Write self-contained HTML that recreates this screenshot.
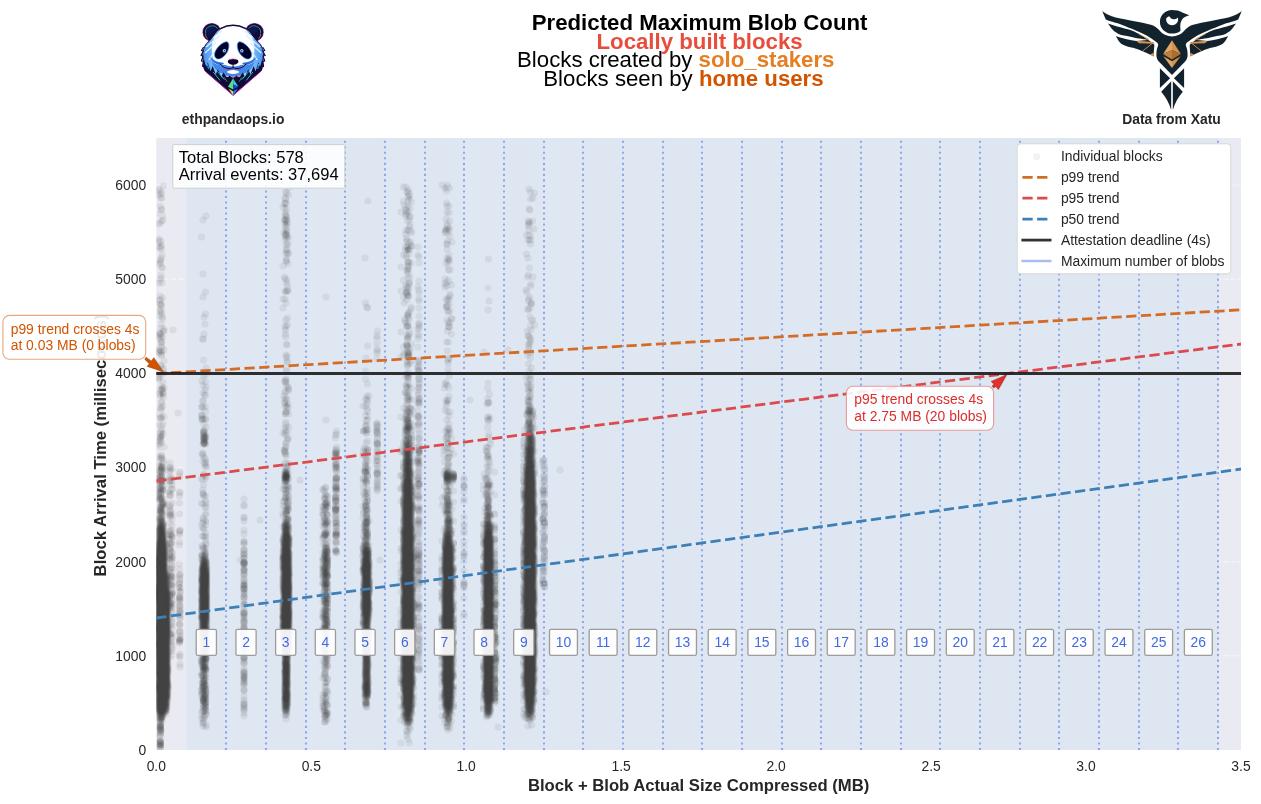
<!DOCTYPE html>
<html><head><meta charset="utf-8"><title>Predicted Maximum Blob Count</title>
<style>html,body{margin:0;padding:0;background:#fff}body{width:1261px;height:804px;overflow:hidden;font-family:"Liberation Sans",sans-serif}</style>
</head><body>
<svg width="1261" height="804" viewBox="0 0 1261 804" style="display:block;will-change:transform" font-family="'Liberation Sans', sans-serif">
<rect width="1261" height="804" fill="#fff"/>
<defs><clipPath id="pc"><rect x="156.3" y="138.0" width="1084.7" height="612.0"/></clipPath></defs>
<rect x="156.3" y="138.0" width="1084.7" height="612.0" fill="#eaeaf2"/>
<path d="M156.3 655.8H1241.0M156.3 561.7H1241.0M156.3 467.5H1241.0M156.3 373.4H1241.0M156.3 279.2H1241.0M156.3 185.1H1241.0M311.3 138.0V750.0M466.2 138.0V750.0M621.2 138.0V750.0M776.1 138.0V750.0M931.1 138.0V750.0M1086.0 138.0V750.0" stroke="#fff" stroke-width="1.39" stroke-dasharray="5.14 2.22" fill="none" opacity="0.45" clip-path="url(#pc)"/>
<rect x="186.50" y="138.0" width="39.73" height="612.0" fill="#dce5f0" opacity="0.88"/>
<rect x="226.18" y="138.0" width="39.73" height="612.0" fill="#dde6f1" opacity="0.88"/>
<rect x="265.86" y="138.0" width="39.73" height="612.0" fill="#dce5f0" opacity="0.88"/>
<rect x="305.54" y="138.0" width="39.73" height="612.0" fill="#dde6f1" opacity="0.88"/>
<rect x="345.22" y="138.0" width="39.73" height="612.0" fill="#dce5f0" opacity="0.88"/>
<rect x="384.90" y="138.0" width="39.73" height="612.0" fill="#dde6f1" opacity="0.88"/>
<rect x="424.58" y="138.0" width="39.73" height="612.0" fill="#dce5f0" opacity="0.88"/>
<rect x="464.26" y="138.0" width="39.73" height="612.0" fill="#dde6f1" opacity="0.88"/>
<rect x="503.94" y="138.0" width="39.73" height="612.0" fill="#dce5f0" opacity="0.88"/>
<rect x="543.62" y="138.0" width="39.73" height="612.0" fill="#dde6f1" opacity="0.88"/>
<rect x="583.30" y="138.0" width="39.73" height="612.0" fill="#dce5f0" opacity="0.88"/>
<rect x="622.98" y="138.0" width="39.73" height="612.0" fill="#dde6f1" opacity="0.88"/>
<rect x="662.66" y="138.0" width="39.73" height="612.0" fill="#dce5f0" opacity="0.88"/>
<rect x="702.34" y="138.0" width="39.73" height="612.0" fill="#dde6f1" opacity="0.88"/>
<rect x="742.02" y="138.0" width="39.73" height="612.0" fill="#dce5f0" opacity="0.88"/>
<rect x="781.70" y="138.0" width="39.73" height="612.0" fill="#dde6f1" opacity="0.88"/>
<rect x="821.38" y="138.0" width="39.73" height="612.0" fill="#dce5f0" opacity="0.88"/>
<rect x="861.06" y="138.0" width="39.73" height="612.0" fill="#dde6f1" opacity="0.88"/>
<rect x="900.74" y="138.0" width="39.73" height="612.0" fill="#dce5f0" opacity="0.88"/>
<rect x="940.42" y="138.0" width="39.73" height="612.0" fill="#dde6f1" opacity="0.88"/>
<rect x="980.10" y="138.0" width="39.73" height="612.0" fill="#dce5f0" opacity="0.88"/>
<rect x="1019.78" y="138.0" width="39.73" height="612.0" fill="#dde6f1" opacity="0.88"/>
<rect x="1059.46" y="138.0" width="39.73" height="612.0" fill="#dce5f0" opacity="0.88"/>
<rect x="1099.14" y="138.0" width="39.73" height="612.0" fill="#dde6f1" opacity="0.88"/>
<rect x="1138.82" y="138.0" width="39.73" height="612.0" fill="#dce5f0" opacity="0.88"/>
<rect x="1178.50" y="138.0" width="39.73" height="612.0" fill="#dde6f1" opacity="0.88"/>
<g clip-path="url(#pc)">
<g fill="#404040" fill-rule="evenodd" stroke="none">
<path d="M409.8 199.3l-1.6 0l-1-.6l-.6-.9l.2-1l3-.9l1.4 .4l.6 .9l0 .8l-1 .9zM285.2 207.4l-1.9-.6l-.4-1l.3-.6l2-1l1.2 1l-.2 1zM287.2 225.4l-2 0l-1.2-.6l-.4-2.6l.6-1.3l2-.2l2 1.5l.4 2zM286.2 234.3l-1-.2l-1.7-1.9l-.3-1.4l.6-1l2 0l1.9 1.4l.1 .6l-.6 1.5zM161.2 245.8l-2 .2l-1-.5l-.4-.7l2.4-1l1 0l.5 .4l.1 1zM406.8 253.4l-.3-.6l.4-1l-.5-.6l-1.6-.6l-.4-.8l.4-1.1l1.3-1.5l1.1-.5l1 .4l.7 .7l-.3 2l1.4 1l.2 1l-.4 .6l-1.6 .1zM409.2 355.9l-2 .2l-1.3-.9l-.1-.4l1.1-3.6l-1.2-1.4l1.1-.9l2.4-.5l.8 .4l.2 1.4l.8 1.6l.4 3l-.2 .4zM450.2 361.8l-1 .3l-1-.2l-.7-.7l0-.4l.7-.6l1.6 .1l.7 .9zM409.2 375.9l-1.4 0l-1.6-.6l.4-1.5l1.2-.4l2 .4l.6 1l-.2 .4zM408.2 389.3l-.4 .2l-.3-.3l0-2l-1.7-1l.1-1l1.3-1.3l2 .5l.8 1.4l-.2 1.6zM531.2 391.4l-1 0l-1.4-.6l-.6-.6l-.3-1.4l1.3-.5l2.6 .9l.6 1zM162.2 396.8l-1 .2l-1-.2l.1-1l-1-2l1.9-3l1.6 .9l.8 1.5l0 2.6zM529.8 400.3l-1.6 .1l-1-.6l0-.6l1.2-1.4l.3-1l.5-.3l1.6 1l.6 .7l0 .6l-.8 1zM409.8 400.3l-.6 .3l-.4-.4l-.3-1l.7-1l.6-.2l.6 .2l.1 .6zM448.8 404.3l-2 .4l-1.5-.9l-.9-2l.2-1l.6-1l2.1-.6l1.3 .6l1.1 1l.4 2zM285.8 405.8l-1.6-.2l-.4-.8l.2-.6l1.4-2l1.4-.6l.9 .2l.4 1l-.3 1.8l-.6 .6zM529.8 415.3l-3-.9l-1-2.2l.3-1l1.7-2.1l1.4-.7l1.6 0l.7 .4l.9 1.4l.3 3l-.9 1.3zM408.8 726.8l-1.6 0l-1.4-1.1l-2.9-5.9l-1.6-6l.5-4l-1.3-2l-.3-1.6l.4-3.4l-.5-5.6l1-4l-1.1-3l-.2-6.4l.3-9l-.3-7l0-9l.4-3.6l-.1-3.4l-.6-2l.4-4l-.5-6.6l.6-2.4l0-5l-.4-3l.3-6l-.1-3l.4-3l-.3-2.6l.3-3l-.5-9.4l.6-9l-.7-14l.6-3.5l.1-3.1l-.5-3l.3-4l-.3-3l.1-16l.3-2.4l-.4-3l0-7.6l.5-6l-.3-6.4l.6-5.6l-.2-6.4l-.5-3.6l.1-7l1-4.4l-.9-9l.3-2.6l1.4-2.6l.4-4.4l-.4-3l.2-4l-.5-2l.7-6.4l-.4-5l-.4-2l1.8-4.6l-.3-5.4l2.9-3l.5-1l-.1-.6l-1-.7l-.2-.7l.9-2.6l-1.4-1.4l-1-4.6l.6-3l1.4-3l-.5-2.4l2.1-6l2.1-1.6l1.2 2l-.3 2l1.2 3.6l-.2 2.4l1.5 5l-.6 2.6l-1.8 2l-.3 1l.3 2l1.5 1.4l.8 1.6l-.4 1.4l.3 1l-.7 1.6l.6 4l-.2 3.4l1.1 5l-.4 2.6l.8 9l-.1 2.4l1.2 4.6l-.2 1.4l-1.3 3.5l0 1.1l.6 4l1.2 2l.4 2l-.7 4l.5 2.4l-.2 2l.2 2.6l-.6 2l1 3l.1 2.4l.4 2l-1.2 8l.9 13.6l-.4 3.4l.7 2.6l-.5 2l.1 4l-.6 4l.7 3.6l1.1 1.8l-.1 2.1l-1.1 1.9l.5 .7l1-1.2l1.6 .2l.7 .3l1 1.6l-.3 .7l-2.5 .3l.5 .6l2 .3l.2 .5l-1.2 .3l-2.4-.7l-.6 .4l-.4 6l.3 2.6l-.2 4.4l-.5 2l.3 1.6l.1 9l.4 2l-.4 1.4l.4 5l-.5 1.6l0 4l.5 2.5l.6 .7l1.7 2.2l1.7 .6l.7 1l-.6 1l-2.5 1l-.6 2.4l-1 1.1l-.5 1.9l.1 1.1l1.9 5.5l-1.3 2.4l.7 5l-1.3 2l-.3 1.6l.3 1.5l1.3 2.9l-1 4.6l.3 2.4l-.6 3l.5 4.6l.8 2l-1.1 5l.4 3.4l-.9 4l1.2 3.6l-1.2 5.4l.4 4.6l-.3 2.4l.8 3.6l-.9 4l-.8 6l1 3l-.6 3l.5 4l-.8 9.4l-1.3 3.6l0 4l-1.5 2.4l-1.2 3.6zM367.8 414.9l-2-.7l-.1-1l1.1-.3l1.4 .4l.4 .9zM489.2 419.8l-1.4-.2l-.9-1.4l.1-1l.6-1l1.6-.8l1.6 .6l.3 1.2l-.4 1.6zM366.2 419.4l-1-.1l-.4-.4l.2-1.1l1.2-.7l1.6 .3l.3 .8l-.3 .5zM530.8 717.8l-3.6 .1l-1-.6l-.7-1.1l-1.1-3.4l.1-2.6l-1.2-7l.1-2l-.9-2l-.4-4l.9-5.4l-1.7-4l.5-4l-.4-8l1-3l-.8-4.6l1-5l-1.6-5l.9-5.4l-1.4-5.6l1.3-6.4l-.7-3l.6-4l-.7-3l.1-2.6l-.4-3.4l.7-3.6l-.7-3l1.5-4.4l-.7-2.6l-.5-10l-.7-3.4l1.4-4.6l-.7-3l1.1-4.4l-1.5-7l1.1-3.6l.8-4.4l-.2-1l-1.4-2l-.4-1.6l.8-3.4l-.5-3.6l.3-11.4l-.4-3l2-16.6l-.3-1.4l-1.3-2.6l.2-3.4l.8-2.6l-.4-4l-.7-3l1.3-5l.1-2.4l-1.4-3.6l0-6l.4-1.4l1.7-3.6l-.7-2.4l.3-1.6l-.2-3l.7-2.4l-.3-1.6l-.1-9l.1-1.4l1-3l-.2-4.6l.3-5.4l-.1-6l1.1-12l1.2-3.6l1-1l.6-2l0-1l-.7-1l0-.4l1-1l.2-1l1.8-1.6l.1-.4l-.8-1.6l.4-.6l1-.2l2 1.8l-.6 2.6l.5 2l-.6 1l.7 1.4l.4 3l1.6 3.6l1.6 5.4l-.3 12l-1 5l1 3l.2 3l-.6 5.6l1 5l-.2 3l.5 7l-.2 4l.6 5l-.3 3.4l0 6.6l1 5l-.3 2.4l.4 4l-1.4 4l1 4l-.2 4l.6 3l-.8 4l.6 3.6l0 5.4l0 6.6l-.5 5.4l.8 6l-.4 7l.2 5l-.7 4.6l-.1 3l.4 3l-.1 4.4l.5 6l.1 11.6l-.9 4l.8 4l-1.1 7.4l.7 4l.5 10.6l-.6 4l.4 2.4l.2 9l-.1 6l-.9 4.6l.3 4.4l.7 4l-.8 5l.7 6l-.2 2l-.7 2l-.3 3l.5 5.6l-.7 3l-.2 5l-.6 3l-.2 4l.3 3l-1.4 3.4l-2.4 3zM162.2 439.3l-1.4-.1l-1.6-.8l-.7-1.2l0-1l1.3-2l-.2-1.4l.6-1.5l1.6-.7l2-.3l.9 .5l.2 .4l-.6 2.6l-.9 1l.8 2l-.4 1.5zM449.2 433.8l-1 .3l-1.4-1.2l-.3-.7l.3-1.1l3-.6l1 .5l-.1 1.2l-.9 1.4zM204.2 447.3l-1.4-.5l-1-1.3l-.3-4.7l.9-1l.3-1.6l.9-.4l.2-.6l-1.5-1l.1-1l1.8-1.8l1.6-.3l.9 .7l-.7 1l-.2 2.4l1.9 2.6l-.5 2l.2 2l-1.1 2.4zM446.2 442.3l-.4-.5l.7-1l2.3-.7l1.3 .7l.1 .4l-.4 .5zM420.2 456.1l-1.4 .1l-1.6-.4l-.3-2l-.8-2l1-2.6l1.1-1l1-.4l1 .4l1 .9l1.2 2.7zM367.8 456.4l-1.6 .1l-1.2-.7l-.1-.6l1-1l-.2-1l.4-1l-.2-.4l-.8-.6l-.2-1l1.3-1.1l.6 0l.5 .7l-.6 2l1.1 .5l.8 1.5l0 1.4zM336.8 456.8l-1.2 0l-1.4-1.6l-.1-1l.4-.4l2.3-.3l1.5 .7l.3 .6l-.4 1l-.4 .6zM488.8 457.8l-1 0l-.6-.4l-.1-1.2l1.7-.2l1 .6l0 .6zM205.2 460.9l-1.4-.1l-.5-.6l.5-.5l2-.5l.1 1zM419.2 464.8l-2-.1l-.7-.9l.4-3.6l.9-1l1.4 .1l.9 .5l.2 2l.9 1l-.4 1.2zM364.8 495.3l-1-.4l-.4-.7l.6-2l-.5-2l2.1-3.4l-1.5-1.6l-.4-1.4l-1.2-1.6l-.1-1l.5-1l1.7-1.4l-.8-1l.3-3.6l1-2.4l-.7-3l.4-2l-.8-1l-.1-1l.9-2.1l.4-.4l1-.2l1.6 .5l.3 .6l0 2l.7 2.4l-.2 2.6l.9 1.6l.2 1l-.6 2l-2.2 2.4l.8 1.6l0 3l-1.7 3l.2 1.4l.7 1l-.3 2l1.4 2l.5 1.6l-1.8 2zM378.2 463.9l-2 0l-.8-.7l-.1-.4l.9-.7l2.6 .1l.5 .6l-.1 .4zM161.2 733.4l-1 .2l-1-.7l-1.3-2.1l-.7-2l-.1-1.6l.8-2.4l.8-1l.2-1.6l-2.5-4l-1.2-7.4l-.8-2.6l.4-5l-.3-4.4l.7-3l-1.1-7.6l.9-7.4l0-5l-.5-4.6l.3-2.4l-.3-2l.3-3.6l-.7-2l.8-6l-.3-4.4l-1-3l.6-3.6l-.7-4l.9-2l.1-5l-.5-4l-.8-2l-1-.5l-.3-.9l.4-1l1.9-2.2l.6-1.8l-.4-3l.4-2.6l-.5-7.4l0-10.6l-1.1-3.2l-.7-1.2l-.1-1l.2-1.6l1.9-4l.3-3.4l-.1-9l-.8-5l.9-6l-.8-5.6l.8-3.3l-.3-2.1l.7-6.6l-.3-3l.6-3.4l-.1-10l1.7-9l2.3-5.6l-.2-1l-1.3-1.4l-.1-1l2.1-3.6l-.3-3.4l.3-1.6l-.1-.5l-1.2-.9l-.4-1l.8-4l-1.6-1l0-.6l.1-3l1.8-8l-1.1-3.4l.8-4l-.4-1.6l.3-1.4l-.5-1.6l.6-2l-1.2-1.4l.1-.6l2.1-2l0-.4l-.8-.3l-.4-.7l.3-.6l1.1-.2l2.1 1.2l.5 2.9l1.4 1.1l.5 1.6l-1 5l1.4 3l-.2 4l-2 3l1.2 2l0 2.4l-.7 2.6l-1.5 3l2.3 5.2l-.3 2.8l.9 1l.4 1.4l-.9 2.6l-.7 4.4l.7 1l-.4 2.6l1.2 2.4l1.9 6.6l-.2 3l.8 7l-.3 2.4l.3 2.6l.6 2.7l1.5 1.3l.9 2.4l-.8 .3l-1.6-.2l-.4 .9l.7 4l-.3 3l.6 .5l.4-1l2-1l2 .5l.7 1l-1.8 3.6l.4 1.4l-1.3 .3l-2.4-1.1l-.5 .4l.3 1.4l-.4 3l0 6.6l.6 .9l1.7 1.5l1.7 .4l1 .6l1.4 2l-.7 2l.2 1.6l-.9 .7l-2 .3l-.5 1l.2 1.4l.6 1.6l-.7 4.4l.5 1l-.2 1.6l.2 .4l1.6 1l.1 .6l-.3 1.4l.3 2.6l-1.4 4.4l.2 .7l1.4 1l.9 1.9l-.3 1l-1.6 .9l-.6 1.5l-.4 3l.3 2.6l-.6 3l.4 2.4l-.3 5.6l.4 4.4l.4 1.4l1.9 3.2l.5 2.4l-.6 1l-2.4 1.9l.2 3.1l-.5 3l.4 4l.1 4l-.4 4l.6 12.6l-.6 8l.7 9l-.5 5.4l0 6.6l-.6 3l-.5 7.4l-.4 2.6l-.7 1.4l-2.5 2.6l-1.5 4l-2.5 3l0 1l.7 1.3l.6 2.1l0 2l-.6 1.5zM286.8 466.4l-3 0l-.6-.6l.1-1l1.5-1.1l1.4 .1l.6 .4l.5 1l-.1 .8zM338.2 467.3l-4 .2l-.4-.3l-.3-1l.5-1l.8-.5l1.4-.3l1.6 .1l1 .6l.3 .7l0 1zM286.2 484.3l-2-.2l-1-.6l-1.8-3.3l-.5-3l.5-4.4l.5-1.6l1.9-2.1l1-.6l1.4-.3l1.6 .5l1.8 2.1l1.1 5l-.5 4.4l-.6 1.6l-1.4 1.9zM337.2 470.4l-1.4-.3l-.4-.9l.8-.6l1.2 .2l.7 1zM448.8 724.4l-2-.9l-1.3-1.7l-.1-1l.6-1l-.6-1.6l-.1-1.4l-2.2-4l-1.6-7l0-4l-.8-5l.3-5l.6-2.6l-.1-5l-.7-3.4l.2-3.6l-.6-3.4l.2-2l.8-3l-1.1-4.6l.9-3l0-1.4l-.9-4l0-4l.9-9.6l-.5-5l.5-4l-.8-5l.7-15l-.5-10.4l.5-2.6l-.2-6.4l.2-2.6l-.4-4.4l.7-2l-.2-3l.6-6.6l-.9-6.4l.1-10l.5-7.6l-.5-3.4l1-8l.3-5.6l1.1-5.4l1.1-3.6l-.5-4l2-5l-1.1-2.4l-.5-3.6l.4-.9l.8-.5l-.7-1.6l.5-3l-.4-3l-.7-1.4l0-2l1.2-2.6l.3-1.7l2.7-3.3l-2.1-2l-.4-2.4l-.9-1l-1.7-4l-.9-3.6l-.1-3l.5-1.4l.9-1.2l1.4-1.1l2-.6l2 .6l2 1.9l2-.2l2 .6l1.4 1.4l.9 3l-.4 2l-.9 1.6l-2 1.1l-2.4 .1l-.6 .5l-.3 1.3l-1.1 .7l-.8 1.3l1 1.4l.1 3.6l1.2 2l-1.4 2.4l.3 2l-.3 1.6l1.6 4.4l.2 1.6l-.2 2l-1.1 3.4l.9 2.6l-.9 1.4l-.2 1.6l2.3 3.4l.6 2l0 2.6l-1.3 2l.1 .4l1.1 2l.4 1.6l.3 5l-.2 7l1.4 3.4l1.1 5l-.9 4.6l.6 3l.1 2.4l-.9 3l1.4 5.6l-.3 4.4l-.6 4l.4 3l.1 6.6l-1.2 7.4l.5 4l-.4 2.6l1.2 3.4l-1 11l1 4l-.6 3.6l.2 2.4l-.3 2l.5 3l0 7l-.7 3.6l.9 5.4l-.4 3.6l.3 2.4l-.2 4.6l-.6 4l.8 3.4l-.4 3.6l.3 3l0 6l-1 6.4l1 4l-.5 5l.1 2.6l-.5 2.4l.3 3.6l-1.1 3l-.6 10l-1 2l-1.6 1.4l0 .6l1 1.4l-.3 2.6l-.8 1.3zM204.8 480.4l-1-.1l-1-1.2l-.4-3.3l.4-.4l1.4 .2l1.2 1.2l-.1 3zM419.2 482.4l-1 .2l-1-.2l-.6-.6l0-.6l1.2-.9l2-.1l.6 .6l0 .4l-.2 .6zM489.8 486.9l-1 .1l-1.6-.4l-1.1-1.4l.3-1.4l1.4-1.2l2 0l1.2 1.2l.4 1.4l-.6 1zM337.2 490.9l-2 0l-.9-.7l-.3-.4l.2-1.2l1.6-2l1.9 .2l1.2 1.4l-.6 2zM545.2 492.1l-.4 .1l-1.2-.4l0-1l-.8-.6l-.5-1l.5-.9l2 .1l1.3 .8l.1 .6l-1.1 1.4zM285.2 492.4l-1 .3l-.4-.3l-.1-1.2l1.1-.8l1.4-.1l.5 .5l-.1 .4zM172.2 492.9l-1 .2l-1-.5l-.5-.8l.3-.6l.8-.2l1.4 .6l.4 .6zM286.8 500l-1 .2l-.4-1l1.2-1l.4-1l.8 .1l.6 .5l0 1zM337.2 504.3l-1.4 .1l-1-.3l-2-2.3l-.2-1l.4-1.6l1.8-1.5l1.4-.3l1 .3l1 .8l.8 1.3l0 2.4l-.9 1.6zM368.2 505l-2 0l-1.7-1.2l0-1l.3-.5l1.5-1.1l-1.4-1.4l.1-.6l.8-.4l1 0l1.4 1l-.1 1.4l1 2l-.2 1zM287.8 713.9l-2 0l-2.6-1.5l-1.3-2.2l-.6-2l-.3-9.4l.4-4l-.4-3.6l.5-10l-.5-10l.5-4l-.2-4l.3-4.4l-.5-3.6l.1-3.8l-.6-2.6l-.5-6l-.8-5l.3-3.6l-.4-9l.3-4l-.4-4.4l.4-4l-.2-8l.2-4l.8-3.6l-.9-9.4l.1-11l.4-3l-.6-6.6l-.1-10l.6-4l-.2-3l.6-3l-.8-7.4l1.8-7.8l-.2-6.2l.3-2l1.9-4l2.6-2l.2-.6l-.3-1l.3-1l-.9-1.4l.3-1.6l-.6-1.4l.3-3l1.4-1l-1.7-1.6l-.9-1.4l0-1l.9-.3l3.4 .3l1.8 3l-.8 2l0 1l-.7 1l0 .4l1.3 1.6l.1 1.4l-2.9 2l.4 2l1.4 1.1l1.6 3.5l1.6 6l.2 2l-.6 3.4l.9 3l.2 2.6l-.1 6.4l-.6 3.6l.6 4l.2 22.4l-.3 3l.3 7.6l-.1 10.4l.3 3l-.5 7.6l.4 4.4l-.2 26.6l-.3 10l-1.3 4.4l.1 3l-.4 7.6l.3 2.4l-.3 13.6l.3 5.4l-.3 4.6l.4 5.4l-.2 11l-.6 4.6l-1.5 3.4zM490.2 716.3l-2.4 .3l-2.6-1.1l-1.1-1.3l-.6-3l0-4.4l-.7-5.6l-1-2.4l-.8-6l.3-3l-.3-3.6l.9-4l-.5-4l.8-3l-.3-1.4l-1-2.6l-.2-2l.4-2.4l.9-2.6l-.6-4.4l.7-3l.1-3l-.1-2.6l-1-3l-.3-4.4l-.8-3.6l.8-3.4l-.5-4l1.1-3.6l.5-3l-1.5-4l-.2-5l.6-3.4l-.6-3.6l.5-2l1.5-2l.4-1l-.4-2.4l-1.5-5l.1-1l1.1-3l-.7-3.6l-.1-9l-.9-8.4l.8-3.6l-.2-3l1.5-3.4l-1.3-8.6l.2-2l1.3-3.4l-.8-2.6l.1-2.4l-.5-1.6l-.1-2.4l1.8-4l-.2-2.6l-.6-1.4l.6-1.6l-.3-1.4l.8-3.6l.5-5l.2-1l1.8-3l0-2.4l.8-2l-1.5-1.6l.3-5.4l.8-1.9l.6-.3l2-.1l1.4 .5l.8 1.2l-.2 3l.4 3.6l1.4 3l-.1 1l-1.5 3.4l0 1l2.9 4.6l.3 1l-.1 5.4l-.4 3l.9 7.6l-.2 10l.8 4l-.6 2.4l0 2.6l.6 1.4l-.6 4l.3 5l-.7 2l.6 5.6l-.1 2.4l.4 2.6l-.4 2l.5 2l.7 1l.4 1.4l1.2 1l.3 1l-1 2l-1.6 .7l-.5 .9l.7 3l-.7 1.4l.1 1.3l.4 .5l2 .6l.7 1.2l-.3 3l-.8 2.2l-1.7 .8l.1 .8l.8 .6l-.8 .7l-.6 1.3l.3 8.6l.3 .5l1.8 .5l.3 .4l-.3 1.6l-1.8 1.9l-.3 1.5l.4 1.6l1.3 1l0 2l.9 1.4l.8 3.6l-.3 1.4l-1.4 2l-.1 .6l.9 1l0 .4l-.6 .8l-1.7 .8l.2 1.4l-.6 3l.7 3l-.7 2.6l.5 .8l1 .5l1.6 1.7l1.5 3.4l-.5 2l-.5 .6l-3 .4l-.6 1l.3 1.6l-.1 3l1.7 1l.1 1.4l1.3 1.6l-.1 1l-1 1l-.1 .4l1.1 2l.4 4l-.3 2l.4 2l-1.9 4.6l1 1.4l.2 1l-1.3 2l1.7 4l-.9 2.4l-2 1l-1.6 2.2l-.1 2l.8 3.4l-.3 1.6l-1.1 2.4l-1.7 2.4zM328.2 505.4l-1 .3l-1-.2l-.5-1.3l.3-1l.8-.1l1.9 1.1l.1 .6zM544.8 506.4l-1.6 .2l-1-.4l-.2-1l.2-1.5l2-.6l1.6 0l.5 1.1l.1 1zM419.2 509.8l-1.4-.5l-.8-1.5l.8-1.8l1-.4l2 .5l1 1.1l0 .9l-1 1.1zM326.8 509.4l-1 .1l-1.4-.7l-.7-1.6l.3-.4l1.8-.5l2 .6l.3 .9l-.2 .4zM336.8 513.8l-1.6 0l-1-.3l-1.3-1.7l-.1-1.6l.5-1.4l.5-1l1-.8l1.4-.2l1.6 .3l1.1 1.7l.3 2l-.2 1.4l-.8 1zM366.2 509.3l-1.4 .4l-.7-.5l.1-1l1.6-1.2l1 .2l.9 1l-.2 .6zM325.8 516.5l-2-.3l-.2-1l.6-1.2l1.6-.1l.9 .9l-.1 1zM367.2 705.3l-2 .2l-1-.8l-.5-1.5l0-1l1.8-1l-3.2-3.4l-.9-3l.2-3l-.5-4.6l.8-7l-.6-3.4l.5-7l-.3-7l.4-3.6l-.6-4.4l.2-4.6l-.3-6.4l.6-4l-1.3-5l-.1-3.6l.7-3.4l-1.6-5l.9-3.6l-.6-2.4l.6-5l-.7-3l-.1-5l.7-6.6l-.6-3.4l.6-4l-.2-5.6l.5-7l-.9-4l-.3-4.4l.9-3.6l-.7-4l1.9-4.4l-.1-1l-1.1-3l-.1-3l1.6-5l2-3.6l.7-3l-.5-2.4l-1-1.6l.4-1l1.4-1.4l-.3-1l-1.3-1.6l.8-2.4l-.6-4l.5-2l-.3-2l.4-1l1.2-1l2.6-.9l1 .3l.5 .6l.3 2l.8 1.4l-.5 1.6l-1 1l.2 2.4l-1.2 2.6l1 2l.3 2l-.3 2l1 1.4l-.5 2l-.8 1l-.3 1l3.9 12l-.2 7l.8 3.6l-.2 3l.1 3l-.4 3l.4 3l-.5 3.4l.8 3l.2 10.6l-.4 3.4l-1 4l1 4.6l-.3 3.4l.5 3l-1.9 17l1.4 4.6l.3 2l-1.1 4.4l.3 3l-.5 6l.2 3.6l-.5 3.4l.2 8l.5 3.6l-.8 7.4l.4 3l-.2 3.6l.5 4l-.5 4.4l.4 4.6l-.8 6l-1.7 2.4l-1.3 4.6zM327.8 525.4l-2 .3l-3.6-.5l-.2-.4l.6-2l1.1-2l0-1.6l1.1-1.2l1.4 .1l1.7 1.1l-.4 1.6l1.5 2l-.6 2zM205.2 524.3l-1.4-.5l-.5-1l.5-1l2-.7l1 .6l.4 1.1l-.6 1zM336.8 525.3l-1.6 .1l-1-.4l-.3-.8l.2-.4l1.7-1.3l1.4-.1l1 .4l.6 .8l-.1 .6zM337.2 536.4l-2 .1l-1-.4l-.7-.9l-.5-1.4l0-1l.4-1l.8-.9l2.6-.6l1.4 .4l1 .9l.3 1.2l-.3 2l-.7 1zM326.2 538.3l-2-.1l-1.8-4l.7-1.4l1.7-1.5l1-.3l1.4 .3l1 .6l1.5 3.3l-.5 1.2l-1.6 1.4zM172.2 539.8l-2.4-.6l-1-2.4l0-.6l.4-.4l2-.3l1 .4l.2 .9l-.9 1l1.3 1l0 .5zM205.8 714.9l-2.3-.1l-1.9-2l.4-2l0-2l.6-2l-.9-3l-1.5-2.6l-.4-2l1-6l-.4-5.4l.4-2.6l.7-2l-.2-2.4l.6-1.6l-.3-1.4l1.6-3l-1.4-2l-1.8-1.6l-.5-2l-.3-5.4l.7-9l-.5-3l.6-3.6l-.6-5.4l-.9-2l-.3-1.6l.5-3.4l-.4-3.6l.2-11l-.7-4l.5-3.4l-.4-5l.4-4l-.4-5l.4-3.6l-.3-3.4l.2-8l-.3-4.6l.6-13l.9-3.4l-.3-3l.4-1.6l2.6-4l.6-4.4l1.8-1.6l-.5-1l.5-1.4l-1.1-2l.2-1l.6-.3l1.4 1.3l.2 1l-.6 1.4l.3 1l1 1l.8 2l-1.5 2l-.1 .6l1.4 2.4l1.8 2l.7 1.6l.6 8l0 61.4l-.6 8.6l.5 4l-.6 3.4l.6 4l-.8 6.6l.3 4l-1.2 3.4l1 5.6l-.4 1.4l-2.3 3l1.1 1.3l.5 1.7l-1.4 2.6l-.4 2l.3 1.4l-.4 2l1.1 3.6l-.1 2l-.7 1.4l2.2 5.6l.1 1l-1.5 4.4l.3 1.6l.9 1l-.3 2.4l-1.7 3l1 1l.1 .6zM326.2 636.8l-1-.1l-2.3-2.5l-1.2-3l-.4-3l.2-2l2.3-3l0-.7l-1.7-3.3l-.1-3l1-6l1.3-1.4l.2-1l-2.1-3.6l-.2-1.4l.3-1.6l-.4-2l.7-1.4l.1-2.6l1.6-2.4l.7-2l-2.4-3l-1.4-3l-.1-2l.9-2.6l0-1.4l-1.1-3.6l.1-3l-.7-4l1.1-3.4l-.3-7l-.4-2l1.1-6l1.9-3l1.9-1.8l1-.3l2 .4l.5 .7l.5 2l.4 8.1l.7 4.3l-.2 5l-.8 3.6l1.3 6.4l-.3 1.6l-1.9 3.4l1 2.6l.2 3l-2.8 3l.2 1l.7 1l-.3 1.4l1.3 2.6l-.4 2l.8 2.4l-.4 3l.2 1.6l-.7 1.4l.5 2l-.7 1l.3 1.6l-.4 2l.4 1.4l0 2l1.2 4.6l-.3 4l.2 1.4l-.3 2l-1.1 2l.6 3.6l-.3 2l-.7 .8zM337.2 552.9l-1.4 .3l-1-.3l-1-.7l-.7-1l-.1-1.4l.5-1l2.3-1.6l1-.1l1 .5l1.4 1.6l-.1 1.6zM544.8 555.8l-.6 0l.2-.6l-1.1-1l.1-.4l1.4-.3l1.4 .3l.3 .4l-.2 .6zM244.8 565.8l-.6 .1l-2-.9l-1.1-1.8l.2-2.4l.9-1.2l1-.5l2.6 .1l1.1 1l.4 1l.1 2l-.4 1zM245.2 573.3l-1 .1l-1.4-.3l-1.6-1.3l0-2l.8-2l1.8-.9l1 0l1.4 .6l1.1 2.3l-.1 2.1zM420.8 573.9l-1.6 .3l-2.4-.4l-.5-1.6l.5-.6l1.4-.8l2.6 .2l.9 1.2l-.2 1zM543.2 584.3l-1-.1l-.4-.5l-.2-1.5l1.6-1.1l1.9 .1l.6 1l0 1l-.5 .6zM245.2 586.3l-1 .4l-2.4-1.3l-.2-.6l.3-1.6l.9-1.2l2-.4l1.4 .8l.7 2.8zM180.8 591.3l-2 0l-1.1-1.1l.1-1l1.4-1l-1.4-.7l-.7-1.7l.7-1.1l1.4-.8l2 .2l1 .9l.4 .8l-.4 1.3l-1.4 1.1l1.4 .9l.1 1.1zM245.2 597.8l-1.4 .1l-1.6-.4l-.4-.7l-.7-2.6l.7-3.6l1-1.4l1-.4l2 .4l1 1.4l.3 1.2l.3 2.4l-.6 2.6l-.6 .7zM244.2 605.3l-1.4-.4l-1.2-1.1l.1-1.6l.7-1l2.8-.2l1 .3l.6 .8l.2 1.1l-.4 1l-.8 .7zM244.8 618.3l-2-.2l-.5-.3l-.1-.8l1-.3l2.6 0l.4 .3l0 .8zM246.2 631.3l-1.4 .3l-2-.1l-.9-.7l.1-.6l4.2-.1l.4 .7zM181.2 642.8l-1.4 .3l-1-.3l-1-.7l-.6-1l.7-3.9l.9-.7l1-.4l2 .5l.8 1.2l.2 3.3zM325.2 653.9l-.3-.1l-.4-1.6l-2-1.4l-.9-1.6l-.2-1l.9-5.4l.9-1.2l2-.8l2 .4l1 1l.2 1l-.6 1l.9 3l-1 4zM326.8 665.8l-1.6-.2l-.4-.5l-.2-1.3l.7-1.6l-1.2-1l-.8-2.4l.1-.6l3.8 .1l.8 .5l.6 1l.1 2.4l.6 1.6l-1.5 1.5zM245.2 682.5l-1.4 .1l-.9-.4l-1.2-3l-.5-3l.2-1.4l2.4-1.4l2 .3l1 .6l.5 .9l-.6 4.6l-.5 1.4zM327.8 682.3l-3.4-.5l-.4-1l.2-.6l1-.9l2 .1l.6 .4l.6 1.4l-.2 .9zM327.8 686l-1.6 .2l-1.8-.4l-.5-.6l0-1l.3-.5l1.6-.6l2 .3l.9 1.4l-.5 .9zM326.2 696.9l-1 .3l-1.7-1.4l0-1.6l-.6-1.4l.6-.6l1.3-.2l1 .4l1.4 1.4l.9 1.4zM325.2 706.5l-.9-1.7l-.4-2l-1.1-1l-.2-.6l.6-.7l1.6-.5l1 .4l1.1 1.4l-.7 1.3l-1.2 .7l1 1l-.2 1.2zM328.2 717.4l-1 .3l-1.4-.4l-1-.8l-1.2-1.7l0-1.6l.5-2l-1.4-2l.5-.8l1.6-.8l.4-.7l1.2 .9l.5 2l1.9 1.3l1 1.7l-.6 3.4zM161.8 746.8l-1.6 .2l-1.4-.5l-1.4-2.3l-.2-1l.6-.8l2.4-1.1l1.6 .2l1.4 .9l.5 1.4l-.2 1l-.7 1.3z" fill-opacity="0.200"/>
<path d="M529.8 414.3l-1.4-.5l-.4-1.6l.2-.7l1.2-.7l.4-.8l.4-.1l1.4 3.3l-.8 .9zM407.2 432.3l-.5-.1l-1.7-2.4l-.7-2.6l.8-2.4l3-4l-.3-.6l.2-.4l.8-.1l.4 .2l.2 1.9l2 3.4l.5 2.6l-1.1 2.4l-2 1.5zM530.8 716.9l-2 .3l-1.7-.4l-.9-.9l-1.1-2.7l-.1-3.4l-.6-3l-.1-5.6l-1.2-5.4l.4-6.6l-1.3-4l.4-3l-.2-6.4l.7-5.6l-.5-3.4l.6-6l-1.2-5.6l.7-4.4l-1.3-3.6l-.3-2l1.5-6l-.6-4l.3-4.4l-.7-9l.6-4l-.3-2.6l1-4l-1-11l-1-4l.3-1.4l1.2-3l-.3-2.6l1-6l-1.8-5.4l.4-2.6l1.3-2.4l0-5l-1.5-2.6l-.3-1.4l1.2-5.6l-.6-2l0-6l.5-3l-.9-5l.8-4l1.1-12l-.9-4l-.2-3.4l.7-3.6l-1-6l1.2-5l0-2.4l-1.1-3l-.4-3.6l.8-4.4l1.3-3.6l-.5-2.4l.2-4.6l.4-2l-.4-7.4l.4-5l.7-3.6l-.2-4l.5-3.4l-.3-6.6l.8-6.4l.3-6.6l1.2-3.1l1.6-1.9l.4-1l1-.5l1 .2l1 1l2.3 4.9l1.5 5.4l0 5.6l-.3 2l.2 2.4l-1 6.6l1.1 6.4l-.5 6l.8 4.6l.3 5l0 8.4l.5 5l-.4 7l.3 5l.7 3l-.2 3l.3 3l-1.1 5l1.1 10.6l-.6 4.4l.5 10.6l-.2 5.4l-.4 2.6l.7 8l-.2 8.4l.2 3.6l-.7 7.4l.8 20l-.8 10l.5 3l0 2.6l-.7 5.4l.7 4.6l.3 10l-.6 5l.6 12l-.8 9l.1 4.9l.6 3.5l-.8 5l.5 5l-.9 8l.4 6l-.8 3.6l-.8 14.4l-.9 2.6l-2.3 2.5zM205.2 442.9l-1.4 .2l-1.3-1.3l.3-1l2-1.2l1.4 .6l.3 .6l-.6 1.4zM407.8 724.8l-1.6-.8l-2.6-4.2l-1.6-5.6l.6-4.4l-1.3-2.6l-.3-1.4l.3-3l-.5-5.6l1-3l-1.1-4l-.4-6.4l.1-3.6l.4-3.4l-.5-9l.1-9.6l.4-6l-.5-3l-.1-5.4l.4-7l-.4-16.6l.6-3.4l-.3-2.6l.1-8.4l-.4-3.6l.3-6l.6-3l-1-14l.9-6l-.6-4.4l.2-3l-.3-4l.5-18l-.5-3l.2-3.6l-.2-4.4l.8-7.6l-.4-4.4l.7-6.6l-.3-2l.1-3l-.8-4l.3-7l1-4l-.8-10.4l1.7-4.6l.2-4l-.4-4l.4-3.4l-.3-2l.4-8.6l-.4-4l1.3-4.5l-.2-4.5l.8-2l1.4-1.2l1.4-.9l2-.2l.8 .3l1.5 5l0 4l.8 5l-.2 2.6l.7 11.4l1.1 5l-1.2 4l.1 2.3l.4 3.6l1.4 3.7l-.7 4l.6 3l-.7 3l0 2l1 4l.4 5l-1 8l.5 6l-.1 3.4l.5 3.6l-.4 3.4l.5 2.6l0 5.4l-.7 5l.8 4.6l-.3 4.4l.4 2.6l-.1 13l-.7 3.4l.7 8.6l-.4 4.4l.6 4.6l-.4 6.4l1.8 8l-.7 2l-1 5.6l.5 4l.1 9l-.8 4l1 5l-.8 9.4l.5 8l-.4 4l.2 2.6l-.6 4.4l.7 3l-.7 7.6l.4 3l-.2 3l.6 3l-.9 4l-.6 6l.6 3.4l-.3 3l.3 6.6l-.8 5.4l-1.2 4.6l0 3.4l-2.6 4.8zM286.8 483.3l-2-.1l-1.6-1l-1.3-2.4l-.4-2.6l.8-5.4l1.5-1.9l2-.9l1.4 .3l1.6 1.5l1.4 4.4l-.2 3l-.6 2.6l-1.2 1.7zM447.2 484.3l-1-.6l-2-2.6l-1.1-3.9l.1-3l.4-1.4l1.6-1.6l2-.7l1.6 .4l2.4 2.2l2-.1l2 .8l1.3 1.4l.4 2l-.5 2l-1.2 1.5l-1.4 .5l-2.6-.1l-1.4 1.8l-1.6 1.1zM162.2 480.8l-2 .3l-1-.7l-.1-.6l.5-1.6l.6-.8l1-.4l1.6-.1l1 .5l.1 1.4l-.3 1zM160.8 491.8l-1-1l.5-1.6l-.1-1.5l.6-1.1l1-.1l.5 .3l.1 .4l-.4 1l.1 2l-.9 1.5zM448.8 509.1l-1-.3l-1.4-1.6l0-.4l.7-.6l-.6-1.4l.1-2l.6-.9l2 .3l.2 .6l-.2 .4l.5 4zM489.2 511l-2.4-1l-.5-.8l.4-4.4l1.1-1l1.4 .1l.8 .9l-1.5 2.4l.2 1l1.1 1.6zM160.2 511.8l-.7-.6l.4-1.4l1.9-1.7l1 0l.4 .7l-.7 2l-.7 .6zM448.2 513.3l-1-.5l-.9-1.6l1.9-1l.6 0l.5 1l-.4 1.6zM336.8 512.8l-2-.2l-.7-.8l.1-.8l1.6-.4l2 .4l.3 .8l-.3 .4zM489.2 715.8l-2-.1l-1.7-.9l-.8-1l-.7-2.6l0-5l-.7-6l-.9-3.4l.1-3l-.6-3l.1-4.6l.5-4l-.2-3l.6-5.4l-1.3-3.6l1.2-6l-.4-2.4l.4-9.8l-.8-3.2l-.6-5.6l-.7-2.4l1.2-4.6l-.8-2.4l1.5-7.6l-1.5-4.4l-.2-4l.5-3.6l-.5-4l.3-1.4l1.6-2.1l.3-1.5l-.2-2.4l-1.2-4.6l.9-5l-.7-13.4l-1-6.6l1-4l0-2.4l1-4l-.9-9l1.1-5l-.9-7l.3-2.6l1.1-4l-.1-7l.8-7.4l.7-1.6l1.9-2.4l.3-2.7l.6-.6l1-.3l.4 0l.7 .6l0 1.4l.6 1.6l-.3 2.4l1.6 2.6l1.8 4l-.4 8l.9 7.4l-.2 9.6l.5 4.4l-.5 3l.5 4l-.4 3.6l.2 4l-.5 3l.7 10l-.4 3.4l1.2 5.6l-1 2.4l.3 3l-.5 3l.9 4l-.2 2.6l-.6 2l0 12.4l.6 2l-.4 3.6l.1 4.4l.4 1.7l1.6 1.3l-.2 .7l-1.4 1.2l-.8 2.1l.4 7.6l-.2 2.4l.3 3.6l-.3 2.4l.6 3.1l2 .5l.9 1l.2 1l-1.1 1.4l-2 .9l-.9 2.7l.7 5.4l.1 6.6l2.1 2.4l.2 1l-1.1 3.6l-.2 1.4l-.6 1l-1 3l.6 3l-.2 3l.9 2l-.4 3l-2.1 4l.3 4.6l-.5 3.4l-1.5 2.1zM161.8 721.8l-1 .3l-1-.5l-1.6-1.4l-.9-1.4l-2-10l-.1-9.6l.5-3l-.8-8l.6-6l0-7l-.3-4l.1-19l-.8-5.4l.3-2l-.1-4l.5-3l-.2-5l-.7-5l1-7l-.4-23.6l-.8-6.4l1-5l.2-3l-.4-15l.4-5l-.6-5.6l.6-3.4l.2-11l.7-3.6l-.3-10l1.9-9.4l2.9-5.6l.5-.2l1 .2l.4 .6l.1 1.4l1.5 1.8l2 6.8l.5 14l1 5l-.5 3l.6 4.4l-.3 18l.7 2l3 3l-.6 4.6l-.5 1.4l0 8l.4 3l.8 2l0 5.6l-.4 2.4l.4 3l-.9 13l.3 2l-.2 5.6l1.1 10l-1 4.4l.1 3l-.4 3.6l.4 4.4l-.2 12.6l.6 7l-.7 7.4l.8 9.6l-1.7 23l-.7 2.5l-3 3.5l-1.4 4zM449.2 717.4l-1.5-.2l-3-3.4l-1.1-2.6l-1.2-4.4l-.4-3l.2-2.2l-.8-4.4l.1-4.4l.6-3l.2-3l-1-6l.3-4l-.6-3l1-5l-.7-4.6l.6-3l-.6-4l.1-3l-.4-3l.8-9l-.6-4.4l.6-4.6l-.6-6l.1-10.4l.3-3.6l-.3-10l.4-5l-.3-11l.6-2l-.2-4l.5-5.4l-.8-6.6l.6-18l-.5-4l1.3-13l1.3-5.4l1.2-3l-.8-4l.2-1l.8-2l1.6-2.3l1-.5l3.1 2.8l1.2 2.4l-.2 2l-1.3 2.6l1.2 2.4l.4 1.6l.3 12l2.4 8l-.1 1.4l-.7 3l.4 6l-.8 3l1.2 4l.2 4.6l-.8 5l.4 9.4l-.9 7.6l.1 7.4l.9 3.6l-.3 2.4l.2 3.6l-.7 4.4l.4 6.6l-.3 5.4l.6 3l.2 6.6l-1.1 5l1 5l-.5 2.4l.4 5l-.6 6.6l.7 3.4l-.5 3.6l.4 3l.1 6l-1 7l.9 3.4l-.6 4l-.4 9.6l-1.1 8.4l0 3.6l-1.2 2.4zM366.8 522l-.6 .2l-.6-.4l-.4-1.9l.5-1.1l1.5-.4l1 .7l.3 1.7zM286.2 712.8l-2-.6l-1-.9l-.9-2.1l-.5-3l-.3-8l.4-3l-.3-4l.3-15l-.4-4.4l.5-4.6l-.3-4l.4-4.4l-1.2-16l-1-4.6l.3-4l-.5-9l.3-4l-.5-4.4l.6-4l-.3-3l.2-8l.9-5l-.9-9l.1-10.6l.4-4l-.6-6l.2-4l-.4-6l.7-4l-.1-3.4l.5-2.6l-.7-7.4l1.7-7l-.2-7l.3-2l2.3-3.7l1-.8l1-.2l1.6 .4l.9 .7l1.7 4l1 4.6l-.4 4.4l1.1 5l0 7l-.6 3.6l.6 4l0 19l.3 3.4l-.4 3l.4 7l-.2 11l.4 3l-.6 7.6l.4 4.4l-.3 17l.1 10.6l-.3 8l-1.3 5l.2 3.4l-.5 7l.3 3l-.2 13.6l.2 5.4l-.3 5l.4 5l-.3 12l-1.2 4.5l-1.4 1.8zM327.2 524.4l-1.4 .3l-1.3-.5l-.8-1l.5-1.2l1-.7l2 .8l.6 1.1zM367.8 525.8l-1 .4l-1.6-.3l-.7-1.1l.3-1.1l1.4-.6l1 .4l1 1.3zM325.8 537l-.8-.2l-.8-1.6l-.1-1l.7-.8l1.4-.3l1.2 .7l.2 1.4zM367.2 537.3l-1-.2l-1-.8l-.7-2.1l.3-.4l1.4-.1l.7 1.1l1.4 1l0 1zM367.2 700.3l-2-.5l-1.7-1.6l-.9-1.4l-.5-2l.2-2.6l-.6-5l.7-7l-.4-5.4l.4-16l-.5-4l.2-4.6l-.3-3.4l.5-7.6l-1.1-6.4l.7-3l-.1-2.6l-1.3-3l-.3-1.4l1-4l-.7-3l.5-4l-.7-3l-.1-5l.7-7l-.6-3l.7-4l-.3-5l.7-7.6l-1.1-4.4l-.3-4.6l.9-3.4l-.5-3.6l1.7-4.4l-1.1-6l2.2-7.1l2-2.3l1-.4l1.6 .9l.7 .9l2.9 8l.3 4l-.3 3l.6 5l-.3 8l.3 3l-.4 3.4l.8 3.6l-.1 4l.3 5.4l-1.2 7.6l.7 5l-.2 3l.3 3.4l-1.6 17l1.4 6.6l-.9 4.4l.1 4.6l-.3 4.4l.3 3l-.5 4.6l.5 11.4l-.6 7l.6 10l-.3 5l.2 5.6l-.9 5l-2 2.1zM326.2 587.9l-1.4 .1l-1-.4l-1.9-2.8l.1-2l1.3-2.6l.1-1l-1.6-4l-.4-7l.9-4l-.4-6.4l-.4-2l.3-2.6l1.2-3.4l1.6-2l.6-.3l2 .3l1.8 1.4l.3 6l.8 5.6l-.1 3.4l-.7 4.6l.1 2l.7 2.4l.1 2.6l-2 4.4l1 2.6l.2 2.4l-1.1 1.6zM204.2 673.3l-3.4-2.4l-.7-1.1l-.2-1.6l.1-9.4l.6-3l-.6-4l.7-3.6l-.6-5l-1.2-4l.5-3.4l-.3-3l0-11.6l-.8-4l.5-3.4l-.3-5.6l.3-3.4l-.4-4.6l.4-4l-.4-4.4l.4-7l-.4-4.6l.5-5.4l-.1-4.6l.4-4l.6-2.4l.1-3.6l.6-1.4l1.3-1.5l3-1.8l3.3 2.7l1.2 3l.5 14l-.2 18l.3 4.6l-.4 27.4l.2 4.6l-.8 7.4l.6 4.6l-.6 4l.7 3.4l-.9 7l.2 3.6l-1 2.4l-.3 1.6l.9 2.4l.2 2l-.3 1.6l-.7 1l-2.5 2.1zM326.8 606.8l-1.4-.6l-1.6-2.4l.2-2.6l-.9-2l1-2l.3-2.4l.8-1l.6-.2l1 .5l1.1 1.1l-.1 2l.6 3l-.1 1l-1 3l.1 2zM326.2 635.3l-1 0l-1.1-1.1l-.9-1.2l-.5-1.8l.2-5l.6-1l1.4-1l.2-.4l-1.1-2.6l-1.2-4.4l.8-2l.2-2l.7-1.6l.7-.3l1 .3l1.8 2.6l-.2 1.4l1.1 2.6l-.9 3.4l.5 2l-.5 1.6l.2 1l-.9 2.4l.7 3l-.6 3zM325.2 651.3l-1.6-.5l-1-2l.2-3.3l1-1.6l.4-.2l2 .7l1.3 1.8l.3 1l-1.2 3.6zM204.2 679.3l-.4-.1l-.3-.4l-.1-1.6l.8-.6l1.5 .2l.3 .4l-.1 .6zM206.2 707.3l-1-.1l-1-.5l-1.3-2.9l-1.8-2.6l-.5-1.4l.4-3.6l1.8-4l-1-1.6l-.4-1.4l.5-2l-.3-1.4l1.6-3.4l.6-.2l1 .5l1.7 4.1l0 2.4l-1.2 2.6l.8 2l1.5 2l.5 1.4l-1.9 6l-1.4 1.6l.2 .4l2.3 1l-.1 .6zM327.2 715.4l-1.4 .2l-1.2-.8l0-1.6l.6-1l2-.3l.9 .3l.2 2zM449.2 722.4l-.4 .3l-1-.2l-.9-.7l.1-.6l1.8-.3l.7 .9zM161.2 729.9l-1.4-.1l-1.5-1.6l0-1l1.5-1.6l1.6 .2l1.4 1.7l-.3 1.3zM161.8 745.3l-1 .3l-1.6-.3l-.6-.5l-.2-1l1.4-.8l2.4 .2l.4 1z" fill-opacity="0.206"/>
<path d="M408.8 430.8l-1.5 0l-1.1-.7l-1-1.3l-.3-1.6l.9-2.2l2.4-1.8l1 .2l.6 .4l1.2 2l.3 1.4l-.5 1.8zM530.2 716.3l-1.4 .2l-1.6-.6l-1-1.3l-.6-1.8l0-2.6l-.7-4l-.1-5l-.9-5.4l.1-7l-1-3.6l.1-9l.5-6.4l-.3-5.6l.4-4l-1-5.4l.5-4.6l-1.4-4.4l1.4-7l-.5-4.6l.3-5l-.6-8l.5-3.4l-.2-3l.8-3.6l-.6-4.4l-.1-6.1l-1.1-4.5l1.2-4l.1-5.4l.6-3.6l-1.5-5.4l1.5-5l-.2-5l-1.2-4.6l1-5l-.4-2l-.3-5l.5-4.4l-.9-5l.7-3.6l0-3l.6-2.4l.3-5l-.6-5.6l-.1-3.4l.5-3.6l-.2-5.4l-.4-2l.8-4l-.1-2.6l-.8-2.4l-.3-4l1.7-7.6l-.4-2.4l.1-3.6l.4-3l-.3-7.4l1-8.6l-.3-4l.7-3.4l-.3-6.6l.7-3.4l.4-9.6l1.3-3l1.7-1.4l1-.3l2 2.1l1.5 2.6l.8 3l.5 6.6l-.3 3l.2 2.4l-.8 6.6l.9 6l-.4 7l.7 4.4l.5 8.6l0 4.4l.4 4.6l-.4 7l.9 14l-.8 5.4l1 10l-.5 5l.4 11l-.7 7.6l.6 5.4l-.1 11l.2 3l-.5 7l0 9l.6 12l-.6 7.6l.5 8l-.7 5.4l.6 5l-.2 5.6l.3 5l-.4 6l.4 10.4l-.5 5.6l-.1 7.4l.4 4.6l-.5 4.4l.3 4.6l-.7 9l.3 5.4l-1 5l-.7 13.6l-1.4 2.4l-1.7 1.6zM409.2 723.3l-1 .1l-1-.3l-2.4-2.3l-2.2-6l.7-4.6l-1.6-5l-.1-7l.8-4l-1.1-4.4l0-3.6l-.5-2.4l.1-4l.6-3l-.8-8.6l.2-10l.6-6l-.7-3.4l-.1-4.6l.4-7.4l-.4-16.6l.5-3l0-6l-.1-5.4l-.5-3.6l.4-6l.7-3l-1-8l-.2-6l1.1-6l-.8-5l.3-2.4l-.3-4l.4-7l-.2-4.6l.2-6.4l-.4-3l.3-4l-.3-4l1-7.6l-.4-5.4l.6-5.6l-.3-2l.1-3l-.8-4.4l.4-6.6l.8-4l-.6-10l1.7-5.4l-.3-7.6l.4-4l-.3-6l.5-4l-.3-4l1-4.4l0-4l.6-1.6l.9-1l2.4-1.1l1 .9l1.7 3.8l.1 3.4l.7 5.6l-.2 2.4l.6 3.6l-.1 4l.3 4l1 4.4l-1 4l-.1 1.6l.5 4.4l1.2 3.6l-.6 4l.5 3.4l-.8 2.6l1.3 8.4l.2 3l-.8 8l.3 8.6l.5 4l-.4 4l.4 2.4l.1 5l-.6 5.6l.6 5l.3 18.4l-.8 4l.6 4l.1 5l-.5 4l.7 4l-.4 7l.7 4l.1 5.6l-.6 6.4l.4 12.6l-.7 4l.9 4l-.6 10.4l.4 10l-.2 5l-.7 3.6l.8 4l-.7 6.4l.5 3.6l-.2 3l.4 3l-.8 4l-.5 6l.4 4l-.4 4.4l.5 4.6l-2.1 10l-.1 3.4l-1.3 2.6zM286.8 482.3l-2-.1l-1.4-1l-.9-1.4l-.5-2.6l.8-5.2l1.4-1.6l1.6-.5l1.4 .3l1.6 1.4l1 4.2l-.2 2.4l-.6 2l-.8 1.2zM447.8 482.3l-1.6-.2l-1.4-1.2l-.9-1.7l-.4-2l.1-3l.6-1.4l1.6-1.3l1.4-.4l1.9 .7l2.1 2l2.6 .2l1.4 .6l1.1 2.2l-.4 2l-1.1 1.2l-1 .3l-2.6 0l-2 1.4zM162.2 720.8l-1.4 .2l-1-.4l-1.9-1.8l-2-9.6l-.2-10l.4-3l-.6-8l.4-5.4l-.3-12l.1-19l-.5-5l0-5.6l.4-3.4l-.7-10l.7-6.6l-.2-21.4l-.6-9l.9-8l-.3-16l.3-4l-.4-5l.5-4l-.2-2.6l.4-8l.7-4l-.3-10l1.9-9l.9-1.7l2-1.3l1.6 .5l1 1.1l.8 2l.9 4.4l.7 13.6l.8 5l-.2 3l.5 4l-.2 18.4l.7 2.2l2.2 3.4l-.6 10.4l.2 4l.9 4.6l.2 5l-.4 2.4l.2 3.6l-.5 12.4l.1 7l.6 10l-.5 4.6l-.3 7.4l.4 5l-.2 11.6l.5 7l-.6 7.4l.7 9.6l-.5 4.4l0 5l-.7 4.6l-.7 10l-3.3 4.4l-1.4 4zM449.2 716l-1-.1l-1.4-.7l-1.7-2l-2.4-8l.1-4.4l-.8-3.6l0-4.4l.7-6l-1-6l.4-4l-.6-3l1-5l-.6-4l.6-3.6l-.7-4l.2-3l-.6-3.4l.7-8.6l-.5-4l.6-5l-.6-6.4l.1-9l.4-4l-.3-10.6l.3-4.4l-.1-11l.4-2.6l0-5l.3-4.4l-.8-6.6l.6-18l-.4-4l1.3-13l1.7-6l1.5-2.4l-1.3-4.6l.9-2.1l2-1.2l2.6 1.3l1 2l-.2 1.6l-1.3 2l-.2 1l2 4.4l.4 11.6l2.1 7.4l0 1.6l-.7 3.4l.3 6l-.6 3l.2 2l.7 2l.4 4l-.7 5l.2 9.6l-.7 8l.1 7.4l.6 3l-.2 2.6l.4 3.4l-.6 4.6l.2 7l-.2 5l.8 9.4l-1 5.6l.8 5l-.5 2.4l.5 5.6l-.6 6l.6 4l-.4 3.4l.5 9l-1 6.6l.7 3l-.6 3.4l-.1 7.6l-1.3 15l-1.1 2zM489.2 715l-1.4 .1l-1.9-.9l-.7-1l-.8-2.4l0-5.6l-1.3-8.4l.1-3.6l-.8-3.4l1.1-16l-.9-3l.6-6.6l-.3-2.4l.3-8.2l-.5-7.4l-1.1-5.4l1-4.6l-.2-6l.7-4l-1.3-6.4l-.2-2.6l.4-3l-.2-4l.2-1l1.3-2.4l.2-1.6l-.9-7l.5-5l-.5-11.4l.3-2.6l-1.2-5.4l1.1-5l.6-6l-.5-9l.6-5.6l-.6-7l1.1-6l-.1-3.4l.8-10l1.1-1.7l2.4-1.3l2.7 2.4l2 4.6l.1 3.4l-.3 5l.9 7l-.2 10l.4 4l-.4 3l.5 4l-.6 11l.6 9.6l-.4 4l.8 5l-.5 2l.2 3.4l-.5 3l.6 4l-.5 4.6l.3 8l-.3 4.4l.3 2l-.1 8.6l.4 2.4l-.9 4l.6 7.6l-.1 11.6l.8 3.4l-1.2 4l.6 5.4l-.1 10l.4 3.6l-.8 6l.8 10l-1.9 4.4l.1 3l-.5 5l-1.2 1.7zM286.8 711.9l-1.6-.1l-1-.6l-1.2-2l-.7-3l-.3-8l.3-3l-.2-4l.2-15l-.3-4.4l.4-4.6l-.3-4l.3-4.4l-.9-16l-1.1-4.6l.3-4l-.6-8.4l.4-4.6l-.6-4.4l.6-3.6l-.2-4l.2-7l.9-5.4l-.9-9l.3-4l-.1-6l.4-4.6l-.7-5.4l.2-5l-.5-5.6l.8-4l0-4l.4-2.4l-.5-6l1.4-8l0-8.3l2-3.1l2-1l1.6 .5l2 3.3l.7 4l-.1 5l1.4 5.6l-.2 6.4l-.5 3.6l.6 4l-.1 12l.3 3.4l-.2 3.6l.3 3l-.4 3.4l.4 8.6l-.1 9l.3 3.4l-.6 7.6l.5 5l-.5 16.4l.2 10l-.4 8l-1.1 5.6l.1 3.4l-.5 6.6l.3 4l-.2 13l.2 5.4l-.3 5l.4 4.6l-.3 12l-1 4l-1.2 1.5zM366.8 699.3l-1-.1l-1.5-1l-1.3-2l-.9-9l.8-7l-.4-6l.4-15.4l-.5-4.6l-.1-7l.5-8.4l-1-5.6l.7-4l-.2-2.4l-1-3l.7-5.6l-.9-3l.4-3.4l-.7-4l-.1-3.6l.6-5l.1-3l-.5-3l.6-4l-.3-4.4l.6-3l.1-4.6l-1.5-8.4l1-4l-.1-4l1.2-4l-.8-5l.2-1.6l2.1-6l.8-.8l1.4-.7l1 .4l.6 .6l2.5 5.1l.6 2l.3 4l-.2 3l.5 6l-.3 13.4l.6 3.6l-.1 3.4l.3 5.6l-1 8l.6 5l0 6l-1.5 18l1.2 6l-.7 5l.2 4l-.3 4.4l.3 3l-.6 4.6l.5 11.4l-.4 7.6l.4 10l0 10l-.4 3l-.5 1.4l-1.6 1.5zM326.8 586.9l-1.6 .3l-1-.4l-1.6-2l0-2l1.7-2.6l.2-1l-2.1-4l-.3-6.4l.9-5l-.3-4.6l-.7-3.4l.3-2l.5-1.5l1-1.5l2.4-2.1l1.3 .5l.7 1.5l1.2 11.1l-.1 2.4l-.6 2l0 3l.8 3.6l-.1 2.4l-.6 2.5l-1.8 2.1l1.5 3l.3 2l-.6 1zM205.2 672l-1 .1l-2.4-1.3l-1.1-1l-.3-1.6l.2-9.4l.8-3l-.8-4.6l.7-3.4l-.4-3.6l-1.4-5l.4-3.4l-.4-14.6l-.8-4l.5-3.4l-.3-5.6l.3-4l-.4-4l.4-4.4l-.4-4l.5-7l-.6-5l.7-5l-.2-4.8l1.4-10.2l1.6-2l2-.8l1.6 .3l1.4 .9l1.5 2.6l.6 7l.2 13l-.1 38l-.4 6.4l.3 4l-1 8.6l.6 3.4l-.5 4.6l.6 3l-.9 8l.1 2l-1 2.8l-.3 2.2l1 2.4l0 2l-1 2.6zM326.8 601.4l-1 0l-1.2-1.6l.3-1.6l.9-.6l.7 .6l.7 2zM326.2 619.8l-.4 .2l-1-.8l-.9-2l.3-1l1.6-1.3l1.8 1.9l.3 1l-.4 1zM325.8 632.4l-1.6-.3l-.5-.9l.5-1.4l1-.4l1 .4l.2 1l-.1 1zM325.2 649.5l-.4 .2l-.6-.5l-.5-3l1.1-.9l1 .4l1 1.5zM204.2 690.5l-.4 .2l-.6-.3l-.3-1.2l.9-1.8l.4 0l1 .6l.2 .8zM204.2 702.8l-1.2-.6l-.2-1.2l-1.1-1.2l-.3-1.6l.8-2.4l1-1l1-.4l2.1 1.4l.8 2.4l-.9 2.9l-1 1.1z" fill-opacity="0.268"/>
<path d="M408.2 429.3l-1.8-.5l-.5-1.6l.3-1.1l2-.9l1.1 .6l.7 2l-.2 .5zM530.2 715.4l-1.4 .1l-1-.4l-1.6-2.3l-.1-3l-.7-3l-.1-5l-1-8.6l.2-4.4l-.7-3.6l-.2-8l.4-3.4l-.2-9l.3-4.6l-.7-5l.3-5l-.8-3.4l.9-9l-.3-3.6l0-9.4l-.4-4l.9-9.6l-.6-4l0-6.4l-.8-3.6l.8-5l.2-6l.4-3l-1-5.4l1.1-5l-.2-5l-.7-5.6l.5-3.4l-.5-7.6l.5-5l-.9-4.4l.5-3.6l.1-3l.6-3l.2-4l-.5-9.4l.4-2.6l-.3-3.4l.3-2.6l-.5-3l.6-3.4l-.1-2.6l-.7-3l-.1-4l1.4-7l-.4-5l.5-4l-.3-7.4l1-8.6l-.3-4l.7-4l-.3-6l1-3.4l-.1-5.6l.3-3.4l1-2.1l1-.7l1-.1l2 .3l1 1.2l1.1 3.4l.4 5l0 8l-.7 6l.8 5.4l.1 4l-.3 3.6l1.2 12l-.1 5l.4 5l-.4 6.4l.8 14.6l-.7 6l.9 10l-.4 4.4l.4 11l-.7 7l.7 6l-.3 3.6l.3 10.4l-.5 16l.7 12l-.7 7.6l.6 7.4l-.7 6l.6 5l-.3 5.6l.2 6.4l-.3 4.6l.4 5.4l0 7l-.4 3.6l.1 5l-.2 3l.3 4l-.5 4.4l.2 9l-.6 4l.1 7l-.9 4l.1 4.6l-.5 3.4l0 4l-1.2 3.3l-1 1.1zM408.8 722.3l-2-.5l-1.6-1.5l-1.9-5.5l.8-4l-1.8-6l.5-10.6l-1-5l0-3l-.6-4.4l.9-5l-.9-8.6l.3-11l.6-5l-.9-5.4l.4-10l-.5-16.6l.5-3l.1-6.4l-.2-5l-.5-3.6l.5-6l.7-3l-1-7.4l-.3-6.6l1.2-6l-.7-5l.2-2.4l-.3-3.6l.4-6.4l-.2-6.6l.2-12.4l-.4-4.6l1.1-7l-.3-5.4l.4-5.6l-.6-10.4l.9-9l-.3-10.6l1.5-6l-.5-7l.4-4l-.2-6.4l.5-3.6l-.2-5l.9-3.4l.3-4.1l1-1.5l1-.1l1.9 .7l1 2l1 9l-.1 3l.7 3l-.2 3.4l.3 4l.7 4.6l-.7 6l.5 5l.9 3.4l-.4 3.6l.3 3l-.7 3.4l1.3 8.6l-.5 11l.6 11l-.2 5l.5 7l-.5 3l-.1 5l.6 3.4l.3 18l-.7 4l.5 5.6l0 4.4l-.5 3l.8 4l-.4 7l.6 4l.1 7.6l-.5 5l.3 12l-.6 3.4l.9 4.6l-.6 10.4l.4 10l-.2 5l-.7 3l.8 5l-.7 6l.7 9.6l-1 4.4l-.3 5.6l.3 4.4l-.4 4l.4 4.6l-.6 4l-1.6 6l-.1 3.4l-1.1 2.1zM286.8 481.4l-1.6 0l-1.4-.7l-1-1.7l-.4-1.8l.7-4.4l1.1-1.4l1.6-.5l1.4 .2l1 .8l.7 1.3l.6 2.6l-.3 2.4l-.4 1.4l-1 1.3zM448.2 481.3l-1.4 .1l-1.6-.7l-.9-1.5l-.4-1.4l.3-4.1l1-1.2l1.6-.6l2 .4l3 3.1l2.3 .4l.2 1l.7 1l-.8 .8l-2.4 .4zM162.2 719.8l-2 .1l-1.7-1.7l-2.1-8.4l-.2-10.6l.3-3.4l-.6-8.6l.5-4.4l-.4-12l.1-19.6l-.5-9.4l.4-4l-.6-10.6l.6-6l-.1-21.4l-.6-7l.8-10.6l-.4-15.4l.4-3.6l-.4-4l.8-16l.7-5.4l-.3-8.6l2-8.4l.9-1.1l2-.5l1 .1l.9 .9l1.2 5.6l1.9 25l-.2 18l1.3 5l1.3 2.6l-.4 8.8l1.4 13.6l-.4 4l.1 11.4l-.3 3l.5 17l-.6 12.6l.3 4.4l-.1 12.6l.5 6l-.6 7l.6 10l-.5 3.4l.1 6.6l-.8 3.4l-.1 5l-.6 5l-3.5 5l-1 3.4zM448.8 524.4l-1.6-.3l-1-1.9l.6-1.8l1.4-.8l1.6 .3l1.1 1.3l-.5 2zM489.8 713.8l-1.6 .3l-1.4-.3l-1-1l-.7-1.6l-.2-6l-1.3-8.4l.2-3l-.9-4l1-16.6l-.6-2.4l.3-6.6l-.2-2.4l.2-10l-.3-6l-.7-4.6l.6-5.4l-.2-6l.6-3.6l-1.1-6.4l0-7.6l.4-3l1-3.4l-.7-7.6l.4-11l-.5-6l.4-2.4l-.8-4l1-10.6l-.2-11l.4-5l-.6-7l1.1-5.4l0-4l.8-9.6l1-1.3l1.6-.4l1.4 .2l1 .6l1 1.7l.9 2.8l.2 9l.8 7l-.1 9.4l.3 3.6l-.3 3.4l.4 4.6l-.5 8.4l.5 11.6l-.4 4.4l.7 4l-.4 2.6l.3 3.4l-.5 3l.6 4l-.5 4.6l.3 8l-.3 4.4l.3 12.6l-.7 4.4l.7 8l-.2 11.6l.6 3l-.9 4l.5 5.4l-.2 10l.4 3l-.7 6.6l.7 10l-1.7 4.4l0 3l-.6 4.6l-.6 1.2zM286.8 710.3l-1 .1l-1.6-.7l-1-1.4l-.5-2.1l.1-3.4l-.5-5l.4-10l-.3-16l.4-4.6l-.4-3.4l.4-5l-.8-16l-1.1-4.6l.2-6l-.5-6.4l.4-4.6l-.7-4.4l.6-3.6l-.2-4.4l.5-4l-.1-2.6l.7-5.4l-.7-9l.2-3.6l-.1-6l.4-5.4l-.6-4.6l.1-6.4l-.5-4.6l.9-5l.2-5.4l-.3-5l1.3-9l.1-8l1.6-2.6l.8-.5l1-.2l1.6 .7l1.4 2.6l.5 2.4l.2 6l1.4 5.6l-.6 10l.6 4l-.1 12l.4 10l-.3 3.4l.4 9l-.2 8l.4 4l-.6 6.6l.4 6.4l-.5 16l.1 14l-1.4 9.6l-.4 9.4l.3 4.6l0 19l-.3 4.4l.4 4.6l-.3 11.4l-.8 3.6l-1 1.1zM449.2 714.9l-2-.2l-1.4-1.5l-1-2.4l-1.7-6.6l.3-3.4l-.8-3.6l0-4l.5-6.4l-.9-6l.3-4l-.4-3.6l.8-4l-.5-4l.6-3.4l-.7-4.6l.2-3.4l-.6-3l.6-8.6l-.5-4l.6-5l-.5-6.4l0-9l.4-4l-.2-11l.3-3.6l-.1-10.4l.4-3.6l-.1-5.4l.3-4l-.7-7l.5-17l-.3-5l1.2-8.6l.1-3.4l2.3-6.6l.8-1l1.2-.6l.6 .2l1.4 1.4l1.2 2.6l-.1 2.4l.8 5.6l-.1 3l1.8 7l-.4 5.4l.2 6l-.4 4l1.1 6.6l-.8 8.4l.3 6l-.5 8.6l.3 13l.5 3.4l-.5 4.6l.1 7.4l-.2 4l.7 10l-.8 5.6l.6 5l-.4 2.4l.4 5.6l-.5 6l.4 3l.2 14l-.8 5.4l.4 4l-.5 3l0 7l-.6 9l-1.1 6.6l-1 1.4zM366.8 698.3l-2-.5l-1.1-1.6l-1.1-9l.7-7l-.4-6l.4-15.4l-.5-11l.5-9.6l-.9-5l.6-4l-.6-5l.2-6l-1-3.4l.3-3l-.6-5.6l.1-3.4l.5-3.6l-.4-6.4l.5-3.6l-.2-4l.4-3.4l.1-4.6l-1.4-8.4l1-4l.2-5l.9-3l-.7-5l.2-1.6l1.3-3.2l1-.9l1.4-.7l2.6 1.7l1.3 2.7l.3 1.4l.4 3.6l-.1 6l.4 3l-.3 13.4l.5 3.6l.1 8.4l-.7 8.6l.5 5.4l-.1 8l-1.4 15.6l1.1 6l-.8 5l.4 4.4l-.4 3.6l.4 3l-.7 5l.4 8l-.2 11l.4 20l-.3 2.4l-.7 1.6l-1.1 .9zM326.8 577.8l-1.6 0l-1.6-1.6l-.6-1.4l-.1-2.6l.9-9l-1-7.7l.8-2.7l1.2-1.3l1-.3l1 .3l1 1.5l.8 9.2l-.8 4.6l.2 3.4l.8 2.6l0 1.4l-.6 2.1zM205.8 670.8l-1 .4l-1.8-.4l-1.4-1l-.6-1.6l.2-3l.6-2l-.3-2.4l.6-4.6l-.6-3.4l.5-7l-1.9-6.6l.2-9.4l-.4-3l0-5.6l-.7-4l.4-3.4l-.3-13l.3-5l-.4-4l.5-7l-.6-5l.7-5l0-5.6l1.4-9.3l1.6-1.6l1.4-.5l2.6 1l.9 1.4l.5 1.6l.8 10l.2 9l-.2 38l-.6 6.4l.5 4.6l-1.3 8.4l.5 2.6l-.3 5l.5 2.4l-.2 3.6l-1.9 12l1 2.4l.1 1.6l-.5 1.9zM326.2 585.9l-1.4 0l-1.1-1.1l-.3-1l1.1-2l1.3-.7l1.4 1.1l.7 2l-.1 .6zM205.2 700.4l-1-.1l-1.5-1.5l.1-1.2l1-1l1.4 .4l.8 .8l-.2 2z" fill-opacity="0.355"/>
<path d="M531.2 713.9l-1 .3l-1.4-.4l-1-.8l-.8-1.2l-.9-5l-.8-10.6l-.5-3l.3-5l-.6-3l-.4-8l.4-4l-.2-8.4l.3-5l-.5-4l.1-5.6l-.4-3.4l.6-9.6l0-5.4l-.7-11l.8-9.6l-.5-4l.1-6l-.7-3.4l.7-5.6l.4-9l-.6-5l.7-5.4l-.6-11l.3-5l-.4-5.6l.5-5l-.7-4l1-13.4l-.3-9.6l.3-2.4l-.3-3.6l.3-3.4l-.4-2.6l.5-3.4l-.2-3l-.5-3l0-4l.9-4l.2-2.6l-.3-5l.4-3.4l-.2-6l1-10.6l-.3-4.4l.7-3.6l-.2-5.4l1.1-3.6l.2-2.4l-.3-3.6l.4-3.4l1.1-1.4l1.4-.4l1.1 .2l.9 1.2l1 2.8l-.1 2.6l.5 2.4l-.3 2l.3 1.6l0 5l-.6 5.4l1 8.6l-.2 4.4l1.1 11.6l-.2 5.4l.4 4.6l-.4 6l.8 13.4l-.6 7.6l.8 9l-.3 5.4l.5 11l-.9 6l.8 7l-.3 3.6l.2 10l-.5 16.4l.6 4l.2 8.6l-.7 7l.6 7.4l-.7 5.6l.7 5.4l-.4 4l.2 8l-.3 4.6l.4 5.4l0 7l-.5 3.6l.2 5l-.2 3.4l.3 4l-.5 4l.2 9l-.5 4l-.1 7l-.9 4l.1 4.6l-.6 3.4l.1 3.6l-1 3zM408.2 721.3l-1.2-.5l-1.2-1.6l-1.6-4.1l.5-4.9l-1.9-6.4l.5-7.6l-1.6-14.4l.9-5l-.5-7.6l-.1-8l.6-9.4l-.9-7l.4-2.6l.1-8.4l-.4-14l.5-9l-.2-4.6l-.6-4l1.2-9.4l-.9-6.6l-.3-6.4l1.1-7l-.7-10.6l.4-5.4l-.3-8l.4-6.6l-.4-9l.1-2.4l.9-4.6l-.3-7l.3-5.4l-.2-11.6l.7-7.4l-.3-3.6l0-7l1.6-7l-.6-6.4l.4-6.6l-.2-4l.5-2.4l-.2-3l.3-3l1.1-3l.1-2.1l.6-.9l.4-.1l1.4 .5l1.6 7.6l.1 3.4l.8 4l.1 7l.6 3.6l-.6 6.4l1.1 9l-.4 10l1 8l-.4 11.6l.2 7l.5 3.4l-.2 5.6l.5 5.4l-.5 10l.5 3l.3 17.6l-.6 4l.5 6.4l-.5 7l.7 3.6l-.3 7.4l.5 4l-.2 4.6l.4 3.4l-.6 5l.3 12.6l-.5 2.4l.8 4.6l0 4l-.5 4.4l.2 15l-.8 5l.9 5.6l-.8 5.4l.7 10l-1 4.6l.1 9.4l-.6 3.6l.2 5.4l-.4 3.6l-1.7 6l-.4 3.8l-.8 1.2zM287.2 480.3l-1.4 .4l-1-.2l-1-.8l-.8-1.5l-.2-2l.4-2.4l.8-1l1.2-.7l1.6-.1l1 .5l1 1.7l.3 2l-.3 2l-.6 1.2zM448.2 480.4l-2 0l-1-.6l-.6-1l-.2-3.6l.4-1.1l1-.8l1.4-.2l1.6 .5l1.3 1.2l.5 1l.1 2.4l-.8 1zM162.8 717.4l-2 .2l-1.6-.6l-1.4-3.5l-.8-3.3l-.3-11l.3-4.4l-.6-8l.4-4l-.3-12l0-20.6l-.5-7.4l.3-5l-.5-11l.6-4.6l0-5.4l-.1-17l-.6-7l.8-11l-.4-15.6l.4-3l-.4-3.4l.5-5.6l0-6l1.2-10.4l-.2-9l1.6-6.1l1-1l1.6-.3l1 .4l.6 1l1.2 5.4l1.7 22l-.1 18.6l.9 5l1.1 3.4l0 8.6l.5 2l1 11l-.4 4l0 15l.3 16.4l-.5 12.6l.2 17.4l.4 5.6l-.4 5.4l.4 11l-.5 4l.1 6.6l-.8 3.4l-.1 5l-.8 4l-.9 2zM488.2 712.8l-1.4-.5l-1.2-1.5l-.2-6l-1.2-8l0-3.6l-.7-3.4l.8-16.6l-.4-2.4l0-23.6l-.6-5.4l.5-7.6l-.3-4l.5-4l-.7-6.4l-.1-7.6l1.2-6.4l-.6-7l.3-11.6l-.4-6l.3-2.4l-.6-4l.8-10l-.2-11.6l.3-5l-.5-7l1.1-5.4l-.1-3.6l.7-4.4l.3-4.8l1-1.1l1.4-.3l1 .1l1 .8l1 2.4l1.4 17.9l-.1 15.4l.5 5l-.6 8l.5 11.6l-.4 4l.7 4l-.4 2.4l.4 3.6l-.6 4l.5 3.4l-.4 5l.4 7.6l-.4 4.4l.3 6l-.2 6.6l-.5 4l.7 8.4l-.2 11l.5 3.6l-.7 4l.3 5.4l-.1 10l.3 3l-.6 6.6l.5 10l-1.6 4.4l0 3l-.6 4l-1 1.3zM287.2 709l-2 .1l-1.5-1.3l-.9-9.5l.4-10.5l-.3-4l.3-6l-.3-7l.3-3.6l-.4-3.4l.5-5l-.8-15.6l-.9-5l.1-6l-.5-6l.3-5.4l-.7-3.6l.6-4l-.1-5l.6-3.4l-.2-3l.5-5l-.6-6.6l.1-12l.4-5l-.5-5l0-6.4l-.5-4.6l1-4.4l.1-11l1-9l.1-6.6l.9-2.2l1-.9l1-.2l1.6 .9l.9 2l.7 8l1.4 5l-.6 9.4l.7 11l-.2 5l.5 10l-.3 4l.4 9l-.3 8l.4 3.6l-.6 6.4l.5 7.6l0 8l-.5 7l0 14.4l-1.3 9.6l-.5 8.4l.4 5.6l-.1 19l-.3 4l.5 4.4l-.2 6l-.5 7.6l-.6 1.4zM448.8 713.8l-1-.1l-1.6-1.5l-2-5.3l-.5-2.7l.3-4l-.9-5.4l.5-8l-.9-6.6l.3-3.4l-.3-4l.7-4l-.4-3.6l.5-3.4l-.6-4l.1-4l-.5-3l.5-9l-.5-3.6l.6-5l-.5-6.4l.3-5.6l-.3-4l.4-3.4l-.2-11.6l.7-26.4l-.6-7l.4-9.6l-.1-11.4l1.3-9.6l0-3l1.7-4.4l.6-.6l1-.2l1.7 .2l.8 1l0 2l.6 1.6l.6 4l-.1 3l1.5 6.4l.2 12l-.4 4.6l.9 6l-.7 8.4l.3 6l-.4 8l.3 13.6l.5 3.4l-.6 9l.2 3l-.2 4.6l.5 9l-.6 6l.6 4.4l-.4 3l.4 5.6l-.4 10.4l.4 12.6l-.7 5.4l.3 4l-.4 10l-.7 9l-1.2 5.8zM368.2 696.8l-1 .3l-1.4 0l-1.6-1.3l-.4-2l-.6-6.6l.6-6l-.3-7l.4-7.4l-.6-21.6l.7-7.4l-1-4.6l.7-6l-.6-2.4l.1-7l-.8-3l0-5.6l-.4-3l.5-7l-.4-6.4l.5-3.6l-.2-4l.3-4.4l-.2-6l-.9-5.6l.8-4.4l.3-5l.8-3l-.4-6l1.1-2.9l.8-.7l1.2-.3l1 .2l1 .7l1.6 3l.4 3.4l-.1 6.6l.6 5.4l-.3 4l0 7l.4 11l-.5 9.6l.5 5l-.1 5.4l-1.6 19l1.1 5.6l-.8 4.4l.5 4.6l-.3 3.4l.3 3.6l-.7 5.4l.4 7.6l-.2 12l.4 18.4l-.4 3zM326.2 562.3l-1.4-1.3l-.4-3.2l.1-2.6l.7-.9l.6-.1l.2 .6l-.4 .4l1.2 1l.4 1l-.1 3.6l-.3 1.3zM204.8 662.4l-1-.2l-.9-2l.4-3l-.8-4l.2-5.4l.5-2l-2.4-6.6l.1-9.4l-.5-3.6l0-4.4l-.7-4.6l.3-3.4l-.3-5l.3-13l-.4-3.6l.5-7l-.5-5.4l.7-5l-.1-6.2l1-5.7l.9-2.7l.8-1l1.3-.5l1 .2l1 .7l1.3 2.6l1.2 10l.1 8.6l-.3 8.4l.3 7.6l-.2 22l-.8 6.4l.5 5l-1.1 6l-.4 6l0 6.6l.5 3l-1.2 2.4l.2 2.6l-.8 2l-.1 3zM326.2 576.4l-1 0l-1-1.1l0-2.5l-.4-1l.3-1.6l1.3-2.4l-.3-2l.7-.8l0 2.2l.8 1.6l1.3 5l-.4 1.4zM204.8 669.9l-1.6-.2l-.9-.9l-.3-1l.2-2.7l1.6-1.1l1.4 .6l1 1.8l0 2.2l-.4 .7z" fill-opacity="0.467"/>
<path d="M530.8 712.9l-2-.5l-1-1.6l-1.2-5.6l-.7-9l-.6-3l.3-4.4l-.9-11.6l.4-8l-.3-4.4l.3-5l-.6-12.6l.5-15.4l-.6-11.6l.6-9l-.4-4.4l.1-5.6l-.5-3.4l.8-7.6l0-7l-.5-5l.6-5.4l-.4-9l.3-7.6l-.4-4.4l.4-6l-.5-6.6l.6-7l-.1-13l.4-2.4l-.4-9.6l.3-6l-.6-4.4l.2-3.6l.8-4.4l0-16l1.2-10.6l-.3-4.4l.7-3.6l-.2-5l1.9-7l-.8-2.4l.4-2.6l.6-.9l1-.2l1 .5l1 2.2l-.2 2l.5 2l-.8 2.4l1.1 2l.1 4.6l-.5 2.4l-.2 4l1.2 7l-.2 5l.5 3.6l0 4.4l.7 3l-.3 7.6l.3 4.4l-.3 4.6l.8 13l-.6 8l.7 8.4l-.1 13.6l.5 4l-1 5l.9 8l-.4 3l.2 10l-.5 16.4l.7 4l.1 9l-.6 7l.6 7l-.7 5.6l.6 5.4l-.4 4l.3 9l-.4 3.6l.5 5l-.3 3.4l.2 3.6l-.4 4l.2 13l-.4 3.4l.1 9l-.7 11l-.8 3.6l.1 5.4l-.8 3l-.2 3l-.8 3zM408.2 718.3l-1.4-.1l-1-1.7l-.6-3.3l.1-3.4l-1.8-6l.4-7.6l-.7-4l-.2-6.4l-.6-4.6l.7-4.4l-.3-6.6l.1-6.4l-.3-3l.6-7.6l-.8-8l.4-11.4l-.3-14.6l.4-9l-.7-8l1-10l-1.1-11l.1-3.5l.9-4.9l-.6-10.6l.4-5l-.2-8.4l.4-8l-.4-7.6l.1-2.4l.9-4.6l-.2-18l.3-3l-.2-4l.6-6l-.4-3.4l.1-7.6l.3-2.2l1.5-4.8l-.6-6.4l.4-6.6l-.3-3.7l.6-2.7l.1-4l.4-1.6l.9-.9l1 .4l.8 1.5l.1 3.6l1.1 4.4l.1 5.6l.8 5l-.7 6l.7 3.4l.5 6l-.3 10l.7 4.6l.2 8l-.3 7l.2 7l.5 3.4l-.1 5.6l.3 5.4l-.4 10l.5 3l.3 9l-.1 8l-.4 5.6l.3 6.4l-.4 6l.7 3.6l-.3 7l.5 12.4l-.5 7l.3 10l-.3 3l.8 6l-.7 7l.3 14.6l-.8 5l.8 6l-.6 5.4l.4 10.6l-.8 4l.1 9.4l-.6 3l0 6.6l-.7 4.2l-1 3.5l-1 2.8zM286.2 479.8l-1-.1l-1-.5l-.6-1l-.3-1.4l.5-2.6l1-.9l1-.3l2 .7l.7 2.1l-.3 2.4l-.8 1zM448.2 478.9l-2 .1l-1-1l-.3-2.2l.9-1.3l2-.2l2 1.4l0 2.2zM162.2 716l-1.4 .2l-1.1-.4l-1.5-2.9l-.6-2.7l-.4-11l.3-4.4l-.6-8l.4-4l-.3-11.6l.1-12.4l-.3-4l.3-4.6l-.6-7.4l.3-5l-.6-11l.6-4.6l.1-5.4l-.2-17.6l-.5-6.4l.8-13.6l-.4-12.4l.3-3.6l-.4-3.4l.6-5l0-6l1.3-11l0-9.6l.4-1.5l1.4-2.9l1-.6l1 .4l.6 .9l1.1 4.3l1.9 21l0 19.4l1.5 8.6l.2 8l.6 2.4l1 10.6l-.3 20l.3 8.4l-.5 20l.6 38.6l-.5 4.4l.1 6.6l-.8 3l-.3 5.4l-.9 3.4l-1.2 2.6zM489.2 711.3l-1.4-.1l-1.2-1.4l-.6-5l-.9-4.6l-.4-7l-.7-4l.7-16l-.4-11.4l.2-14.6l-.5-5.4l.1-11.6l.4-4l-.5-6l-.1-8l.9-6l-.4-7l.1-14.4l-.3-3.6l.3-2.4l-.5-4l.7-10l0-16.6l-.4-7l1.1-5.4l0-3.6l1-4l.1-3.4l.7-1l1-.4l1 .2l1 1.3l1.1 7.9l.8 10.4l-.2 13.6l.5 6.4l-.5 7.6l.5 12l-.4 4l.5 3.4l-.2 3l.3 3l-.5 4.6l.3 3l-.3 5.4l.4 6.6l-.3 5.4l.3 6l-.7 10l.8 15l-.3 4.6l.2 4.4l-.4 4l.3 18.6l-.5 8.4l.4 6.6l-1.8 6l.2 3l-.5 1.9zM287.2 707.4l-1.4 .3l-1.4-.9l-1.1-8l.5-11l-.4-3.6l.3-6.4l-.3-5.6l.2-5l-.3-3.4l.7-5l-.8-8.6l0-6l-1-8l.1-3.4l-.5-6.6l.2-5.4l-.5-3.6l.6-6.4l-.1-3l.5-3l-.2-3l.4-4.6l-.6-7l.5-17l-.5-4.4l.1-7l-.4-4.6l.8-3.4l.1-9l.5-8l1-6l0-3.6l.6-1.2l1.4-.8l1 .3l.7 1.3l.7 6.4l1.3 5l-.4 7l.9 14l-.2 5l.5 10l-.3 3.6l.4 9.4l-.3 8l.3 4.6l-.5 5.4l.6 8l-.1 7.6l-.5 6.4l.1 9.6l-.2 5.4l-1.9 17.6l.6 6l-.3 11l.2 7.4l-.5 4l.6 5l-.1 5.6l-.8 7l-.2 1.1zM448.8 711.5l-1 .1l-1-.8l-1.9-4l-.5-2.6l.1-6l-.7-3.4l.3-2.6l0-5.4l-.8-7l.3-3l-.2-4.6l.5-3.4l-.3-3.6l.4-3.4l-.9-12.6l.4-4.4l-.4-6l.5-5l-.5-7l.4-5.6l-.3-4.4l.3-3l.1-24.6l.4-6.4l-.5-18.6l.4-5l-.2-10l1.2-7l.4-6l1.7-4l.8-.6l1.2 .6l.9 2.6l.7 3.4l0 3.6l1.5 6l.5 11l-.4 6.4l.7 5l-.5 9.6l.2 5.4l-.3 8l.2 13.6l.5 3.4l-.5 9.6l.4 15.4l-.4 6.6l.4 4l-.3 3.4l.4 5.6l-.6 10.4l.5 13l-.6 5.6l-.2 13.4l-.9 9.3l-1 3.5zM367.2 695.8l-1.4-.1l-1.1-.9l-.9-8l.7-5.6l-.3-10l.4-4.4l-.7-18l.3-8.1l.8-3.5l-1.2-4l1.1-6l-1-3l0-6.4l-.8-3.6l-.5-8l.5-7l-.4-7l.4-2.4l.2-8.6l-.3-7l-.7-4l1-10.4l.8-3l-.3-5.6l1-2.2l1.4-1l.9 .2l.7 .7l1.4 2.9l.2 8.4l.9 6l-.4 4.6l.1 12.4l.3 4.6l-.5 4l.5 16.4l-2.1 20l1.2 4l-.8 5l.7 5l-.4 2.6l.4 4l-.8 6l.5 7.4l-.5 3.6l.4 2l-.2 8.4l.5 9l0 6.6l-.5 3zM204.8 643.7l-1-.5l-1-1.3l-1.2-5.1l.2-4.6l-.7-6l0-4l-.9-5.4l.3-21l-.3-3.6l.4-7l-.4-6.4l.6-4l0-6.6l1.4-5.6l1-1.6l1.6-.7l1.4 .9l.5 1.6l.4 4.4l.7 2.1l.4 3.5l.2 8l-.5 10.4l.4 5l-.2 3.6l.2 11.4l-.4 8.6l-.9 4.4l.6 6l-1.3 6l-.1 3.6zM205.8 652l-.6 .2l-1-.5l0-1.7l.6-.4l1 1.2z" fill-opacity="0.594"/>
<path d="M529.8 710l-.6-.2l-1.8-5.6l-.9-8.4l-.6-2.6l.3-4.4l-.8-12l.3-18.6l-.5-10.4l.4-15l-.5-12.6l.5-6l0-4.4l-.6-12l.7-7l-.5-12l.4-6.6l0-16l-.4-4l.5-6.4l-.5-7l.5-6l0-13.6l.4-2.4l-.4-9.6l.3-7l-.4-5l.8-7.4l-.2-4.6l.4-3.4l-.3-6.6l.4-4.4l1.3-6.6l0-5.4l.5-3l-.3-1.6l0-2.2l1-2.8l1-.5l1.1 .5l.2 1l-.1 1.6l.4 2l-.8 2.4l.1 4l.3 3l1.4 4.5l-.4 4.1l.5 8.4l.9 3.6l-.4 6.4l.4 5.6l-.4 4l.8 13l-.5 7.4l.6 7l-.3 13.6l.8 6l-1 5l.7 8l-.2 10.4l.2 9l-.5 10l.7 5.6l-.1 8l-.5 7l.6 6.4l-.7 5.6l.6 5.4l-.3 3.6l.2 9.4l-.2 3l.4 5l-.3 3.6l.1 4l-.4 4l.3 13l-.4 4l.1 9l-.9 10.2l-.8 3.2l-.2 6.9l-.9 3.7zM408.2 715.3l-.4 .4l-.5-.5l.1-1l-1-2l-.3-3l-1.7-5.4l.2-7.6l-.8-4.9l-.1-6.1l-.5-4l.5-7.4l-.1-10.6l-.4-2.4l.6-7l-.6-8.6l.2-11.4l-.3-16l.5-7.6l-.6-7.4l.7-11l-.9-10l.8-9l-.4-11.6l.4-4l-.3-8.4l.6-8l-.3-7.6l.8-7l-.2-18l.4-3l-.3-4l.8-6l-.4-3l0-5.4l.5-5.8l.6-1.8l1.5-2.4l-.9-2.6l-.3-3l.2-3l.9-2.4l-.6-3.6l.6-2.3l.6 .1l.8 1.8l.2 2.4l-.6 1.6l1.5 4.4l-.2 4.6l-.7 2l1.4 3.6l.7 7.8l-.2 8.6l.6 4.4l.2 9l-.4 3.6l.2 8.4l.6 5l.2 10.6l-.3 10l.7 11.4l-.5 14.6l.4 7.4l-.5 4.6l.9 6.4l-.4 4l.2 12l-.2 21.6l.6 6l-.6 6.4l.2 13.6l-.6 6l.6 6l-.5 5l.2 10.4l-.5 4l0 10l-1.3 12.6l-.3 1.1l-1.2 1.9zM286.2 477.8l-1 0l-.8-1l-.2-1.2l.7-.8l1.3-.2l1.1 .6l-.3 2zM161.8 714.4l-1 .1l-.6-.4l-1.4-2.2l-.6-2.1l-.3-9.6l.2-6l-.6-7.4l.4-4.6l-.3-4l.1-19.4l-.3-4.6l.3-4l-.7-8l.3-5l-.6-10.4l.7-4.6l.1-3.4l-.2-19l-.6-7l.5-4.6l.3-8.4l-.3-12.6l.2-4l-.4-3.4l.7-4.6l-.1-5.4l.7-8l.7-3.6l.4-4.4l-.1-2.6l.5-3.4l.4-.8l1-.4l1 .7l.6 1.5l2.4 21l.1 20l1 6.4l.2 3l-.2 3l.4 3.6l1.1 5.8l.6 6.6l-.2 7.6l.3 21l-.4 21l.5 37.4l-.6 5l.1 5.6l-.3 2l-.8 1.4l-.8 7.5l-2.1 5.1zM488.2 705.3l-.4 0l-.6-.6l-1.4-4.4l-1.1-10.5l.5-16.6l-.3-12l.2-14l-.5-6l.1-10l.4-5l-.6-14.4l.8-5.6l-.3-6.4l.1-21.6l-.4-4l.5-9.4l-.3-23.6l1.1-5.4l.2-3.6l1-2.5l1-1.3l.6-.1l1 1.6l.9 3.3l-.1 3l.8 7.6l-.1 12.4l.6 7.6l-.6 6l.4 13.4l-.3 3l.5 10l-.4 4l.2 3.6l-.3 6l.5 6l-.3 5.4l.2 9l-.6 7l.7 15.6l-.4 12.4l0 33.6l-1.3 4.4zM286.2 659l-.4-.2l-.6-1l-1-3.5l-.4-4.1l.1-6l-1.2-8.4l-.1-15.6l-.3-4l.3-9l.5-2.4l.1-7.6l-.5-7l.4-17l-.4-4.4l-.1-11.6l.6-3.4l0-6.6l.9-6l.1-5.1l1-2.4l1-1.1l.6 0l1.4 2.7l.7 2.5l-.4 3.4l1.3 18l-.3 5.6l.6 9l-.3 3.4l.4 10l-.4 7.6l.3 5.4l-.4 6.6l.6 7l-.7 16.4l.2 5.6l-.9 13l-1.4 8.4zM448.8 709.4l-1.1-.2l-1.5-1.6l-.5-1.4l-.5-3l.1-5l-.7-3l0-8.4l-.6-6.6l.5-18.4l-.8-12.6l.4-4.4l-.2-6l.3-5l-.4-7l.3-5.6l-.2-4.4l.3-27l.3-7l-.4-18.6l.5-5l-.4-2.4l.3-2.6l-.2-3.4l.9-6l.9-2.6l.4-5l.5-1l.8-.6l.4 0l.6 .6l.4 4l2.1 6.6l.7 12l-.4 6.4l.7 4.6l-.5 10.4l0 12l.2 14.6l.4 4l-.5 9l.3 16l-.3 6.4l.3 3.2l.2 9.8l-.6 10l.5 12.6l-.7 6.4l.1 8l-1 11.6l-.9 4.5zM366.2 624l-.4 .2l-.6-1l0-3.4l-1.4-7.4l-.5-6.2l.4-7.4l-.3-2.6l.3-10.4l.4-4l-1-11l.7-8.1l1.3-6.5l-.3-4l.4-1l1-.6l1.5 .6l.6 1l-.1 3l.4 5l1.1 5.6l-.4 3.4l-.2 12.6l.6 5.4l-.7 5l.7 10.6l-.3 8.4l-1.5 7.6l-.1 2.4zM204.2 637.7l-1-.8l-.1-.7l-.9-13.4l-1.2-6.6l.2-18l-.5-6l.5-4.4l-.3-8.6l.7-10l1.6-5.4l1-.9l1 .6l.6 1.3l1.7 9l.3 7.9l-.7 9.5l.6 5l-.3 3.6l.4 11l-.9 9.4l-.8 4l.3 3l-.2 5zM367.2 635.3l-.4 .3l-1-.2l-.7-1.2l.1-2.1l.6-1.9l.4-.4l1.5 1l.5 1.4l0 1zM367.2 652.9l-.4 .3l-1-.6l-1.1-2.8l.3-7.6l.8-1.6l1-.5l1 .8l.5 1.3l-.4 2.6l.5 2l-.2 3.8zM286.2 703l-.4 0l-.6-.8l-1-2.1l-.2-1.3l.4-6l.8-3.6l-1.1-5l.6-6.4l-.6-5.6l-.1-8l.8-3.1l1-.9l1 .3l1 1.2l.5 3.1l-.2 6.4l-.5 5.6l.6 6.5l-.2 1.9l-1.1 3.6l1 3.4l.3 6l-.4 2.3zM366.8 674.2l-.6 0l-.4-2.4l.4-1.4l.6 .1l.5 .7l-.1 2zM367.2 693.3l-1 .1l-.6-.6l-.9-5l.1-3.1l.4-1.9l.6-.7l1-.5l1 .6l.1 .6l.5 3.4l-.5 5z" fill-opacity="0.769"/>
</g>
<g fill="none" stroke="#404040" stroke-width="7.2" stroke-linecap="round" stroke-opacity="0.085">
<path d="M159.5 300h0m1 0h0m-1.5 36h0m-4.5 15h0m6 67h0m-1.5 47h0m0 1h0m0 4h0m-.5 10h0m-4 107h0m6 142h0m3.5-379h0m0 11h0m-1 21h0m-1.5 73h0m8.5 41h0m-7.5 2h0m-1 12h0m8.5 40h0m-3.5 7h0m0 6h0m5.5 5h0m0 0h0m-2 11h0m0 47h0m10-154h0m-.5 20h0m22.5-72h0m1 33h0m0 270h0m1.5-286h0m1 84h0m-2 1h0m2 3h0m-.5 23h0m-1.5 129h0m2 4h0m.5 13h0m-.5 9h0m38.5-140h0m0 55h0m0 10h0m0 10h0m0 8h0m0 50h0m0 11h0m41-504h0m-.5 2h0m2.5 17h0m-2 1h0m0 1h0m.5 68h0m-.5 7h0m2 46h0m-2 47h0m1.5 7h0m-3.5 34h0m2 30h0m1 3h0m-1 1h0m-.5 15h0m3.5-78h0m0 75h0m.5 17h0m-1 23h0m38.5-99h0m-1.5 77h0m1 8h0m2 27h0m-.5 0h0m.5 33h0m-3 13h0m1.5 10h0m0 6h0m-1 6h0m0 5h0m-2 12h0m4.5 13h0m-1.5 5h0m-3 8h0m4.5 49h0m-1.5 2h0m1 6h0m.5 5h0m-4.5 2h0m13.5-258h0m-1 39h0m1 2h0m0 16h0m-1 10h0m30-67h0m1.5 21h0m.5 40h0m-3 14h0m3 9h0m-2 7h0m1.5 163h0m10-350h0m.5 105h0m0 16h0m0 14h0m26-301h0m2 29h0m6 15h0m-3.5 0h0m2 18h0m-9 42h0m10.5 53h0m-4.5 8h0m2.5 3h0m-1 1h0m-1.5 6h0m.5 31h0m2 20h0m-2 6h0m4 19h0m-.5 12h0m-10 25h0m11 16h0m-11 129h0m10.5 93h0m-3 9h0m10.5-432h0m0 89h0m0 67h0m0 25h0m0 2h0m0 49h0m-5.5 10h0m0 4h0m4.5 20h0m1 15h0m0 59h0m0 26h0m0 8h0m0 1h0m0 5h0m30-464h0m-2.5 93h0m1 134h0m-3.5 22h0m.5 7h0m4.5 2h0m.5 7h0m4 4h0m-.5 5h0m-6 11h0m-5 7h0m6 3h0m-4 2h0m3 5h0m-.5 4h0m2.5 7h0m-7 131h0m0 4h0m0 2h0m0 26h0m45-177h0m2 3h0m1 5h0m0 2h0m-2 2h0m6.5 23h0m0 14h0m0 28h0m0 2h0m0 4h0m-11 1h0m11 3h0m1.5 18h0m-1.5 17h0m0 11h0m1.5 17h0m-1.5 24h0m0 0h0m0 2h0m0 1h0m0 6h0m30-203h0m-1 10h0m.5 6h0m-.5 31h0m0 15h0m0 8h0m0 20h0m0 29h0m6-382h0m.5 95h0m2.5 3h0m-1.5 10h0m-1 67h0m.5 11h0m-3.5 7h0m7 2h0m-5 12h0m5.5 22h0m-9 4h0m9 18h0m8.5-12h0m1.5 17h0m0 9h0m0 3h0m-1.5 1h0m1.5 22h0m-1.5 18h0m1.5 20h0"/>
<path d="M160.5 214h0m-.5 102h0m0 77h0m.5 51h0m-3 32h0m1.5 16h0m1.5 16h0m-6 145h0m6 79h0m2-516h0m-1 51h0m-.5 61h0m0 9h0m.5 38h0m.5 14h0m-.5 77h0m-.5 27h0m9 17h0m-8.5 2h0m8.5 2h0m0 9h0m0 20h0m0 42h0m2 8h0m8 2h0m0 18h0m0 2h0m-.5 9h0m.5 43h0m23-282h0m0 109h0m-1 61h0m1 121h0m-1 36h0m0 3h0m3.5-401h0m-1.5 20h0m2 34h0m-.5 39h0m-1.5 35h0m1.5 2h0m-1.5 13h0m1.5 3h0m.5 43h0m-.5 19h0m-1.5 7h0m1.5 133h0m-.5 23h0m.5 6h0m0 19h0m0 1h0m-1.5 9h0m2 5h0m38-170h0m0 9h0m0 28h0m0 1h0m0 2h0m0 1h0m0 2h0m0 19h0m0 1h0m0 11h0m0 2h0m0 20h0m0 6h0m0 7h0m40.5-445h0m1 14h0m1 4h0m0 22h0m.5 32h0m0 65h0m-1 26h0m-.5 111h0m0 21h0m1 198h0m2-204h0m34.5 27h0m2.5 4h0m.5 10h0m1 2h0m.5 9h0m-4.5 12h0m4 16h0m0 9h0m-1 7h0m0 19h0m-1.5 4h0m0 1h0m.5 10h0m.5 30h0m-2.5 30h0m2.5 4h0m-2.5 1h0m4 10h0m-2 2h0m10.5-261h0m1 39h0m0 38h0m0 2h0m0 19h0m29-60h0m0 2h0m1.5 19h0m.5 27h0m0 2h0m-4.5 6h0m14-86h0m.5 2h0m31-274h0m0 5h0m1 2h0m-.5 2h0m.5 17h0m1.5 17h0m-4.5 24h0m1.5 39h0m-2 117h0m4.5 2h0m-4.5 10h0m2.5 9h0m-.5 6h0m3.5 1h0m0 9h0m-10.5 195h0m6.5 77h0m-.5 3h0m11-391h0m1 28h0m0 15h0m-1 40h0m0 56h0m0 5h0m0 4h0m1 2h0m-5.5 14h0m5.5 1h0m0 57h0m-1 1h0m1 7h0m0 19h0m0 46h0m-1 25h0m29-442h0m2.5 16h0m-3.5 35h0m.5 79h0m7 112h0m0 20h0m-4.5 17h0m-7 70h0m11.5 67h0m-11.5 6h0m0 51h0m4.5 30h0m2.5 4h0m-.5 1h0m3 1h0m-6.5 2h0m19-231h0m0 94h0m20-234h0m4 31h0m-.5 5h0m-1.5 63h0m8.5 21h0m-6 20h0m-1.5 12h0m7.5 63h0m0 6h0m-11 8h0m12.5 16h0m-12.5 9h0m0 39h0m11 21h0m0 26h0m0 1h0m30-263h0m-1 64h0m0 92h0m0 7h0m0 33h0m0 50h0m5-401h0m-1 34h0m2.5 35h0m-1.5 33h0m1.5 25h0m0 8h0m2.5 2h0m-3.5 11h0m-3.5 28h0m9 45h0m-5 223h0m13.5-224h0m1.5 18h0m-1.5 49h0m0 19h0"/>
<path d="M160.5 441h0m0 57h0m-6 78h0m0 68h0m7-398h0m.5 37h0m2 46h0m-2.5 13h0m0 114h0m8.5 22h0m-8 3h0m1 9h0m-2 3h0m.5 6h0m-.5 1h0m1.5 12h0m-1.5 1h0m9 22h0m-3.5 33h0m3.5 35h0m0 16h0m0 38h0m33-318h0m-1 78h0m0 139h0m1 134h0m0 3h0m-1.5 2h0m1.5 25h0m2.5-282h0m-.5 21h0m-1 15h0m0 0h0m1.5 59h0m-1.5 138h0m2 6h0m-.5 1h0m0 29h0m38.5-165h0m0 11h0m0 48h0m0 1h0m0 2h0m0 9h0m0 44h0m0 18h0m0 0h0m42.5-472h0m-1.5 17h0m1.5 15h0m-1 99h0m-1.5 62h0m3 11h0m-2 82h0m.5 10h0m0 20h0m-.5 3h0m1 197h0m1.5-251h0m1 29h0m0 23h0m37-13h0m1.5 14h0m-4 0h0m2.5 3h0m-1 12h0m-1.5 24h0m2.5 20h0m1.5 23h0m-2 7h0m0 14h0m.5 21h0m0 7h0m.5 4h0m1 49h0m-2 6h0m11.5-264h0m0 4h0m-1 16h0m1 12h0m0 63h0m-1 8h0m1 1h0m29-152h0m0 74h0m2 2h0m-.5 7h0m.5 19h0m-1 6h0m0 10h0m-1 1h0m0 4h0m1.5 2h0m-1.5 3h0m0 4h0m-2.5 90h0m3 82h0m11-242h0m0 4h0m33-240h0m-3.5 46h0m1 25h0m-2.5 23h0m2.5 7h0m-6.5 6h0m2.5 15h0m.5 6h0m7.5 8h0m-1.5 38h0m1.5 1h0m-5 9h0m1.5 21h0m-1.5 11h0m-3 39h0m15.5-120h0m0 38h0m-1 13h0m1 22h0m0 17h0m-1 49h0m1 36h0m0 43h0m-5.5 3h0m4.5 28h0m30.5-329h0m.5 1h0m0 77h0m-1.5 3h0m1.5 55h0m0 41h0m4 17h0m-3 6h0m-3 24h0m2 6h0m.5 4h0m-7.5 123h0m0 20h0m0 7h0m0 2h0m11.5 10h0m-4.5 41h0m39-407h0m-1.5 137h0m2 23h0m-3.5 8h0m3.5 5h0m-.5 4h0m-1 6h0m7.5 2h0m-4 22h0m-4.5 3h0m8.5 56h0m0 43h0m0 8h0m0 1h0m0 4h0m0 3h0m0 30h0m0 11h0m1.5 7h0m0 0h0m-1.5 11h0m0 3h0m0 1h0m-8 19h0m37-93h0m.5 7h0m5-442h0m0 46h0m-.5 64h0m2 4h0m-.5 34h0m1 38h0m-.5 15h0m-2.5 15h0m4.5 10h0m.5 44h0m1 241h0m-7 15h0m17.5-239h0m0 5h0m-1.5 19h0m0 25h0m1.5 25h0m0 33h0"/>
<path d="M160.5 334h0m-1.5 43h0m1.5 82h0m-.5 40h0m-5.5 66h0m0 37h0m0 21h0m0 1h0m0 15h0m0 0h0m0 32h0m5.5 55h0m0 4h0m0 0h0m0 12h0m0 3h0m1-551h0m.5 118h0m1.5 76h0m0 36h0m-1.5 18h0m0 34h0m0 0h0m8.5 5h0m2 35h0m-2 16h0m0 37h0m2 35h0m0 2h0m8 1h0m21.5-370h0m1.5 218h0m-1.5 207h0m0 13h0m0 15h0m1.5 10h0m0 23h0m2.5-304h0m-1.5 23h0m0 33h0m-.5 10h0m2.5 22h0m-1 45h0m0 2h0m.5 135h0m-2 16h0m40.5-175h0m0 34h0m0 22h0m0 60h0m0 23h0m0 10h0m0 5h0m41-470h0m2 29h0m-2 163h0m1.5 6h0m-1 59h0m-.5 11h0m0 19h0m-2 0h0m4.5-30h0m1 34h0m36-6h0m-1.5 7h0m3 5h0m-.5 9h0m1.5 6h0m-4 18h0m0 21h0m4.5 11h0m-1.5 32h0m-1 11h0m0 0h0m1 13h0m-.5 1h0m-.5 13h0m-.5 3h0m1.5 1h0m1.5 5h0m-1.5 60h0m10.5-228h0m-1 13h0m0 9h0m1 2h0m0 4h0m0 21h0m31-228h0m0 93h0m0 10h0m0 1h0m-1.5 14h0m-2.5 56h0m3 1h0m-3.5 4h0m4.5 2h0m-4 4h0m3 1h0m.5 24h0m-1.5 3h0m-1.5 7h0m2.5 5h0m0 12h0m0 0h0m.5 1h0m-2.5 151h0m12.5-266h0m.5 5h0m-.5 5h0m.5 40h0m26-280h0m2 46h0m1.5 2h0m.5 1h0m.5 28h0m.5 9h0m-2 5h0m0 8h0m1 14h0m-.5 25h0m0 5h0m0 31h0m4.5 62h0m0 1h0m0 6h0m-6.5 4h0m-4 187h0m18-184h0m0 1h0m0 32h0m-1 12h0m1 14h0m0 49h0m-1 19h0m-4.5 8h0m0 43h0m0 31h0m5.5 1h0m26-473h0m3.5 212h0m-1 71h0m.5 40h0m-6 64h0m11.5 35h0m-11.5 8h0m11.5 10h0m0 13h0m-11.5 8h0m11.5 58h0m-8.5 9h0m5 8h0m-3 3h0m17-239h0m0 94h0m24-110h0m-1.5 17h0m1.5 10h0m-1 17h0m7.5 13h0m1.5 36h0m-1.5 16h0m0 23h0m-11 22h0m11 4h0m0 15h0m0 8h0m1.5 5h0m-1.5 9h0m0 2h0m-11 6h0m11 15h0m29-62h0m11-435h0m-6.5 28h0m3.5 99h0m1.5 91h0m-5 8h0m-.5 9h0m1.5 4h0m15.5 63h0m0 28h0m-1.5 60h0m0 1h0"/>
<path d="M159 353h0m1 165h0m-5.5 71h0m0 1h0m6 137h0m-.5 19h0m.5 2h0m1-556h0m0 29h0m0 37h0m1 40h0m.5 94h0m-1.5 24h0m-.5 55h0m0 5h0m2.5 5h0m-2.5 11h0m3.5 13h0m5.5 6h0m0 47h0m2 20h0m0 7h0m0 53h0m6-225h0m1.5 64h0m.5 122h0m-.5 33h0m0 24h0m22.5-237h0m1 129h0m-1 7h0m-.5 106h0m.5 57h0m3.5-323h0m-2 37h0m.5 6h0m0 6h0m0 0h0m1 63h0m.5 46h0m-1 127h0m1 14h0m38.5-110h0m0 1h0m0 12h0m0 42h0m0 21h0m41.5-462h0m1 18h0m.5 22h0m-2 53h0m-2 8h0m3 81h0m0 32h0m-1 21h0m0 19h0m1 18h0m0 28h0m-1 212h0m3-466h0m0 275h0m38-24h0m1.5 7h0m-1.5 4h0m-1 3h0m-2 29h0m4.5 20h0m-4.5 3h0m0 9h0m4 12h0m.5 10h0m-1.5 5h0m-1.5 0h0m-1.5 20h0m4 9h0m-1 13h0m-3 8h0m2 1h0m0 5h0m-.5 21h0m.5 3h0m1 5h0m-.5 1h0m1.5 22h0m-2 11h0m11.5-264h0m-1 12h0m1 2h0m0 87h0m29.5-123h0m-.5 49h0m1 45h0m1 11h0m-1.5 3h0m-3 19h0m2.5 144h0m.5 2h0m11-229h0m32.5-247h0m-1 62h0m-3.5 32h0m2.5 26h0m2 4h0m-2.5 1h0m1 5h0m-2 29h0m2 11h0m-1.5 18h0m2 5h0m-1 1h0m-1 1h0m1 9h0m-.5 4h0m4.5 27h0m-7.5 5h0m-.5 1h0m.5 10h0m-3 95h0m0 56h0m0 19h0m0 4h0m2.5 57h0m6.5 18h0m-2 6h0m11-434h0m0 94h0m0 8h0m0 59h0m-1 2h0m0 27h0m0 34h0m1 43h0m0 71h0m31-343h0m-5 90h0m2.5 81h0m1 7h0m-1 11h0m0 14h0m1.5 5h0m-2.5 4h0m3.5 22h0m1.5 6h0m-9.5 25h0m11.5 29h0m0 15h0m0 59h0m0 3h0m-11.5 32h0m22-112h0m23.5-186h0m-.5 5h0m0 44h0m0 3h0m-3.5 34h0m4 11h0m7 31h0m1.5 77h0m-1.5 17h0m0 5h0m0 23h0m-11 18h0m11 26h0m0 7h0m0 1h0m-4.5 14h0m34-268h0m-.5 106h0m.5 29h0m-.5 37h0m1 74h0m-.5 3h0m2.5-461h0m4 1h0m0 143h0m0 27h0m1.5 12h0m-2.5 3h0m1 7h0m1 4h0m-2.5 0h0m4 282h0m-4.5 5h0m14.5-229h0m0 32h0m0 53h0"/>
<path d="M160.5 263h0m-1.5 70h0m0 46h0m0 62h0m-.5 16h0m2 20h0m-1.5 5h0m1.5 30h0m-1.5 7h0m-4.5 42h0m0 69h0m6 94h0m1-372h0m1 115h0m-.5 10h0m.5 2h0m-1 9h0m10.5 1h0m-9.5 1h0m7.5 1h0m-9 7h0m0 8h0m9 9h0m-3.5 29h0m3.5 0h0m2 9h0m-2 2h0m0 4h0m0 25h0m0 22h0m10-30h0m0 15h0m0 1h0m-.5 39h0m.5 3h0m0 6h0m-.5 0h0m22-225h0m1.5 89h0m-1 19h0m0 23h0m-.5 113h0m.5 14h0m1 10h0m0 5h0m0 5h0m0 33h0m3-181h0m-2.5 138h0m2 14h0m0 2h0m-2 9h0m40.5-139h0m0 5h0m0 7h0m0 23h0m0 8h0m0 15h0m0 53h0m0 30h0m43-461h0m-1 12h0m-.5 76h0m0 77h0m0 84h0m-2.5 15h0m5.5-318h0m-1 91h0m0 5h0m0 216h0m38-19h0m-1 22h0m2.5 37h0m0 1h0m.5 4h0m0 11h0m-4.5 9h0m0 5h0m2.5 10h0m-1 3h0m1 13h0m.5 6h0m-1 2h0m1 4h0m0 4h0m-3 23h0m4.5 14h0m-3 53h0m12-255h0m0 24h0m-1 45h0m0 12h0m0 6h0m27.5-135h0m3.5 27h0m1 17h0m-1.5 10h0m0 3h0m-.5 3h0m2 3h0m-1 2h0m0 9h0m-2 19h0m2 29h0m-1 9h0m0 7h0m-2.5 12h0m2.5 148h0m11.5-273h0m0 20h0m.5 22h0m29.5-281h0m-6 20h0m9 5h0m1 46h0m-2.5 54h0m1 12h0m-.5 4h0m-.5 24h0m-2 47h0m2.5 8h0m-1 4h0m-.5 3h0m-1 17h0m1.5 1h0m1.5 1h0m-3 4h0m4.5 36h0m-10 92h0m0 39h0m0 70h0m8.5 64h0m9.5-407h0m0 35h0m0 12h0m0 22h0m-1 11h0m-4.5 32h0m0 60h0m4.5 43h0m1 3h0m0 17h0m0 1h0m0 34h0m-1 45h0m29-445h0m2.5 55h0m-1 6h0m1.5 3h0m-3.5 12h0m5.5 37h0m-7 91h0m2.5 18h0m-2.5 20h0m3.5 18h0m-1 5h0m0 20h0m-2.5 6h0m2.5 2h0m6 3h0m-6 1h0m-3 7h0m4.5 5h0m0 4h0m1 7h0m3.5 18h0m-11.5 74h0m11.5 14h0m0 22h0m-11.5 39h0m6 37h0m16-250h0m0 44h0m24-107h0m2 2h0m-2 35h0m0 2h0m0 31h0m0 31h0m6.5 17h0m-11 2h0m0 8h0m11 2h0m1.5 29h0m-12.5 6h0m11 7h0m0 3h0m-11 10h0m11 25h0m29 67h0m6.5-484h0m-1.5 16h0m5.5 3h0m-6 11h0m0 18h0m3.5 45h0m-3.5 33h0m2.5 5h0m-2 69h0m4 12h0m0 6h0m2 274h0m-5.5 17h0m15.5-178h0m0 20h0"/>
<path d="M160 280h0m.5 30h0m-2 68h0m-4 37h0m4.5 74h0m1 0h0m-5.5 136h0m0 2h0m0 71h0m5.5 43h0m2.5-473h0m-1 83h0m2 46h0m6.5 66h0m-8.5 5h0m8.5 0h0m0 9h0m-7 27h0m-1.5 1h0m8.5 30h0m0 60h0m2 4h0m-2 8h0m2 18h0m7.5-83h0m.5 89h0m0 23h0m23-247h0m-1 47h0m-.5 199h0m0 8h0m1.5 44h0m1-265h0m-.5 88h0m1.5 28h0m0 125h0m-1.5 1h0m40.5-148h0m0 79h0m0 32h0m0 1h0m0 11h0m42-441h0m-.5 10h0m.5 19h0m1 125h0m0 70h0m-1 2h0m0 44h0m2.5-298h0m39 319h0m-.5 1h0m-4 7h0m4 8h0m-1 12h0m-.5 45h0m-2.5 13h0m2.5 3h0m.5 15h0m0 1h0m-3 6h0m4 2h0m0 0h0m0 0h0m0 4h0m.5 21h0m-2.5 9h0m-.5 20h0m11-221h0m1 16h0m0 9h0m0 24h0m-1 8h0m0 1h0m1 16h0m29-224h0m0 68h0m1 144h0m1 4h0m1.5 2h0m-5 10h0m3 5h0m-4 89h0m14.5-274h0m-.5 77h0m.5 27h0m-.5 0h0m.5 24h0m-.5 10h0m31.5-277h0m-3 22h0m3 35h0m-5 28h0m6 15h0m-6 43h0m5 20h0m-1.5 8h0m-.5 4h0m1.5 0h0m0 8h0m1.5 14h0m-.5 4h0m-2 3h0m2.5 29h0m-8.5 56h0m0 134h0m0 38h0m5.5 58h0m11.5-384h0m0 20h0m1 3h0m0 53h0m0 7h0m0 51h0m-1 5h0m1 38h0m0 7h0m0 11h0m0 34h0m-1 37h0m-4.5 4h0m5.5 27h0m0 26h0m26.5-439h0m2 2h0m0 236h0m1 37h0m0 1h0m-1.5 5h0m0 2h0m3 1h0m3.5 6h0m-11.5 20h0m11.5 9h0m-11.5 26h0m0 7h0m11.5 40h0m0 9h0m-11.5 7h0m6.5 81h0m-1 3h0m16.5-177h0m0 52h0m0 15h0m24.5-211h0m-.5 25h0m-.5 1h0m1.5 6h0m-1 60h0m6.5 20h0m-10.5 10h0m-.5 8h0m11 46h0m0 8h0m0 16h0m0 12h0m0 10h0m-11 23h0m11 32h0m-6.5 35h0m10 13h0m25.5-201h0m0 37h0m0 2h0m0 35h0m0 56h0m0 9h0m7-466h0m-1 69h0m-3.5 22h0m4 18h0m-1.5 56h0m2 31h0m-1 19h0m1.5 4h0m-2 4h0m4 33h0m-5 271h0m15-223h0m1.5 1h0m0 35h0m0 17h0m1.5 136h0"/>
<path d="M159 241h0m0 259h0m1.5 10h0m-6 109h0m0 33h0m4.5 66h0m1 11h0m.5 3h0m1.5-477h0m-.5 23h0m2.5 53h0m-2 59h0m1 3h0m-2 3h0m1.5 10h0m-1.5 12h0m2 42h0m9 9h0m-10 1h0m.5 1h0m-1 11h0m-.5 12h0m11 43h0m-5.5 19h0m5.5 1h0m0 27h0m0 10h0m-2 3h0m2 4h0m7.5-70h0m0 70h0m0 8h0m.5 9h0m0 7h0m21.5-65h0m0 134h0m4-402h0m-1.5 146h0m0 4h0m2 25h0m-2.5 52h0m.5 160h0m1.5 9h0m0 14h0m38.5-181h0m0 20h0m0 13h0m0 55h0m0 25h0m0 5h0m0 0h0m0 23h0m0 13h0m0 1h0m0 10h0m0 3h0m41-491h0m.5 2h0m.5 20h0m-1 10h0m1.5 1h0m-2.5 2h0m1 6h0m1 64h0m-1 99h0m1 4h0m-1 22h0m1 28h0m-1.5 30h0m1 10h0m1.5 14h0m1.5-9h0m39 5h0m-4.5 4h0m3 34h0m1.5 27h0m-4.5 5h0m1.5 10h0m3 6h0m-1.5 0h0m1.5 7h0m-2 12h0m-2.5 2h0m2.5 8h0m0 34h0m-2.5 23h0m1.5 30h0m2.5 3h0m-2 0h0m2.5 4h0m-2 4h0m10-265h0m1 13h0m-1 24h0m0 18h0m30.5-151h0m1 38h0m0 34h0m-3.5 21h0m4 25h0m-4.5 3h0m1 0h0m2.5 3h0m-1 1h0m1.5 14h0m0 4h0m-1.5 1h0m-2 11h0m3 10h0m-1 18h0m1 2h0m-2.5 1h0m2 158h0m11-277h0m0 7h0m0 11h0m.5 0h0m0 9h0m2.5 108h0m28-354h0m.5 38h0m-3 6h0m5.5 59h0m-2 10h0m0 73h0m-1.5 9h0m-1.5 28h0m-.5 1h0m4.5 22h0m-9 228h0m9.5 40h0m-3 2h0m2.5 7h0m-3.5 7h0m11.5-489h0m1 10h0m0 51h0m0 20h0m-1 33h0m1 83h0m0 6h0m-1 9h0m0 21h0m1 27h0m0 2h0m-5.5 30h0m5.5 25h0m0 7h0m0 14h0m-5.5 1h0m5.5 55h0m30-411h0m-1.5 101h0m1 30h0m0 2h0m-.5 74h0m5 42h0m0 1h0m.5 11h0m-6.5 8h0m.5 13h0m1 13h0m-6.5 74h0m11.5 44h0m-6 80h0m16.5-224h0m0 57h0m0 27h0m0 5h0m24-130h0m1 1h0m-.5 25h0m-2 10h0m1.5 8h0m0 4h0m0 9h0m6.5 24h0m0 31h0m0 32h0m1.5 3h0m0 13h0m-1.5 53h0m0 1h0m0 3h0m1.5 5h0m-1.5 9h0m0 8h0m0 2h0m-4 13h0m33.5-268h0m0 23h0m0 5h0m-.5 9h0m0 9h0m0 9h0m0 18h0m0 3h0m0 1h0m.5 3h0m8.5-303h0m-2 19h0m0 99h0m0 48h0m-1.5 2h0m-.5 12h0m2.5 9h0m-2 15h0m3.5 12h0m2 27h0m0 10h0m-3.5 242h0m13.5-195h0m0 2h0m0 14h0m-1.5 32h0"/>
<path d="M159 189h0m1.5 17h0m-.5 17h0m.5 258h0m-1.5 40h0m-4.5 57h0m0 18h0m0 79h0m0 17h0m6 34h0m0 22h0m1-393h0m2 61h0m.5 1h0m-2 13h0m-.5 1h0m1.5 3h0m-1.5 1h0m2 27h0m6.5 31h0m0 2h0m-8.5 19h0m8.5 17h0m2 11h0m-2 8h0m2 22h0m-2 3h0m0 10h0m2 19h0m0 15h0m0 9h0m-2 14h0m-4 72h0m13.5-150h0m.5 16h0m-.5 33h0m.5 44h0m23-318h0m0 54h0m0 26h0m0 136h0m0 133h0m0 23h0m1-275h0m-.5 59h0m2.5 164h0m-2.5 14h0m2.5 13h0m-2 5h0m2 36h0m38-163h0m0 7h0m0 18h0m0 2h0m0 31h0m0 20h0m41-406h0m1.5 231h0m0 34h0m2-112h0m0 38h0m-1 93h0m37-22h0m-1.5 17h0m1.5 3h0m0 9h0m0 5h0m.5 2h0m2 2h0m.5 2h0m-2.5 5h0m-2 41h0m2.5 5h0m1.5 6h0m-2 3h0m0 3h0m2.5 10h0m0 32h0m-3 19h0m0 44h0m12-228h0m0 10h0m0 1h0m-1 29h0m0 9h0m0 16h0m31.5-139h0m.5 15h0m-1 2h0m-1 51h0m1 45h0m-1 17h0m-2.5 98h0m2.5 71h0m.5 4h0m11.5-264h0m-.5 43h0m30.5-294h0m-.5 22h0m1.5 36h0m-1 12h0m-2 23h0m.5 7h0m1.5 2h0m-1 33h0m.5 19h0m1 5h0m-1 34h0m4 3h0m-2.5 12h0m-.5 11h0m-1 9h0m2 3h0m-3 18h0m5 4h0m-10 5h0m2.5 2h0m7.5 0h0m0 5h0m-7.5 5h0m8.5 252h0m-2 7h0m-2 3h0m0 2h0m10-471h0m1 71h0m-1 41h0m1 20h0m0 29h0m0 7h0m0 14h0m-1 41h0m1 51h0m-1 13h0m1 27h0m-5.5 18h0m4.5 16h0m1 1h0m-1 13h0m1 1h0m0 8h0m0 19h0m-5.5 59h0m33.5-460h0m1.5 16h0m1.5 36h0m-2 147h0m0 10h0m5 22h0m.5 2h0m-6.5 4h0m-2.5 5h0m1.5 1h0m2 26h0m-2.5 15h0m-1.5 3h0m7 3h0m-9 36h0m0 29h0m0 20h0m11.5 9h0m-11.5 24h0m0 6h0m11.5 48h0m-5 13h0m-.5 4h0m16-222h0m0 115h0m24.5-108h0m-.5 3h0m-4 24h0m10.5 27h0m1.5 40h0m-1.5 1h0m0 17h0m0 1h0m0 4h0m0 17h0m1.5 2h0m-1.5 25h0m0 18h0m1.5 14h0m-8 14h0m35.5-274h0m1 62h0m-1 85h0m0 14h0m.5 34h0m-.5 21h0m0 5h0m5-265h0m1.5 2h0m-3.5 15h0m1.5 10h0m1 1h0m3 5h0m12.5 30h0m-1.5 22h0m0 37h0m0 63h0"/>
<path d="M160.5 245h0m-1.5 2h0m1.5 103h0m-.5 44h0m.5 1h0m-.5 76h0m.5 38h0m-.5 1h0m0 3h0m.5 4h0m-6 47h0m0 35h0m0 46h0m5.5 77h0m0 5h0m1.5-421h0m.5 41h0m-.5 55h0m8.5 83h0m-6 17h0m-2 1h0m-.5 14h0m10.5 42h0m-2 2h0m2 7h0m0 40h0m8-78h0m-.5 15h0m0 33h0m0 6h0m0 2h0m0 29h0m0 9h0m.5 40h0m23-263h0m-1 6h0m1 139h0m0 155h0m1-267h0m2 79h0m-.5 23h0m-1 148h0m1 13h0m38.5-135h0m0 2h0m0 11h0m0 134h0m0 7h0m42.5-507h0m0 52h0m.5 19h0m-1.5 40h0m.5 51h0m-1 32h0m1.5 1h0m-1 31h0m1.5 59h0m-1 219h0m1.5-351h0m12.5 118h0m-12 5h0m35 4h0m2.5 5h0m-1 26h0m3 1h0m-3 4h0m-1.5 1h0m4 25h0m0 47h0m0 2h0m-1 20h0m-1.5 8h0m1.5 36h0m-1 37h0m1 11h0m1 1h0m-1.5 4h0m10-265h0m1 5h0m0 8h0m0 2h0m0 5h0m0 8h0m-1 6h0m0 11h0m0 5h0m1 31h0m0 3h0m-1 14h0m0 0h0m32-141h0m-.5 43h0m-1.5 12h0m-1.5 7h0m1.5 59h0m-2.5 19h0m3 156h0m40.5-467h0m2 24h0m1 21h0m-1.5 43h0m-1 9h0m0 39h0m1 3h0m-1.5 16h0m5 15h0m-3 16h0m-3 4h0m2 11h0m-3.5 7h0m6.5 13h0m-9.5 164h0m6.5 108h0m11.5-450h0m0 35h0m0 8h0m0 41h0m0 38h0m0 81h0m0 36h0m-1 51h0m0 33h0m-4.5 17h0m0 78h0m35.5-486h0m.5 8h0m-2 20h0m1.5 18h0m-2 27h0m0 20h0m1 63h0m2 43h0m-1.5 60h0m-1.5 26h0m2.5 8h0m-2.5 4h0m2.5 8h0m0 9h0m4 30h0m0 10h0m0 2h0m-11.5 22h0m11.5 28h0m-11.5 1h0m11.5 67h0m-1.5 20h0m-7 12h0m19-241h0m0 48h0m25-123h0m-1 18h0m1.5 41h0m-3.5 16h0m1 5h0m3.5 3h0m-3.5 11h0m.5 17h0m8.5 59h0m-1.5 12h0m0 6h0m0 1h0m-11 1h0m11 15h0m1.5 5h0m-1.5 25h0m-11 11h0m11 10h0m0 18h0m0 2h0m29.5-168h0m-.5 4h0m0 35h0m0 41h0m0 28h0m0 4h0m0 31h0m.5 60h0m2.5-460h0m3.5 43h0m1.5 7h0m-1 22h0m-3 5h0m1.5 40h0m2 56h0m-2 5h0m4 26h0m1.5 234h0m0 0h0m-4 25h0m12.5-224h0m0 26h0m0 24h0m1.5 8h0m0 6h0m0 6h0m-1.5 17h0m1.5 3h0m15.5-113h0"/>
<path d="M160 339h0m-1 11h0m1.5 87h0m0 1h0m-.5 9h0m0 64h0m-5.5 73h0m0 31h0m0 39h0m0 31h0m0 8h0m6 29h0m0 19h0m-.5 6h0m1.5-549h0m-.5 107h0m2 89h0m-1.5 42h0m2.5 11h0m-2.5 21h0m1 5h0m-1.5 25h0m9 10h0m2 5h0m-2 17h0m-3.5 5h0m0 10h0m3.5 9h0m0 4h0m2 7h0m-2 69h0m10-43h0m-.5 50h0m23.5-148h0m0 193h0m3-470h0m-.5 159h0m.5 12h0m-1.5 8h0m0 37h0m1 2h0m-1.5 5h0m1.5 3h0m-1 114h0m1 107h0m-.5 11h0m.5 1h0m-1 14h0m39.5-139h0m0 4h0m0 15h0m0 1h0m0 1h0m0 43h0m0 10h0m0 5h0m0 10h0m0 11h0m0 52h0m0 2h0m0 6h0m0 3h0m39-506h0m1.5 1h0m2.5 12h0m-.5 179h0m-1 23h0m.5 4h0m0 20h0m.5 44h0m-1.5 17h0m1 4h0m-.5 204h0m2-216h0m38.5 20h0m1.5 39h0m-4.5 25h0m4 0h0m-1 20h0m1 12h0m.5 7h0m-1.5 7h0m-1 0h0m1 17h0m-3 1h0m1.5 2h0m2.5 1h0m-2 16h0m.5 6h0m-.5 15h0m11.5-256h0m-1 25h0m0 54h0m0 3h0m0 39h0m30-146h0m2 24h0m-2 21h0m-1 20h0m1 10h0m1 45h0m-1 172h0m11.5-362h0m0 87h0m.5 11h0m0 51h0m34-283h0m-1.5 6h0m-1.5 58h0m-7.5 1h0m9 10h0m-.5 5h0m-1.5 75h0m0 21h0m-.5 9h0m2.5 21h0m-2 23h0m.5 7h0m-5 13h0m8 32h0m.5 8h0m0 5h0m-11 81h0m0 76h0m0 67h0m0 23h0m18-480h0m-1 127h0m1 9h0m0 40h0m-5.5 67h0m5.5 19h0m0 2h0m0 28h0m0 6h0m-5.5 10h0m5.5 13h0m-1 50h0m-4.5 27h0m31.5-382h0m2 21h0m2 131h0m0 3h0m-3.5 4h0m3 25h0m-2.5 7h0m4 33h0m-1.5 1h0m-1.5 3h0m.5 12h0m6 106h0m-11.5 8h0m11.5 44h0m-11.5 22h0m7.5 19h0m14.5-134h0m24.5-325h0m-.5 218h0m1.5 8h0m-2.5 0h0m3.5 7h0m-2.5 7h0m0 9h0m6.5 6h0m0 43h0m1.5 33h0m-1.5 5h0m0 10h0m0 17h0m1.5 20h0m-1.5 8h0m1.5 3h0m-12.5 12h0m12.5 0h0m0 32h0m-12.5 12h0m40.5-231h0m-.5 4h0m.5 88h0m-.5 2h0m0 43h0m0 1h0m9.5-418h0m-4.5 186h0m1 27h0m-.5 2h0m.5 1h0m-1 6h0m14.5 69h0m1.5 26h0m0 1h0m0 20h0m-1.5 4h0m0 6h0m1.5 41h0"/>
<path d="M159 224h0m1.5 184h0m-1 78h0m-.5 33h0m-4.5 126h0m0 4h0m5.5 86h0m0 8h0m.5 2h0m3-559h0m-2.5 89h0m1.5 42h0m-1 7h0m1 13h0m.5 32h0m-1.5 57h0m3 43h0m5.5 2h0m-8.5 13h0m1.5 5h0m0 18h0m9 12h0m-2 25h0m0 58h0m2 11h0m-2 12h0m0 26h0m-7.5 69h0m17-217h0m0 99h0m22-99h0m1.5 53h0m-1.5 92h0m4-266h0m-1.5 53h0m.5 30h0m.5 72h0m0 18h0m.5 134h0m.5 3h0m-2.5 10h0m.5 14h0m40-217h0m0 45h0m-4 16h0m4 79h0m0 19h0m0 20h0m41.5-486h0m-.5 11h0m.5 9h0m1 6h0m.5 9h0m-1 7h0m1 128h0m-2 90h0m2 55h0m-.5 7h0m1.5-260h0m.5 137h0m0 88h0m-.5 24h0m-.5 3h0m38.5-7h0m-1.5 5h0m3 18h0m-3 3h0m2.5 20h0m-1 3h0m1.5 28h0m-2 2h0m0 10h0m0 7h0m-.5 3h0m-.5 3h0m3 0h0m-1.5 2h0m1 0h0m-4 7h0m3 4h0m1.5 8h0m-2.5 2h0m1 1h0m1.5 19h0m-3 4h0m0 1h0m.5 7h0m-2 5h0m4.5 17h0m-1.5 4h0m-1.5 11h0m-1.5 8h0m3 20h0m9.5-271h0m1 1h0m0 35h0m-1 47h0m0 0h0m1 1h0m31.5-333h0m-.5 145h0m-4.5 172h0m3 186h0m11.5-256h0m30-227h0m0 26h0m-4 33h0m5 4h0m-1.5 4h0m-3 15h0m7 4h0m-3 8h0m-1 30h0m.5 78h0m3.5 8h0m-5.5 5h0m-2 27h0m0 5h0m0 6h0m-2.5 56h0m0 139h0m3 48h0m15-292h0m0 25h0m-1 41h0m0 6h0m1 18h0m-1 10h0m0 9h0m1 11h0m-5.5 12h0m4.5 61h0m1 32h0m27.5-447h0m.5 41h0m2 56h0m-2 20h0m.5 31h0m0 61h0m1.5 18h0m-1.5 0h0m-.5 7h0m4 12h0m-7 1h0m0 24h0m5 31h0m-2 18h0m6.5 20h0m-11.5 50h0m11.5 16h0m0 33h0m0 7h0m-11.5 58h0m8 6h0m2 1h0m-6.5 1h0m2.5 11h0m16-173h0m25-68h0m0 15h0m-2 19h0m0 1h0m-2 5h0m9.5 0h0m-11 18h0m11 10h0m0 6h0m0 2h0m-11 4h0m11 19h0m0 42h0m0 32h0m0 0h0m1.5 1h0m-1.5 21h0m0 5h0m0 12h0m-7.5 17h0m36.5-260h0m0 17h0m1 15h0m-1 77h0m.5 22h0m0 86h0m5-328h0m-1.5 57h0m2.5 8h0m-2.5 3h0m1.5 2h0m15.5 129h0m-1.5 28h0m0 6h0"/>
<path d="M160.5 261h0m-.5 35h0m-1.5 175h0m1.5 2h0m.5 18h0m0 5h0m-.5 10h0m-5.5 109h0m0 41h0m0 28h0m6 61h0m1-535h0m1 109h0m-.5 70h0m-1 21h0m9 61h0m2 14h0m-2 7h0m-7.5 11h0m7.5 10h0m2 46h0m0 31h0m0 2h0m-2 42h0m9.5-138h0m0 101h0m.5 21h0m23-321h0m0 193h0m-1 156h0m-.5 19h0m.5 18h0m3-359h0m-1 172h0m1.5 44h0m-.5 9h0m0 2h0m1 8h0m-2 116h0m0 4h0m1 6h0m0 19h0m0 4h0m1 6h0m-1.5 3h0m39.5-200h0m0 72h0m0 8h0m0 24h0m0 12h0m0 25h0m42.5-406h0m0 31h0m-1 99h0m0 129h0m1 3h0m2-277h0m0 237h0m-.5 14h0m0 28h0m37.5-29h0m0 21h0m-.5 25h0m0 2h0m2.5 22h0m-4.5 2h0m4.5 3h0m0 4h0m-4.5 2h0m0 0h0m4.5 9h0m-2.5 3h0m2.5 3h0m0 4h0m0 17h0m-3 8h0m0 11h0m3 17h0m-2 5h0m2 14h0m0 7h0m-2 10h0m.5 9h0m0 2h0m-.5 5h0m-.5 6h0m.5 6h0m-1 6h0m3 9h0m9-248h0m0 17h0m-1 18h0m1 1h0m-1 15h0m1 4h0m29-100h0m0 3h0m-1.5 19h0m3.5 2h0m-1 3h0m0 5h0m-3 20h0m2 28h0m.5 5h0m1 11h0m-3 3h0m3 2h0m-1.5 4h0m0 0h0m-1 14h0m4.5 0h0m-5.5 2h0m14-109h0m-.5 19h0m0 17h0m28.5-264h0m3 20h0m-2.5 25h0m2 37h0m0 47h0m0 38h0m1 31h0m2 6h0m7-127h0m1 6h0m0 8h0m-1 101h0m0 57h0m1 36h0m0 51h0m0 7h0m-1 5h0m0 67h0m1 4h0m0 24h0m28.5-468h0m-.5 45h0m1 31h0m.5 37h0m-1.5 7h0m1.5 7h0m.5 11h0m2.5 11h0m-3.5 52h0m1 2h0m-2.5 18h0m6.5 75h0m-4 5h0m-1 5h0m.5 1h0m0 2h0m-1 10h0m2 6h0m0 17h0m2.5 4h0m-10 25h0m0 27h0m11.5 35h0m0 2h0m-11.5 6h0m0 4h0m4 86h0m1 1h0m17-231h0m24.5-49h0m-.5 19h0m1 49h0m-.5 10h0m-2.5 1h0m2 3h0m6.5 21h0m1.5 53h0m-12.5 1h0m0 41h0m11 17h0m1.5 10h0m-12.5 6h0m.5 5h0m-.5 25h0m0 3h0m0 5h0m40-228h0m0 53h0m0 103h0m.5 75h0m6-329h0m-1 25h0m.5 16h0m3 3h0m-2 8h0m2 285h0m12-214h0m-1.5 30h0m0 34h0m1.5 20h0"/>
<path d="M159 283h0m1 150h0m.5 46h0m-6 204h0m6 60h0m-.5 2h0m1-547h0m.5 11h0m0 177h0m8.5 81h0m2 14h0m-9.5 10h0m.5 13h0m9 21h0m-2 14h0m0 9h0m0 32h0m2 6h0m-2 15h0m0 0h0m2 44h0m7.5-62h0m0 14h0m.5 14h0m22-230h0m0 177h0m0 88h0m1 34h0m0 6h0m-1.5 4h0m2-330h0m1.5 30h0m.5 29h0m-1.5 14h0m0 5h0m1.5 58h0m-.5 198h0m39-144h0m0 8h0m0 30h0m0 18h0m0 15h0m0 6h0m0 23h0m0 21h0m0 35h0m16-186h0m25-241h0m.5 135h0m0 67h0m3-228h0m0 161h0m0 50h0m0 27h0m38.5 13h0m-1 10h0m-1 9h0m0 26h0m-2 17h0m4.5 30h0m-2.5 14h0m.5 19h0m2 7h0m-2.5 4h0m0 38h0m10.5-220h0m1 1h0m-1 22h0m0 6h0m0 21h0m1 13h0m0 10h0m31-70h0m-.5 6h0m-1.5 1h0m2 25h0m-2 15h0m1 6h0m1 7h0m-3 11h0m-1.5 4h0m0 100h0m4 62h0m10-360h0m0 5h0m0 90h0m0 11h0m0 28h0m.5 4h0m-.5 15h0m29-277h0m1.5 27h0m2 2h0m-3 51h0m1.5 60h0m-1 45h0m1 0h0m2 29h0m-6.5 39h0m-2.5 125h0m0 49h0m0 1h0m0 16h0m18-255h0m0 44h0m0 3h0m0 3h0m-1 8h0m0 3h0m0 27h0m-4.5 58h0m5.5 2h0m-5.5 1h0m4.5 21h0m1 1h0m-1 5h0m1 60h0m-5.5 39h0m0 16h0m0 3h0m36-509h0m-2.5 0h0m.5 38h0m-.5 32h0m3 69h0m-4 55h0m0 18h0m-.5 31h0m3.5 65h0m-4 0h0m2 2h0m1.5 21h0m0 6h0m-1.5 0h0m-2 3h0m8.5 15h0m0 28h0m-11.5 12h0m11.5 19h0m0 4h0m0 9h0m-11.5 7h0m11.5 73h0m-5.5 23h0m16-232h0m0 75h0m26-95h0m-2 50h0m6.5 14h0m0 23h0m0 2h0m-11 11h0m11 71h0m1.5 1h0m0 4h0m-1.5 11h0m0 6h0m1.5 34h0m-12.5 16h0m4.5 7h0m36-257h0m0 113h0m-.5 76h0m5-424h0m4.5 53h0m-4.5 69h0m1 65h0m2 5h0m-3.5 10h0m16.5 43h0m0 11h0m-1.5 39h0m0 29h0"/>
<path d="M159 191h0m1 143h0m0 166h0m-5.5 55h0m0 11h0m0 33h0m0 92h0m6 29h0m0 6h0m0 7h0m0 11h0m1-430h0m8.5 167h0m-7 23h0m-2 8h0m2.5 4h0m6.5 1h0m-9 2h0m11 15h0m0 121h0m7.5-122h0m0 36h0m0 37h0m23.5-205h0m0 43h0m0 239h0m3-256h0m-1 17h0m.5 57h0m.5 42h0m-.5 0h0m0 127h0m0 32h0m.5 9h0m-1 4h0m39-172h0m0 7h0m0 9h0m0 2h0m0 1h0m0 18h0m0 1h0m0 49h0m0 61h0m0 13h0m42-349h0m0 31h0m-.5 6h0m0 39h0m0 17h0m-2.5 79h0m5-237h0m38 7h0m-3 193h0m2.5 43h0m1.5 18h0m0 1h0m.5 16h0m-3 22h0m0 9h0m3 12h0m-1.5 5h0m1 10h0m.5 1h0m-.5 8h0m-1 14h0m-3 1h0m4 9h0m-2 14h0m2.5 7h0m-2 22h0m10-267h0m1 20h0m0 7h0m-1 7h0m1 40h0m-1 2h0m32-127h0m-4 47h0m2 41h0m1.5 25h0m-1 13h0m1 7h0m.5 20h0m-3 1h0m3 8h0m-.5 161h0m10.5-376h0m-.5 93h0m0 4h0m.5 17h0m-.5 16h0m0 22h0m31-286h0m-1.5 14h0m1.5 63h0m-1.5 13h0m2.5 9h0m-1.5 30h0m0 34h0m0 52h0m-2.5 7h0m4 5h0m-.5 18h0m-5 1h0m-2.5 33h0m0 12h0m0 60h0m0 78h0m0 5h0m0 64h0m8 27h0m-3.5 1h0m13.5-339h0m-1 11h0m1 58h0m-1 4h0m1 0h0m0 7h0m0 12h0m0 10h0m-5.5 10h0m5.5 1h0m0 22h0m-1 40h0m1 51h0m0 12h0m27-391h0m3 91h0m-2 63h0m2 43h0m-1 20h0m-1.5 67h0m1 4h0m.5 5h0m-6 46h0m0 45h0m11.5 28h0m-11.5 5h0m11.5 10h0m0 17h0m-11.5 1h0m11.5 14h0m-11.5 26h0m8 12h0m14-175h0m0 18h0m25-270h0m0 116h0m-1.5 1h0m-3.5 56h0m2.5 0h0m1.5 12h0m-4.5 4h0m3.5 5h0m-2 13h0m2.5 2h0m2.5 7h0m-6.5 26h0m0 14h0m11 11h0m0 8h0m1.5 3h0m-1.5 9h0m0 20h0m0 24h0m0 1h0m-11 1h0m12.5 8h0m-1.5 9h0m1.5 6h0m-1.5 2h0m0 26h0m0 0h0m0 3h0m-10.5 6h0m39.5-158h0m.5 143h0m4-327h0m2.5 0h0m-2 60h0m-3 306h0m7 0h0m-1 7h0m13-251h0m-1.5 2h0m1.5 47h0m0 13h0m-1.5 13h0m1.5 4h0m0 3h0m0 2h0"/>
<path d="M160.5 390h0m-.5 98h0m-5.5 53h0m0 106h0m0 12h0m0 4h0m9-332h0m-2.5 16h0m.5 56h0m0 55h0m0 9h0m1 1h0m7.5 0h0m0 12h0m2 9h0m-2 6h0m0 11h0m-9 1h0m2 4h0m7 4h0m0 36h0m0 18h0m0 9h0m0 29h0m0 10h0m2 31h0m7.5-113h0m0 107h0m23.5-223h0m-1 108h0m-.5 149h0m1.5 11h0m0 7h0m3-257h0m-2 6h0m2 228h0m-1 14h0m-1.5 16h0m2 5h0m0 2h0m38.5-125h0m0 2h0m0 87h0m0 18h0m0 10h0m41-479h0m1.5 10h0m-3.5 35h0m2 61h0m-.5 54h0m0 70h0m1.5 55h0m-1 204h0m2.5-392h0m1 70h0m0 99h0m-.5 16h0m0 7h0m.5 15h0m37.5-21h0m1.5 11h0m0 27h0m-2 2h0m-2.5 33h0m4 1h0m-4 37h0m4 2h0m-2.5 6h0m.5 6h0m-2 0h0m2 14h0m-2 0h0m2.5 2h0m0 3h0m0 21h0m2 22h0m-1.5 7h0m10.5-264h0m0 43h0m-1 5h0m0 18h0m1 0h0m-1 1h0m0 1h0m1 34h0m30.5-137h0m-1.5 58h0m0 31h0m1 1h0m0 13h0m-.5 3h0m.5 5h0m-1 13h0m2 8h0m-1.5 170h0m.5 1h0m10.5-353h0m0 10h0m.5 67h0m0 42h0m32-274h0m-3 47h0m5 5h0m-3.5 100h0m0 10h0m-1 10h0m1.5 15h0m.5 4h0m-3.5 7h0m4.5 7h0m2 11h0m-4.5 11h0m-.5 10h0m-1.5 10h0m0 4h0m-4.5 169h0m3 102h0m14-346h0m1 29h0m-1 26h0m1 14h0m-1 22h0m0 17h0m1 33h0m-1 10h0m0 16h0m1 12h0m0 11h0m0 108h0m23-483h0m4 34h0m-.5 10h0m3.5 76h0m-2.5 2h0m.5 113h0m-2.5 51h0m9 6h0m-4.5 4h0m-2 1h0m3 4h0m-3 1h0m.5 14h0m-.5 19h0m6.5 48h0m0 52h0m-11.5 4h0m0 6h0m0 29h0m0 19h0m4 36h0m18-229h0m0 32h0m6-117h0m18.5 20h0m2 24h0m-3.5 23h0m3 15h0m-2 3h0m0 15h0m-1 3h0m1 3h0m0 1h0m1.5 7h0m-1 1h0m2 8h0m4 5h0m0 11h0m0 34h0m1.5 8h0m-1.5 26h0m0 11h0m1.5 20h0m-1.5 15h0m0 16h0m0 20h0m-8 26h0m37.5-204h0m0 61h0m-.5 39h0m0 65h0m.5 7h0m.5 26h0m5-486h0m-.5 7h0m1.5 14h0m0 42h0m-2 24h0m2.5 75h0m-2.5 25h0m0 12h0m-2.5 31h0m8.5 17h0m-7 244h0m-.5 4h0m17.5-252h0m0 41h0m0 0h0m-1.5 8h0m0 56h0"/>
<path d="M159.5 241h0m1 19h0m-.5 44h0m.5 62h0m-.5 71h0m.5 29h0m-.5 11h0m-2.5 38h0m-3 54h0m0 2h0m0 17h0m0 5h0m0 1h0m6.5-353h0m.5 114h0m.5 125h0m-.5 1h0m-.5 0h0m1.5 33h0m-1 3h0m10.5 19h0m-2 6h0m0 4h0m-3.5 21h0m3.5 8h0m2 1h0m0 1h0m0 4h0m0 4h0m-2 5h0m2 5h0m0 17h0m-2 23h0m2 0h0m0 2h0m-2 7h0m2 6h0m7.5-176h0m0 169h0m22.5-228h0m1 121h0m0 150h0m1-256h0m1.5 85h0m0 40h0m.5 102h0m0 34h0m-1 4h0m1 19h0m38-209h0m0 73h0m0 7h0m0 37h0m0 1h0m0 11h0m0 18h0m0 21h0m40.5-396h0m1.5 102h0m-2 71h0m2 4h0m.5 9h0m-1.5 27h0m1.5 1h0m-2 10h0m1.5 12h0m0 197h0m.5 2h0m1-387h0m.5 83h0m.5 102h0m37.5-7h0m1 11h0m-2.5 3h0m.5 5h0m2.5 3h0m-3 10h0m3 18h0m-3 40h0m3 10h0m-2.5 6h0m1 20h0m-1 3h0m2 1h0m-4 1h0m2 18h0m.5 9h0m1.5 6h0m0 46h0m-1 1h0m-1 8h0m10.5-224h0m0 38h0m1 7h0m29-164h0m3.5 17h0m-2 29h0m-3 6h0m2 12h0m-3 12h0m2.5 50h0m-1.5 7h0m3 11h0m-1.5 4h0m1 12h0m-2 3h0m41.5-355h0m-2 18h0m5.5 15h0m-3.5 10h0m4.5 12h0m-2.5 5h0m.5 66h0m-1 24h0m2.5 12h0m-1.5 4h0m-7.5 4h0m4.5 20h0m1 34h0m-1 8h0m6 11h0m-6 1h0m-.5 8h0m4.5 5h0m-6 33h0m7.5 1h0m-10 11h0m0 194h0m0 24h0m18-319h0m0 65h0m-1 9h0m1 3h0m0 19h0m-1 25h0m1 44h0m-1 11h0m1 3h0m0 15h0m-1 9h0m0 3h0m1 3h0m0 42h0m0 30h0m-5.5 11h0m0 7h0m31.5-454h0m5 3h0m-1 19h0m-1.5 56h0m1.5 14h0m-.5 2h0m-1 74h0m-.5 0h0m-.5 2h0m2.5 21h0m-.5 20h0m1.5 9h0m3 20h0m.5 2h0m-.5 0h0m-6 20h0m1 5h0m-.5 2h0m0 2h0m-.5 5h0m5 0h0m-6.5 1h0m5.5 20h0m-9 37h0m0 29h0m0 25h0m11.5 39h0m-11.5 4h0m5.5 54h0m-.5 9h0m17-171h0m25.5-162h0m-2.5 58h0m-1 27h0m2 10h0m-3 6h0m3.5 3h0m-3.5 14h0m-1 23h0m10.5 7h0m0 21h0m-11 4h0m11 33h0m1.5 4h0m-1.5 13h0m0 9h0m0 11h0m0 7h0m-11 34h0m11 13h0m0 3h0m0 9h0m29-148h0m.5 4h0m-.5 0h0m0 34h0m0 86h0m7-487h0m-1 48h0m-2.5 52h0m7.5 33h0m-6.5 30h0m0 31h0m0 5h0m2 30h0m1 5h0m-.5 1h0m-1.5 3h0m-3 4h0m17 33h0m1.5 2h0m0 39h0m0 59h0"/>
<path d="M159 239h0m1 72h0m.5 173h0m-6 13h0m0 39h0m0 23h0m0 17h0m0 60h0m0 36h0m0 13h0m5.5 35h0m0 5h0m.5 1h0m0 2h0m-.5 8h0m.5 6h0m0 3h0m1-496h0m-.5 55h0m12 26h0m-11.5 11h0m0 0h0m1.5 27h0m-1 96h0m-.5 35h0m10.5 4h0m-10.5 3h0m10.5 24h0m-2 4h0m0 1h0m2 17h0m0 4h0m0 6h0m-2 10h0m0 24h0m0 8h0m2 18h0m0 20h0m-11 89h0m19-200h0m-.5 52h0m0 4h0m.5 1h0m0 50h0m23-177h0m0 18h0m0 39h0m-1.5 138h0m1.5 36h0m0 7h0m0 0h0m0 10h0m0 3h0m1-288h0m0 7h0m1.5 6h0m-1 4h0m.5 22h0m0 16h0m-1 204h0m1.5 20h0m0 0h0m38.5-146h0m0 6h0m0 26h0m0 23h0m0 70h0m42.5-489h0m.5 31h0m-.5 11h0m-.5 91h0m-1 128h0m2 32h0m0 24h0m-4 6h0m5-252h0m-.5 168h0m.5 6h0m0 81h0m36.5-28h0m1.5 12h0m-3 10h0m4 2h0m-1 10h0m-.5 7h0m-1 4h0m1 11h0m-2.5 6h0m0 5h0m0 10h0m4.5 0h0m-4.5 6h0m4.5 14h0m0 28h0m-3 2h0m2.5 5h0m-1 8h0m-3 1h0m2 24h0m1 5h0m-1.5 6h0m2.5 28h0m-2.5 21h0m11-278h0m0 27h0m1 25h0m0 7h0m-1 11h0m1 15h0m0 1h0m-1 11h0m31-115h0m1 21h0m-2 31h0m1 1h0m1 3h0m0 24h0m-.5 5h0m-.5 28h0m1 1h0m1.5 16h0m-6 4h0m45.5-292h0m-1 5h0m-1 26h0m1 23h0m-2 7h0m3 14h0m-.5 28h0m-3 28h0m-4 24h0m7 4h0m3 2h0m-2 3h0m-1.5 11h0m2 6h0m-8.5 9h0m0 129h0m2.5 133h0m14.5-375h0m1 129h0m-5.5 79h0m5.5 35h0m-1 7h0m1 18h0m-1 0h0m0 51h0m-4.5 13h0m33-480h0m.5 33h0m.5 4h0m-.5 21h0m1.5 21h0m-3.5 14h0m1.5 23h0m2 52h0m.5 37h0m-1 62h0m5.5 16h0m-3.5 9h0m-3 7h0m-1 24h0m2 0h0m-6 58h0m0 21h0m11.5 1h0m0 110h0m10.5-171h0m24-245h0m2.5 152h0m-2 7h0m0 10h0m-1.5 23h0m2 21h0m-2 11h0m7.5 57h0m-11 1h0m11 6h0m-11 49h0m0 2h0m12.5 8h0m-1.5 2h0m0 1h0m0 19h0m0 7h0m-11 2h0m11 4h0m0 21h0m13.5-341h0m16 97h0m.5 34h0m-1 79h0m0 102h0m.5 54h0m5-507h0m-.5 127h0m3 32h0m-2.5 38h0m2 5h0m-3 4h0m-1 11h0m17.5 68h0m-1.5 14h0m0 11h0m1.5 7h0m0 58h0"/>
<path d="M159 195h0m1 105h0m-1 125h0m1.5 13h0m-1 39h0m1 11h0m-1.5 10h0m-4.5 56h0m0 66h0m0 9h0m0 76h0m6 15h0m0 10h0m0 12h0m1-399h0m-.5 22h0m3 8h0m0 15h0m-2.5 70h0m10.5 20h0m-10 9h0m4.5 17h0m3.5 1h0m2 72h0m0 15h0m-2 5h0m0 11h0m-9 116h0m19-231h0m0 81h0m0 25h0m0 12h0m0 25h0m0 3h0m23-90h0m0 126h0m2.5-303h0m-2 4h0m0 60h0m0 2h0m.5 5h0m2 23h0m-1 91h0m1 113h0m-2.5 9h0m1.5 31h0m39-204h0m0 12h0m0 44h0m0 1h0m0 6h0m0 5h0m0 15h0m0 25h0m0 31h0m0 39h0m42-430h0m-3 54h0m1.5 91h0m1.5 13h0m0 31h0m-1 6h0m1 32h0m-3 8h0m2.5 4h0m.5 26h0m-.5 3h0m1.5 189h0m0 4h0m.5-329h0m39.5 111h0m0 4h0m-4 6h0m3 26h0m-3 5h0m4.5 12h0m-.5 33h0m-4 0h0m4 1h0m-4 12h0m4.5 3h0m-3 2h0m0 2h0m0 3h0m3 2h0m-3 7h0m.5 0h0m-2 13h0m0 0h0m0 78h0m0 4h0m1.5 12h0m11-244h0m0 19h0m1 22h0m29-104h0m1.5 1h0m.5 33h0m-2 6h0m1.5 0h0m-1.5 8h0m0 5h0m0 38h0m0 34h0m-1.5 5h0m13.5-101h0m34-198h0m-4 25h0m.5 52h0m1.5 11h0m-1 21h0m-.5 9h0m-.5 41h0m0 13h0m-1.5 12h0m-1 4h0m2.5 1h0m4 0h0m-.5 27h0m-10 102h0m0 74h0m9.5 84h0m8.5-399h0m-1 6h0m1 42h0m0 47h0m-5.5 8h0m4.5 59h0m1 27h0m-1 8h0m0 35h0m-4.5 20h0m5.5 33h0m0 42h0m33-408h0m-2 69h0m-1.5 16h0m.5 47h0m.5 2h0m.5 56h0m-2.5 4h0m-.5 5h0m.5 2h0m0 16h0m-.5 22h0m-5 24h0m5.5 21h0m6 57h0m0 5h0m-11.5 9h0m11.5 47h0m0 5h0m10.5-108h0m24-39h0m1 6h0m-2 0h0m.5 4h0m-4 12h0m.5 25h0m-.5 8h0m11 4h0m-11 18h0m11 17h0m0 4h0m0 18h0m1.5 40h0m0 2h0m0 1h0m0 9h0m-1.5 4h0m0 15h0m0 0h0m1.5 5h0m-1.5 6h0m29-234h0m0 24h0m.5 56h0m-.5 3h0m0 59h0m5.5-260h0m0 42h0m1 2h0m-1 5h0m-.5 5h0m.5 22h0m5.5 4h0m-8 285h0m4 7h0m12.5-260h0m1.5 31h0m-1.5 12h0m1.5 69h0m-1.5 12h0"/>
<path d="M160 248h0m-1 16h0m0 88h0m1.5 20h0m-1.5 72h0m1 38h0m-1.5 12h0m0 0h0m2 16h0m0 225h0m-.5 5h0m3-520h0m-2 114h0m.5 74h0m-.5 10h0m0 14h0m.5 38h0m-.5 1h0m2 15h0m0 19h0m-2 12h0m2.5 7h0m8.5 13h0m-2 2h0m2 5h0m-2 4h0m2 46h0m-2 38h0m2 1h0m-11 98h0m18.5-217h0m0 61h0m0 23h0m.5 7h0m-.5 35h0m.5 1h0m23-421h0m0 54h0m-1 133h0m1 25h0m-1.5 47h0m1.5 57h0m0 138h0m0 8h0m0 17h0m1-382h0m1 94h0m.5 1h0m-1.5 25h0m1.5 26h0m0 14h0m.5 181h0m0 42h0m-2 4h0m40-118h0m0 30h0m0 36h0m0 11h0m0 10h0m0 4h0m0 4h0m0 1h0m0 22h0m42-454h0m-.5 80h0m1 14h0m0 14h0m-.5 66h0m-3 82h0m3.5 7h0m-.5 6h0m1 0h0m-2 196h0m3-276h0m.5 87h0m39-30h0m-2 7h0m2 28h0m-2.5 17h0m-.5 2h0m0 37h0m3 5h0m0 3h0m-4.5 1h0m0 6h0m4.5 5h0m0 2h0m-1.5 15h0m-1.5 5h0m1 3h0m.5 1h0m1 4h0m-1 22h0m1 3h0m-1.5 1h0m2 2h0m-2 25h0m-2.5 5h0m0 0h0m12.5-232h0m1 20h0m-1 6h0m0 8h0m1 27h0m28.5-266h0m2 49h0m-3.5 124h0m3 2h0m-2 62h0m-1.5 11h0m4.5 3h0m-1.5 13h0m-.5 3h0m1 3h0m1 4h0m-2 5h0m2 1h0m-2 5h0m-2.5 94h0m14.5-166h0m30.5-269h0m-2 6h0m2.5 42h0m.5 4h0m-5.5 1h0m5 10h0m-.5 4h0m-1.5 76h0m3.5 18h0m-2 9h0m1 2h0m-1.5 24h0m-4 10h0m2.5 17h0m.5 6h0m5 46h0m-10.5 74h0m0 126h0m0 6h0m3.5 38h0m3.5 18h0m11-363h0m0 3h0m-1 37h0m0 1h0m1 46h0m-1 8h0m1 35h0m0 1h0m-5.5 50h0m0 20h0m4.5 20h0m1 7h0m0 23h0m-5.5 14h0m0 1h0m5.5 4h0m-5.5 2h0m0 40h0m38-403h0m-6.5 2h0m6.5 31h0m-3 24h0m-4 46h0m7 50h0m-4 5h0m-.5 5h0m2 9h0m-2.5 25h0m4.5 39h0m-9 109h0m11.5 42h0m-11.5 1h0m11.5 13h0m-1.5 13h0m-3.5 19h0m15.5-187h0m24-128h0m-1 55h0m.5 6h0m.5 47h0m2.5 4h0m-2.5 4h0m-4 9h0m-.5 10h0m11 12h0m0 13h0m0 7h0m1.5 15h0m-1.5 6h0m0 13h0m0 3h0m0 2h0m-11 15h0m11 16h0m0 4h0m-11 18h0m11 3h0m0 14h0m-10.5 15h0m0 0h0m0 5h0m40.5-261h0m0 24h0m-.5 13h0m-.5 58h0m0 68h0m0 9h0m.5 75h0m-.5 2h0m.5 13h0m-.5 1h0m4-424h0m3.5 7h0m-2.5 17h0m2.5 52h0m-.5 5h0m-4.5 19h0m1 6h0m5.5 31h0m-1.5 14h0m3 40h0m0 231h0m-3 16h0m12-252h0m1.5 23h0m0 20h0m0 17h0m0 6h0m-1.5 29h0"/>
</g></g>
<path d="M226 750.0V138.0M266 750.0V138.0M306 750.0V138.0M345 750.0V138.0M385 750.0V138.0M425 750.0V138.0M464 750.0V138.0M504 750.0V138.0M544 750.0V138.0M583 750.0V138.0M623 750.0V138.0M663 750.0V138.0M702 750.0V138.0M742 750.0V138.0M782 750.0V138.0M821 750.0V138.0M861 750.0V138.0M901 750.0V138.0M940 750.0V138.0M980 750.0V138.0M1020 750.0V138.0M1059 750.0V138.0M1099 750.0V138.0M1139 750.0V138.0M1178 750.0V138.0M1218 750.0V138.0" stroke="#90a7ea" stroke-width="2.08" stroke-dasharray="2.08 3.44" fill="none"/>
<path d="M156.3 373.6L1241.0 309.8" stroke="#d46c26" stroke-width="2.78" stroke-dasharray="10.28 4.44" fill="none" clip-path="url(#pc)"/>
<path d="M156.3 481.0L1241.0 344.0" stroke="#dc4a4e" stroke-width="2.78" stroke-dasharray="10.28 4.44" fill="none" clip-path="url(#pc)"/>
<path d="M156.3 618.0L1241.0 469.0" stroke="#3d80b8" stroke-width="2.78" stroke-dasharray="10.28 4.44" fill="none" clip-path="url(#pc)"/>
<path d="M156.3 373.5H1241.0" stroke="#1e1e22" stroke-width="3" fill="none" opacity="0.92"/>
<rect x="196.24" y="629.3" width="20.2" height="26" rx="1.6" fill="#fff" fill-opacity="0.92" stroke="#9c9c9c" stroke-width="1.3"/>
<text x="206.34" y="647.4" font-size="13.89" fill="#4169e1" text-anchor="middle">1</text>
<rect x="235.92" y="629.3" width="20.2" height="26" rx="1.6" fill="#fff" fill-opacity="0.92" stroke="#9c9c9c" stroke-width="1.3"/>
<text x="246.02" y="647.4" font-size="13.89" fill="#4169e1" text-anchor="middle">2</text>
<rect x="275.60" y="629.3" width="20.2" height="26" rx="1.6" fill="#fff" fill-opacity="0.92" stroke="#9c9c9c" stroke-width="1.3"/>
<text x="285.70" y="647.4" font-size="13.89" fill="#4169e1" text-anchor="middle">3</text>
<rect x="315.28" y="629.3" width="20.2" height="26" rx="1.6" fill="#fff" fill-opacity="0.92" stroke="#9c9c9c" stroke-width="1.3"/>
<text x="325.38" y="647.4" font-size="13.89" fill="#4169e1" text-anchor="middle">4</text>
<rect x="354.96" y="629.3" width="20.2" height="26" rx="1.6" fill="#fff" fill-opacity="0.92" stroke="#9c9c9c" stroke-width="1.3"/>
<text x="365.06" y="647.4" font-size="13.89" fill="#4169e1" text-anchor="middle">5</text>
<rect x="394.64" y="629.3" width="20.2" height="26" rx="1.6" fill="#fff" fill-opacity="0.92" stroke="#9c9c9c" stroke-width="1.3"/>
<text x="404.74" y="647.4" font-size="13.89" fill="#4169e1" text-anchor="middle">6</text>
<rect x="434.32" y="629.3" width="20.2" height="26" rx="1.6" fill="#fff" fill-opacity="0.92" stroke="#9c9c9c" stroke-width="1.3"/>
<text x="444.42" y="647.4" font-size="13.89" fill="#4169e1" text-anchor="middle">7</text>
<rect x="474.00" y="629.3" width="20.2" height="26" rx="1.6" fill="#fff" fill-opacity="0.92" stroke="#9c9c9c" stroke-width="1.3"/>
<text x="484.10" y="647.4" font-size="13.89" fill="#4169e1" text-anchor="middle">8</text>
<rect x="513.68" y="629.3" width="20.2" height="26" rx="1.6" fill="#fff" fill-opacity="0.92" stroke="#9c9c9c" stroke-width="1.3"/>
<text x="523.78" y="647.4" font-size="13.89" fill="#4169e1" text-anchor="middle">9</text>
<rect x="549.51" y="629.3" width="27.9" height="26" rx="1.6" fill="#fff" fill-opacity="0.92" stroke="#9c9c9c" stroke-width="1.3"/>
<text x="563.46" y="647.4" font-size="13.89" fill="#4169e1" text-anchor="middle">10</text>
<rect x="589.19" y="629.3" width="27.9" height="26" rx="1.6" fill="#fff" fill-opacity="0.92" stroke="#9c9c9c" stroke-width="1.3"/>
<text x="603.14" y="647.4" font-size="13.89" fill="#4169e1" text-anchor="middle">11</text>
<rect x="628.87" y="629.3" width="27.9" height="26" rx="1.6" fill="#fff" fill-opacity="0.92" stroke="#9c9c9c" stroke-width="1.3"/>
<text x="642.82" y="647.4" font-size="13.89" fill="#4169e1" text-anchor="middle">12</text>
<rect x="668.55" y="629.3" width="27.9" height="26" rx="1.6" fill="#fff" fill-opacity="0.92" stroke="#9c9c9c" stroke-width="1.3"/>
<text x="682.50" y="647.4" font-size="13.89" fill="#4169e1" text-anchor="middle">13</text>
<rect x="708.23" y="629.3" width="27.9" height="26" rx="1.6" fill="#fff" fill-opacity="0.92" stroke="#9c9c9c" stroke-width="1.3"/>
<text x="722.18" y="647.4" font-size="13.89" fill="#4169e1" text-anchor="middle">14</text>
<rect x="747.91" y="629.3" width="27.9" height="26" rx="1.6" fill="#fff" fill-opacity="0.92" stroke="#9c9c9c" stroke-width="1.3"/>
<text x="761.86" y="647.4" font-size="13.89" fill="#4169e1" text-anchor="middle">15</text>
<rect x="787.59" y="629.3" width="27.9" height="26" rx="1.6" fill="#fff" fill-opacity="0.92" stroke="#9c9c9c" stroke-width="1.3"/>
<text x="801.54" y="647.4" font-size="13.89" fill="#4169e1" text-anchor="middle">16</text>
<rect x="827.27" y="629.3" width="27.9" height="26" rx="1.6" fill="#fff" fill-opacity="0.92" stroke="#9c9c9c" stroke-width="1.3"/>
<text x="841.22" y="647.4" font-size="13.89" fill="#4169e1" text-anchor="middle">17</text>
<rect x="866.95" y="629.3" width="27.9" height="26" rx="1.6" fill="#fff" fill-opacity="0.92" stroke="#9c9c9c" stroke-width="1.3"/>
<text x="880.90" y="647.4" font-size="13.89" fill="#4169e1" text-anchor="middle">18</text>
<rect x="906.63" y="629.3" width="27.9" height="26" rx="1.6" fill="#fff" fill-opacity="0.92" stroke="#9c9c9c" stroke-width="1.3"/>
<text x="920.58" y="647.4" font-size="13.89" fill="#4169e1" text-anchor="middle">19</text>
<rect x="946.31" y="629.3" width="27.9" height="26" rx="1.6" fill="#fff" fill-opacity="0.92" stroke="#9c9c9c" stroke-width="1.3"/>
<text x="960.26" y="647.4" font-size="13.89" fill="#4169e1" text-anchor="middle">20</text>
<rect x="985.99" y="629.3" width="27.9" height="26" rx="1.6" fill="#fff" fill-opacity="0.92" stroke="#9c9c9c" stroke-width="1.3"/>
<text x="999.94" y="647.4" font-size="13.89" fill="#4169e1" text-anchor="middle">21</text>
<rect x="1025.67" y="629.3" width="27.9" height="26" rx="1.6" fill="#fff" fill-opacity="0.92" stroke="#9c9c9c" stroke-width="1.3"/>
<text x="1039.62" y="647.4" font-size="13.89" fill="#4169e1" text-anchor="middle">22</text>
<rect x="1065.35" y="629.3" width="27.9" height="26" rx="1.6" fill="#fff" fill-opacity="0.92" stroke="#9c9c9c" stroke-width="1.3"/>
<text x="1079.30" y="647.4" font-size="13.89" fill="#4169e1" text-anchor="middle">23</text>
<rect x="1105.03" y="629.3" width="27.9" height="26" rx="1.6" fill="#fff" fill-opacity="0.92" stroke="#9c9c9c" stroke-width="1.3"/>
<text x="1118.98" y="647.4" font-size="13.89" fill="#4169e1" text-anchor="middle">24</text>
<rect x="1144.71" y="629.3" width="27.9" height="26" rx="1.6" fill="#fff" fill-opacity="0.92" stroke="#9c9c9c" stroke-width="1.3"/>
<text x="1158.66" y="647.4" font-size="13.89" fill="#4169e1" text-anchor="middle">25</text>
<rect x="1184.39" y="629.3" width="27.9" height="26" rx="1.6" fill="#fff" fill-opacity="0.92" stroke="#9c9c9c" stroke-width="1.3"/>
<text x="1198.34" y="647.4" font-size="13.89" fill="#4169e1" text-anchor="middle">26</text>
<text x="146.2" y="754.9" font-size="13.89" fill="#262626" text-anchor="end">0</text>
<text x="146.2" y="660.7" font-size="13.89" fill="#262626" text-anchor="end">1000</text>
<text x="146.2" y="566.6" font-size="13.89" fill="#262626" text-anchor="end">2000</text>
<text x="146.2" y="472.4" font-size="13.89" fill="#262626" text-anchor="end">3000</text>
<text x="146.2" y="378.3" font-size="13.89" fill="#262626" text-anchor="end">4000</text>
<text x="146.2" y="284.1" font-size="13.89" fill="#262626" text-anchor="end">5000</text>
<text x="146.2" y="190.0" font-size="13.89" fill="#262626" text-anchor="end">6000</text>
<text x="156.3" y="771" font-size="13.89" fill="#262626" text-anchor="middle">0.0</text>
<text x="311.3" y="771" font-size="13.89" fill="#262626" text-anchor="middle">0.5</text>
<text x="466.2" y="771" font-size="13.89" fill="#262626" text-anchor="middle">1.0</text>
<text x="621.2" y="771" font-size="13.89" fill="#262626" text-anchor="middle">1.5</text>
<text x="776.1" y="771" font-size="13.89" fill="#262626" text-anchor="middle">2.0</text>
<text x="931.1" y="771" font-size="13.89" fill="#262626" text-anchor="middle">2.5</text>
<text x="1086.0" y="771" font-size="13.89" fill="#262626" text-anchor="middle">3.0</text>
<text x="1241.0" y="771" font-size="13.89" fill="#262626" text-anchor="middle">3.5</text>
<text x="698.6" y="791" font-size="16.67" font-weight="bold" fill="#262626" text-anchor="middle">Block + Blob Actual Size Compressed (MB)</text>
<text transform="translate(106 445.4) rotate(-90)" font-size="16.67" font-weight="bold" fill="#262626" text-anchor="middle">Block Arrival Time (milliseconds)</text>
<rect x="172.8" y="144.6" width="172" height="43.6" rx="0.6" fill="#fff" fill-opacity="0.88" stroke="#cfcfcf" stroke-width="1"/>
<text x="178.8" y="162.6" font-size="16.55" fill="#000">Total Blocks: 578</text>
<text x="178.8" y="179.6" font-size="16.55" fill="#000">Arrival events: 37,694</text>
<rect x="1017.2" y="143.8" width="213.6" height="130" rx="3.5" fill="#fff" fill-opacity="0.985" stroke="#d8d8d8" stroke-width="1"/>
<text x="1060.9" y="161.3" font-size="13.89" fill="#262626">Individual blocks</text>
<text x="1060.9" y="182.2" font-size="13.89" fill="#262626">p99 trend</text>
<text x="1060.9" y="203.1" font-size="13.89" fill="#262626">p95 trend</text>
<text x="1060.9" y="224.1" font-size="13.89" fill="#262626">p50 trend</text>
<text x="1060.9" y="245.0" font-size="13.89" fill="#262626">Attestation deadline (4s)</text>
<text x="1060.9" y="265.9" font-size="13.89" fill="#262626">Maximum number of blobs</text>
<circle cx="1036.6" cy="156.70000000000002" r="3.6" fill="#444" fill-opacity="0.07"/>
<path d="M1022.4 177.3H1050.2" stroke="#d46c26" stroke-width="2.78" stroke-dasharray="10.28 4.44"/>
<path d="M1022.4 198.2H1050.2" stroke="#dc4a4e" stroke-width="2.78" stroke-dasharray="10.28 4.44"/>
<path d="M1022.4 219.2H1050.2" stroke="#3d80b8" stroke-width="2.78" stroke-dasharray="10.28 4.44"/>
<path d="M1021.4 240.1H1051.5" stroke="#333" stroke-width="2.78"/>
<path d="M1021.4 261.0H1051.5" stroke="#a9bbf0" stroke-width="2.4"/>
<rect x="2.9" y="315.4" width="142.8" height="43.9" rx="6.5" fill="#fff" fill-opacity="0.9" stroke="#e9a67c" stroke-width="1.1"/>
<text x="10.7" y="333.7" font-size="13.89" fill="#d35400">p99 trend crosses 4s</text>
<text x="10.7" y="349.5" font-size="13.89" fill="#d35400">at 0.03 MB (0 blobs)</text>
<path d="M145.9 357.2L151.4 360.9L153.9 357.7L163.1 371.6L147.2 366.4L149.2 363.7L144.9 359.4Z" fill="#d35400" stroke="#8a3700" stroke-width="0.5" stroke-linejoin="round"/>
<rect x="846.4" y="386.2" width="147.2" height="44.1" rx="6.5" fill="#fff" fill-opacity="0.9" stroke="#ea9a9a" stroke-width="1.1"/>
<text x="854.3" y="403.7" font-size="13.89" fill="#dc2f2c">p95 trend crosses 4s</text>
<text x="854.3" y="420.6" font-size="13.89" fill="#dc2f2c">at 2.75 MB (20 blobs)</text>
<path d="M1006.8 374.7L991.2 381.4L993.9 384.2L992.2 386.1L993.7 387.9L995.9 386.4L998.4 389.6Z" fill="#e3302a" stroke="#8a1a16" stroke-width="0.5" stroke-linejoin="round"/>
<text x="699.6" y="29.6" font-size="22.22" font-weight="bold" fill="#000" text-anchor="middle">Predicted Maximum Blob Count</text>
<text x="699.6" y="48.7" font-size="22.22" font-weight="bold" fill="#e74c3c" text-anchor="middle">Locally built blocks</text>
<text x="698.6" y="67.1" font-size="22.22" fill="#000" text-anchor="end" xml:space="preserve">Blocks created by </text>
<text x="698.6" y="67.1" font-size="22.22" font-weight="bold" fill="#e67e22">solo_stakers</text>
<text x="698.9" y="85.9" font-size="22.22" fill="#000" text-anchor="end" xml:space="preserve">Blocks seen by </text>
<text x="698.9" y="85.9" font-size="22.22" font-weight="bold" fill="#d35400">home users</text>
<text x="233.1" y="124" font-size="13.89" font-weight="bold" fill="#262626" text-anchor="middle">ethpandaops.io</text>
<text x="1171.5" y="124" font-size="13.89" font-weight="bold" fill="#262626" text-anchor="middle">Data from Xatu</text>
<defs>
<radialGradient id="pf" cx="0.5" cy="0.42" r="0.62"><stop offset="0" stop-color="#fff"/><stop offset="0.55" stop-color="#fff"/><stop offset="0.8" stop-color="#7fc0ff"/><stop offset="1" stop-color="#2f7fe0"/></radialGradient>
<linearGradient id="pe" x1="0" y1="0" x2="1" y2="1"><stop offset="0" stop-color="#14206a"/><stop offset="1" stop-color="#07062c"/></linearGradient>
<filter id="pb" x="-10%" y="-10%" width="120%" height="120%"><feGaussianBlur stdDeviation="0.45"/></filter>
<linearGradient id="pl" x1="0" y1="0" x2="1" y2="0"><stop offset="0" stop-color="#3a84ea"/><stop offset="0.4" stop-color="#72b4f8"/><stop offset="1" stop-color="#eaf5ff"/></linearGradient>
<linearGradient id="pr" x1="1" y1="0" x2="0" y2="0"><stop offset="0" stop-color="#3a84ea"/><stop offset="0.4" stop-color="#72b4f8"/><stop offset="1" stop-color="#eaf5ff"/></linearGradient>
</defs>
<g id="panda" filter="url(#pb)">
<path d="M203.5 58 L202.8 66 L205.5 71.5 L233.1 95.4 L260.7 71.5 L263.4 66 L262.7 58 Z" fill="#0b0a38" stroke="#c01fa8" stroke-width="1.0" stroke-linejoin="round"/>
<circle cx="211.8" cy="32.2" r="9.3" fill="#b01fa0"/>
<circle cx="211.8" cy="32.2" r="8.7" fill="#0b0a38"/>
<circle cx="211.8" cy="32.4" r="5.4" fill="url(#pe)"/>
<circle cx="254.4" cy="32.2" r="9.3" fill="#b01fa0"/>
<circle cx="254.4" cy="32.2" r="8.7" fill="#0b0a38"/>
<circle cx="254.4" cy="32.4" r="5.4" fill="url(#pe)"/>
<path d="M205.6 33.5 A6.6 6.6 0 0 1 217.6 28.8" stroke="#3fd08a" stroke-width="0.7" fill="none"/>
<path d="M260.6 33.5 A6.6 6.6 0 0 0 248.6 28.8" stroke="#3fd08a" stroke-width="0.7" fill="none"/>
<path d="M205.4 34 A6.6 6.6 0 0 0 207.6 38.6" stroke="#e0c040" stroke-width="0.6" fill="none"/>
<path d="M260.8 34 A6.6 6.6 0 0 1 258.6 38.6" stroke="#e0c040" stroke-width="0.6" fill="none"/>
<path d="M233.1 25.2 C238 25.2 242 26.6 245.8 28.6 C248.5 30.5 250.5 33 252.2 36 C254 38.5 256 40.5 257.9 42.3 C259.8 44 261 46 261.7 48 C262.6 50 263 51.5 263 53 C263.3 56 263.1 58.5 262.5 61 C260.5 68.5 254 73.5 246 76 C241 77.5 237 78.2 233.1 78.2 C229.2 78.2 225.2 77.5 220.2 76 C212.2 73.5 205.7 68.5 203.7 61 C203.1 58.5 202.9 56 203.2 53 C203.2 51.5 203.6 50 204.5 48 C205.2 46 206.4 44 208.3 42.3 C210.2 40.5 212.2 38.5 214 36 C215.7 33 217.7 30.5 220.4 28.6 C224.2 26.6 228.2 25.2 233.1 25.2Z" fill="#fff" stroke="#0b0a38" stroke-width="1.6"/>
<clipPath id="hc"><path d="M233.1 25.2 C238 25.2 242 26.6 245.8 28.6 C248.5 30.5 250.5 33 252.2 36 C254 38.5 256 40.5 257.9 42.3 C259.8 44 261 46 261.7 48 C262.6 50 263 51.5 263 53 C263.3 56 263.1 58.5 262.5 61 C260.5 68.5 254 73.5 246 76 C241 77.5 237 78.2 233.1 78.2 C229.2 78.2 225.2 77.5 220.2 76 C212.2 73.5 205.7 68.5 203.7 61 C203.1 58.5 202.9 56 203.2 53 C203.2 51.5 203.6 50 204.5 48 C205.2 46 206.4 44 208.3 42.3 C210.2 40.5 212.2 38.5 214 36 C215.7 33 217.7 30.5 220.4 28.6 C224.2 26.6 228.2 25.2 233.1 25.2Z"/></clipPath>
<g clip-path="url(#hc)">
<path d="M200 40 L221 28 C215 34 212.5 40 212 46 C211.5 52 212 58 215 64 C218 69.5 223 73.5 229 75.5 L218 80 L200 70Z" fill="url(#pl)"/>
<path d="M266.2 40 L245.2 28 C251.2 34 253.7 40 254.2 46 C254.7 52 254.2 58 251.2 64 C248.2 69.5 243.2 73.5 237.2 75.5 L248.2 80 L266.2 70Z" fill="url(#pr)"/>
<path d="M206 47 L220 35.5 M205 53 L216 43 M207 41.5 L222 31 M209 60 L214 52 M260.2 47 L246.2 35.5 M261.2 53 L250.2 43 M259.2 41.5 L244.2 31 M257.2 60 L252.2 52" stroke="#d8efff" stroke-width="1.3" fill="none"/>
<path d="M203 58 L206 66 L210 70 L204 70Z M263.2 58 L260.2 66 L256.2 70 L262.2 70Z" fill="#1c4fc0"/>
</g>
<path d="M212 62 C218 66 224 66 228 63.5 L233.1 66 L238.2 63.5 C242.2 66 248.2 66 254.2 62 C253 69 246 75.5 233.1 76.6 C220.2 75.5 213.2 69 212 62Z" fill="#4189e8"/>
<path d="M210 57 C214 61 220 63.5 226.5 62.5 C222 66.5 214 66 210 57Z M256.2 57 C252.2 61 246.2 63.5 239.7 62.5 C244.2 66.5 252.2 66 256.2 57Z" fill="#2c6fd6"/>
<path d="M214.5 54.6 C214.6 51 217.6 46.8 221.4 44 C223.6 42.4 225.6 41.4 227 41.8 C228.8 42.4 229.2 44.6 228.8 47.4 C228.3 51 226.2 54.6 222.8 57.2 C220.6 58.8 218.4 59.6 216.8 58.8 C215.2 58 214.5 56.6 214.5 54.6Z" fill="#06052a" stroke="#3fa0ff" stroke-width="0.7"/>
<path d="M251.7 54.6 C251.6 51 248.6 46.8 244.8 44 C242.6 42.4 240.6 41.4 239.2 41.8 C237.4 42.4 237 44.6 237.4 47.4 C237.9 51 240 54.6 243.4 57.2 C245.6 58.8 247.8 59.6 249.4 58.8 C251 58 251.7 56.6 251.7 54.6Z" fill="#06052a" stroke="#3fa0ff" stroke-width="0.7"/>
<circle cx="224.4" cy="50.6" r="1.7" fill="#8fd6ff"/><circle cx="241.8" cy="50.6" r="1.7" fill="#8fd6ff"/>
<circle cx="224.5" cy="50.7" r="0.7" fill="#1a3fa0"/><circle cx="241.7" cy="50.7" r="0.7" fill="#1a3fa0"/>
<path d="M222.6 52.2 Q224.4 53.4 226.2 52.2 M240 52.2 Q241.8 53.4 243.6 52.2" stroke="#c030b0" stroke-width="0.6" fill="none"/>
<path d="M233.1 53 C238 53 242.4 58 243 63 C241 65.6 237.4 66.4 233.1 66.4 C228.8 66.4 225.2 65.6 223.2 63 C223.8 58 228.2 53 233.1 53Z" fill="#fff"/>
<path d="M227.8 61.4 C227.8 59.8 230 59 233.1 59 C236.2 59 238.4 59.8 238.4 61.4 C238.4 63.2 236 64.8 233.1 64.8 C230.2 64.8 227.8 63.2 227.8 61.4Z" fill="#12062e"/>
<path d="M229.4 59.4 Q233.1 58.2 236.8 59.4" stroke="#c94fc0" stroke-width="0.6" fill="none"/>
<path d="M233.1 65 L233.1 68 M220.2 64 C223.5 68.6 229.5 69.4 233.1 67.6 C236.7 69.4 242.7 68.6 246 64" stroke="#10062e" stroke-width="1" fill="none" stroke-linecap="round"/>
<path d="M222.5 67.6 C226 70 230 70.2 233.1 69 C236.2 70.2 240.2 70 243.7 67.6" stroke="#b030a8" stroke-width="0.5" fill="none"/>
<ellipse cx="233.1" cy="72" rx="6" ry="1.9" fill="#fff"/>
<path d="M224 74.6 C229 77.6 237.2 77.6 242.2 74.6" stroke="#b030a8" stroke-width="0.7" fill="none"/>
<path d="M203.4 57 L206 68 L207.8 62.5 L210.6 71.5 L212.6 66 L215.8 74.5 L217.8 69.5 L221.4 76.6 L223.4 72.6 L227.4 78.4 L229.6 75.6 L233.1 78.8 L236.6 75.6 L238.8 78.4 L242.8 72.6 L244.8 76.6 L248.4 69.5 L250.4 74.5 L253.6 66 L255.6 71.5 L258.4 62.5 L260.2 68 L262.8 57 L262 70 L252 78 L241 81.6 L233.1 82.6 L225.2 81.6 L214.2 78 L204.2 70Z" fill="#0b0a38"/>
<path d="M203.6 47 L201.4 50.5 L203.4 51 L201 55.5 L203.2 56 L201.4 61 L203.6 61.5 L202.6 66.5 L205.2 66 M262.6 47 L264.8 50.5 L262.8 51 L265.2 55.5 L263 56 L264.8 61 L262.6 61.5 L263.6 66.5 L261 66" fill="none" stroke="#0b0a38" stroke-width="1.1" stroke-linejoin="round"/>
<path d="M213.6 72.4 L219.8 80.2 M252.6 72.4 L246.4 80.2" stroke="#2fe090" stroke-width="0.9" fill="none" stroke-linecap="round"/>
<path d="M217.6 71.6 L222.6 78 M248.6 71.6 L243.6 78" stroke="#30c8f0" stroke-width="0.8" fill="none" stroke-linecap="round"/>
<path d="M221.4 75.6 L224.2 79.4 M244.8 75.6 L242 79.4" stroke="#30c8f0" stroke-width="0.8" fill="none" stroke-linecap="round"/>
<path d="M224.4 77.6 L227 81.4 M241.8 77.6 L239.2 81.4" stroke="#80e060" stroke-width="0.6" fill="none" stroke-linecap="round"/>
<path d="M207.6 64 L208.4 69 M258.6 64 L257.8 69" stroke="#30d8e8" stroke-width="0.9" fill="none"/>
<path d="M233.1 78.2 L228 86.7 L233.1 89.4Z" fill="#5fe070"/>
<path d="M233.1 78.2 L238.4 86.7 L233.1 84.6Z" fill="#38c8f0"/>
<path d="M233.1 84.6 L238.4 86.7 L233.1 89.4Z" fill="#2040e0"/>
<path d="M228.4 88.4 L233.1 91.2 L233.1 95.4Z" fill="#b8ec48"/>
<path d="M238 88.4 L233.1 91.2 L233.1 95.4Z" fill="#3f7ff0"/>
</g>
<g id="xatu">
<g>
<path d="M1102.3 11.3 C1108 15.5 1114 17.2 1120.4 18.6 C1128 20.2 1140 22 1150.8 24.7 C1155 25.8 1158 28.5 1160.2 31.2 C1163 34.6 1167.5 36.4 1172 36.4 L1172 75.1 L1159.3 61.9 C1157.3 59.8 1156.4 57.5 1156.4 55.4 C1156.4 52 1156.6 49.5 1157.6 47 C1158.4 45.2 1158.6 44.2 1157 42.6 C1153.5 39.8 1150 37.5 1146.6 35.6 C1140 32 1133 29.2 1120.4 24.2 C1113 22 1108.5 21 1105.8 19.6 C1104.6 17 1103.6 14 1102.3 11.3Z" fill="#13232d"/>
<path d="M1108 23.4 C1112 25 1116 26 1120.4 27.2 C1124 28.2 1127 29 1130.5 30.1 C1134 31.4 1136 32.4 1138.1 33.6 C1141 35.2 1144 37 1146.6 38.7 C1150 41 1152.8 43 1154.3 44.8 C1154.4 47 1153.8 50 1153.7 55.9 L1150.8 55.1 C1148 53.8 1145.5 52.5 1142.6 51.3 C1139.5 50 1136 48.4 1133.1 47.7 C1130.5 47.2 1128.5 46.9 1126.7 46.2 C1124 45.2 1121.8 44.4 1120.4 43.1 C1118.5 41.2 1117.2 38.6 1115.9 36.1 C1119 37.4 1123 38.6 1126.7 39.3 C1130 40 1133 40.6 1136.4 40.9 L1147.4 39.9 C1143 39.3 1142 39 1139.4 38.6 C1136 38 1133.5 37.4 1130.5 36.7 C1126 35.7 1121.5 35.4 1119.1 34.2 C1116.5 32.9 1115 31.6 1113.4 30.4 C1111.2 28.2 1109.6 25.8 1108 23.4Z" fill="#13232d"/>
<path d="M1136.2 40.8 L1153.4 41.9 L1154.3 43.8 L1139 43.2Z" fill="#d6924a"/>
<path d="M1153.2 42.6 L1143 50.7" stroke="#d6924a" stroke-width="0.9" fill="none"/>
<path d="M1138.5 33.8 L1149.3 39.7" stroke="#d6924a" stroke-width="0.9" fill="none"/>
<path d="M1149.8 54.4 L1153.9 52.8 L1153.8 56.7Z" fill="#d6924a"/>
</g>
<g transform="translate(2344 0) scale(-1 1)">
<path d="M1102.3 11.3 C1108 15.5 1114 17.2 1120.4 18.6 C1128 20.2 1140 22 1150.8 24.7 C1155 25.8 1158 28.5 1160.2 31.2 C1163 34.6 1167.5 36.4 1172 36.4 L1172 75.1 L1159.3 61.9 C1157.3 59.8 1156.4 57.5 1156.4 55.4 C1156.4 52 1156.6 49.5 1157.6 47 C1158.4 45.2 1158.6 44.2 1157 42.6 C1153.5 39.8 1150 37.5 1146.6 35.6 C1140 32 1133 29.2 1120.4 24.2 C1113 22 1108.5 21 1105.8 19.6 C1104.6 17 1103.6 14 1102.3 11.3Z" fill="#13232d"/>
<path d="M1108 23.4 C1112 25 1116 26 1120.4 27.2 C1124 28.2 1127 29 1130.5 30.1 C1134 31.4 1136 32.4 1138.1 33.6 C1141 35.2 1144 37 1146.6 38.7 C1150 41 1152.8 43 1154.3 44.8 C1154.4 47 1153.8 50 1153.7 55.9 L1150.8 55.1 C1148 53.8 1145.5 52.5 1142.6 51.3 C1139.5 50 1136 48.4 1133.1 47.7 C1130.5 47.2 1128.5 46.9 1126.7 46.2 C1124 45.2 1121.8 44.4 1120.4 43.1 C1118.5 41.2 1117.2 38.6 1115.9 36.1 C1119 37.4 1123 38.6 1126.7 39.3 C1130 40 1133 40.6 1136.4 40.9 L1147.4 39.9 C1143 39.3 1142 39 1139.4 38.6 C1136 38 1133.5 37.4 1130.5 36.7 C1126 35.7 1121.5 35.4 1119.1 34.2 C1116.5 32.9 1115 31.6 1113.4 30.4 C1111.2 28.2 1109.6 25.8 1108 23.4Z" fill="#13232d"/>
<path d="M1136.2 40.8 L1153.4 41.9 L1154.3 43.8 L1139 43.2Z" fill="#d6924a"/>
<path d="M1153.2 42.6 L1143 50.7" stroke="#d6924a" stroke-width="0.9" fill="none"/>
<path d="M1138.5 33.8 L1149.3 39.7" stroke="#d6924a" stroke-width="0.9" fill="none"/>
<path d="M1149.8 54.4 L1153.9 52.8 L1153.8 56.7Z" fill="#d6924a"/>
</g>
<path d="M1172 9.9 C1174 9.9 1176 10.1 1177.7 10.6 C1181 11.5 1184.8 13.8 1189.4 15.3 C1186 16.1 1183.5 17.4 1182 19.7 C1180.5 22 1180.2 24.5 1180.3 27 C1180.4 29 1180.6 30.4 1180.4 31 C1178.2 33 1175 33.6 1172 33.6 C1165.3 33.6 1159.9 28.3 1159.9 21.7 C1159.9 15.1 1165.3 9.9 1172 9.9Z" fill="#13232d"/>
<path d="M1166.2 18.2 C1167.6 16.8 1168.6 16.4 1169.6 16.6 C1170.3 18.4 1172.2 19.4 1174.2 19.2 C1176 19 1177.2 18.2 1177.8 17.4 C1178.6 19.6 1178 22 1176.4 23.6 C1174.4 25.4 1171.4 25.6 1169 24.4 C1166.8 23.2 1165.8 20.6 1166.2 18.2Z" fill="#fff"/>
<path d="M1172 40.2 L1163.1 54.1 L1172 50.3Z" fill="#dfa66a"/>
<path d="M1172 40.2 L1180.9 54.1 L1172 50.3Z" fill="#d4924a"/>
<path d="M1163.1 54.1 L1172 50.3 L1172 59.5Z" fill="#c07f3a"/>
<path d="M1180.9 54.1 L1172 50.3 L1172 59.5Z" fill="#a86e30"/>
<path d="M1163.4 56.3 L1172 61.3 L1172 68.1Z" fill="#dfa66a"/>
<path d="M1180.6 56.3 L1172 61.3 L1172 68.1Z" fill="#d4924a"/>
<path d="M1159.9 68.3 L1170.1 78.2 L1159.9 88Z M1184.1 68.3 L1173.9 78.2 L1184.1 88Z" fill="#13232d"/>
<path d="M1161.2 91.8 L1171 81.6 L1171 109.4 C1169 103 1166 97.5 1161.2 91.8Z M1182.8 91.8 L1173 81.6 L1173 109.4 C1175 103 1178 97.5 1182.8 91.8Z" fill="#13232d"/>
<rect x="1171" y="81.3" width="2" height="28.2" fill="#d9d9d9"/>
</g>
</svg>
</body></html>
